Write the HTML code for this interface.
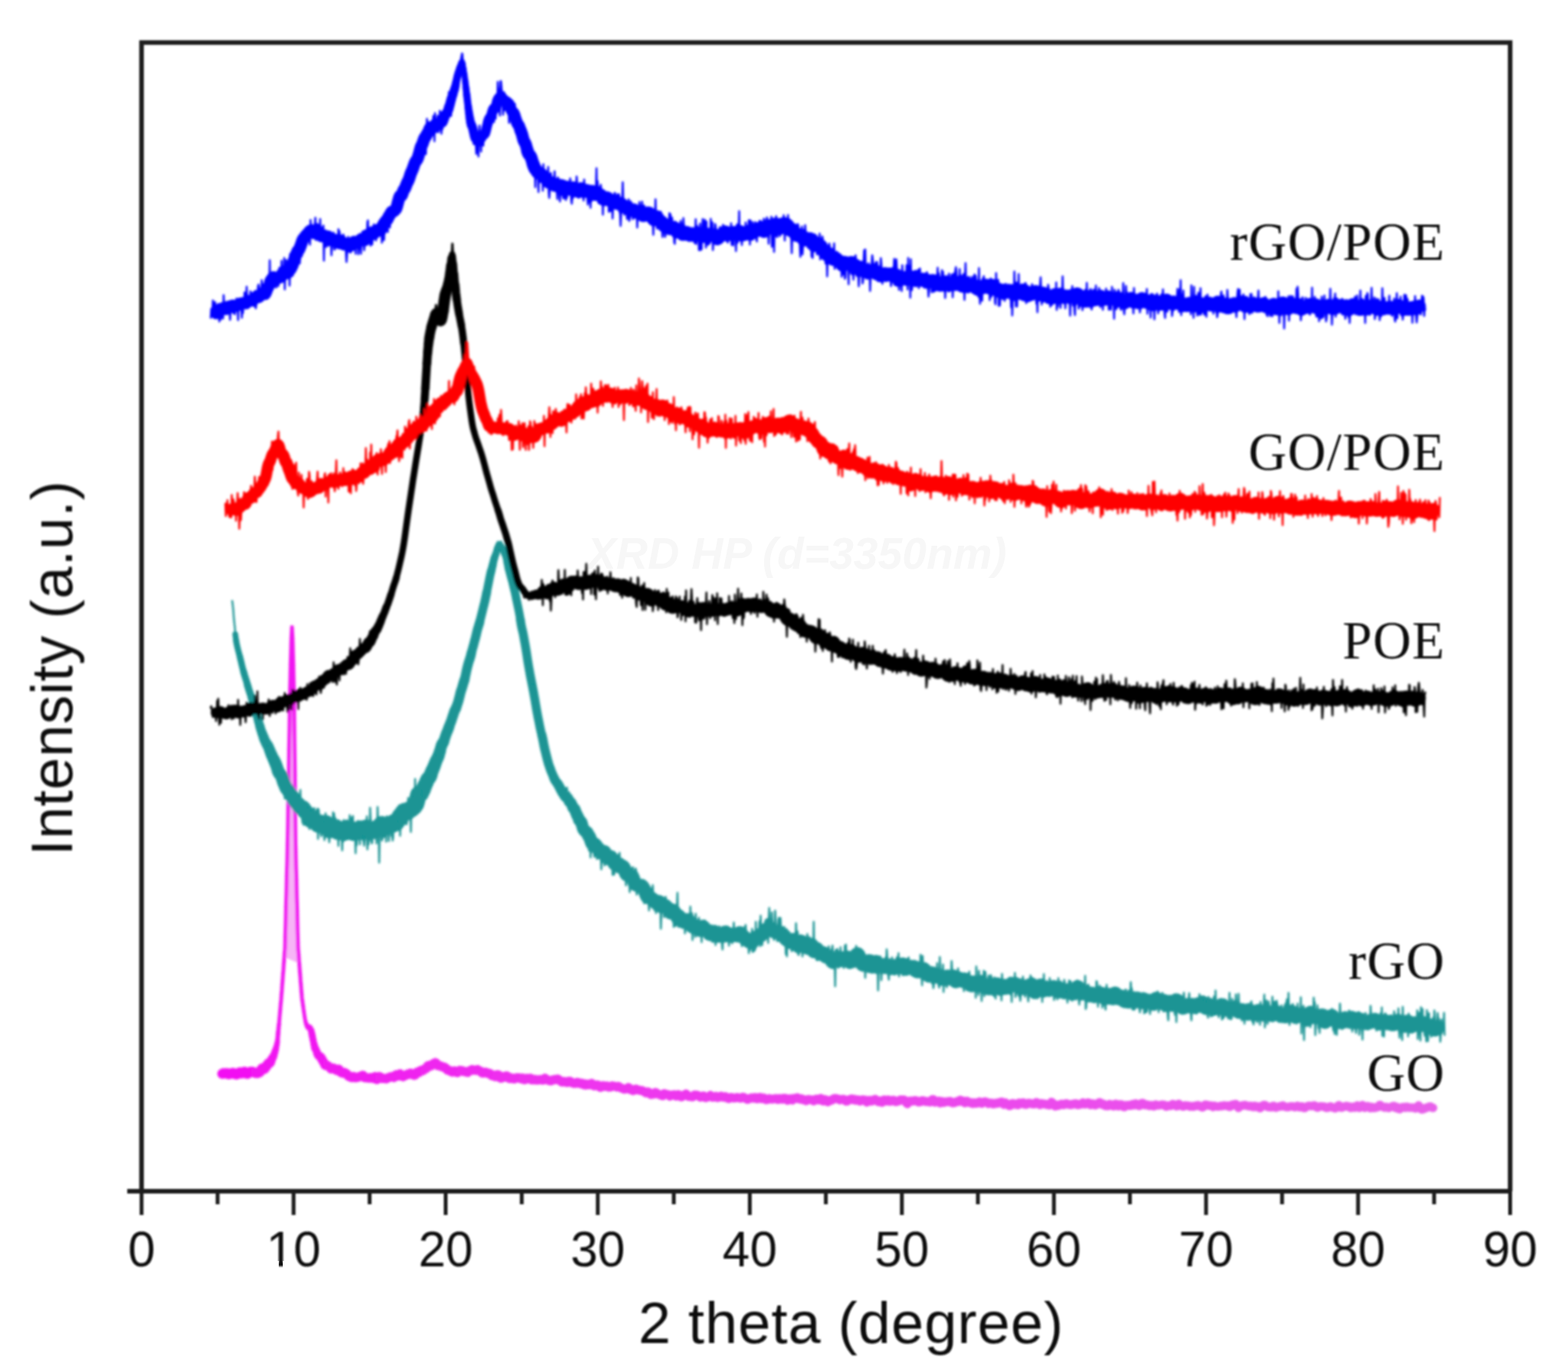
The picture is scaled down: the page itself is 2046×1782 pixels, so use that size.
<!DOCTYPE html>
<html><head><meta charset="utf-8"><title>XRD patterns</title>
<style>html,body{margin:0;padding:0;background:#fff;}body{width:2046px;height:1782px;overflow:hidden;}svg{display:block;}</style>
</head><body>
<svg xmlns="http://www.w3.org/2000/svg" width="2046" height="1782" viewBox="0 0 2046 1782">
<rect width="2046" height="1782" fill="#ffffff"/>
<text x="766" y="742" font-family="Liberation Sans, sans-serif" font-style="italic" font-weight="bold" font-size="57" fill="#f7f7f7">XRD HP (d=3350nm)</text>
<defs><filter id="bl" filterUnits="userSpaceOnUse" x="0" y="0" width="2046" height="1782"><feGaussianBlur stdDeviation="1.7"/></filter><linearGradient id="mg" gradientUnits="userSpaceOnUse" x1="290" y1="0" x2="1870" y2="0"><stop offset="0" stop-color="#f20ef2"/><stop offset="0.25" stop-color="#ee30ee"/><stop offset="1" stop-color="#e860ea"/></linearGradient><filter id="bl2" filterUnits="userSpaceOnUse" x="0" y="0" width="2046" height="1782"><feGaussianBlur stdDeviation="0.9"/></filter></defs>
<g filter="url(#bl)">
<path d="M371.0,1248.4 371.2,1245.0 371.5,1241.7 371.8,1238.3 372.0,1235.0 372.2,1225.1 372.5,1215.1 372.8,1205.2 373.0,1195.3 373.2,1185.4 373.5,1175.4 373.8,1165.5 374.0,1155.6 374.2,1145.7 374.5,1135.7 374.8,1125.8 375.0,1115.9 375.2,1106.0 375.5,1093.7 375.8,1078.1 376.0,1062.5 376.2,1046.9 376.5,1031.2 376.8,1015.6 377.0,1000.0 377.2,983.3 377.5,966.7 377.8,950.0 378.0,933.3 378.2,916.7 378.5,900.0 378.8,890.0 379.0,880.0 379.2,870.0 379.5,860.0 379.8,850.0 380.0,840.0 380.2,834.5 380.5,829.0 380.8,823.5 381.0,818.0 381.2,823.5 381.5,829.0 381.8,834.5 382.0,840.0 382.2,850.0 382.5,860.0 382.8,870.0 383.0,880.0 383.2,890.0 383.5,900.0 383.8,922.7 384.0,945.5 384.2,968.2 384.5,990.9 384.8,1016.7 385.0,1044.4 385.2,1072.2 385.5,1100.0 385.8,1110.2 386.0,1120.5 386.2,1130.7 386.5,1140.9 386.8,1151.1 387.0,1161.4 387.2,1171.6 387.5,1181.8 387.8,1192.0 388.0,1202.3 388.2,1212.5 388.5,1222.7 388.8,1233.0 389.0,1237.6 389.2,1240.8 389.5,1244.0 389.8,1247.2 390.0,1250.5 390.2,1253.7 390.5,1256.9 Z" fill="#f6b4f6" stroke="none"/>
<path d="M290.0 1400.8l1,-0.7 1,-0.2 1,0.3 1,0.4 1,-0.3 1,-0.5 1,0.8 1,0.9 1,-0.1 1,-0.3 1,-0.4 1,-0.7 1,-0.4 1,-0.1 1,0.4 1,0.8 1,0.7 1,0.4 1,-0.1 1,-0.7 1,-0.9 1,-0.8 1,-0.5 1,0.6 1,1 1,-0.1 1,-0.9 1,-0.7 1,-0.6 1,0.3 1,1.4 1,1.1 1,0 1,-0.8 1,-1 1,-0.7 1,-0.3 1,-0.1 1,0 1,0.3 1,0.4 1,0.4 1,0.6 1,0 1,0.3 1,0 1,-0.6 1,-0.2 1,-0.7 1,-1.8 1,-1.7 1,-1.1 1,0.4 1,0.5 1,-0.3 1,-1.4 1,-1.4 1,-1.4 1,-1.3 1,-1.3 1,-0.9" fill="none" stroke="url(#mg)" stroke-width="13.0" stroke-linejoin="round" stroke-linecap="round"/>
<path d="M351.0 1386.8l1,-0.3" fill="none" stroke="url(#mg)" stroke-width="12.5" stroke-linejoin="round" stroke-linecap="round"/>
<path d="M352.0 1386.5l1,-1" fill="none" stroke="url(#mg)" stroke-width="12.0" stroke-linejoin="round" stroke-linecap="round"/>
<path d="M353.0 1385.5l1,-2.5" fill="none" stroke="url(#mg)" stroke-width="11.5" stroke-linejoin="round" stroke-linecap="round"/>
<path d="M354.0 1383.0l1,-2.2" fill="none" stroke="url(#mg)" stroke-width="11.0" stroke-linejoin="round" stroke-linecap="round"/>
<path d="M355.0 1380.8l1,-1.8" fill="none" stroke="url(#mg)" stroke-width="10.5" stroke-linejoin="round" stroke-linecap="round"/>
<path d="M356.0 1379.0l1,-1.4" fill="none" stroke="url(#mg)" stroke-width="10.0" stroke-linejoin="round" stroke-linecap="round"/>
<path d="M357.0 1377.6l1,-3.2" fill="none" stroke="url(#mg)" stroke-width="9.5" stroke-linejoin="round" stroke-linecap="round"/>
<path d="M358.0 1374.4l1,-3.1" fill="none" stroke="url(#mg)" stroke-width="9.0" stroke-linejoin="round" stroke-linecap="round"/>
<path d="M359.0 1371.3l1,-3.2" fill="none" stroke="url(#mg)" stroke-width="8.5" stroke-linejoin="round" stroke-linecap="round"/>
<path d="M360.0 1368.1l1,-4.2" fill="none" stroke="url(#mg)" stroke-width="7.5" stroke-linejoin="round" stroke-linecap="round"/>
<path d="M361.0 1363.9l1,-5.3" fill="none" stroke="url(#mg)" stroke-width="7.0" stroke-linejoin="round" stroke-linecap="round"/>
<path d="M362.0 1358.6l1,-12" fill="none" stroke="url(#mg)" stroke-width="6.0" stroke-linejoin="round" stroke-linecap="round"/>
<path d="M363.0 1346.6l1,-10.4" fill="none" stroke="url(#mg)" stroke-width="5.5" stroke-linejoin="round" stroke-linecap="round"/>
<path d="M364.0 1336.2l1,-11.4 1,-11.4 0.2,-2.8 0.3,-2.9 0.3,-2.9 0.2,-2.8 0.2,-3.4 0.3,-3.3 0.3,-3.3 0.2,-3.4 0.2,-3.4 0.3,-3.3 0.3,-3.3 0.2,-3.4 0.2,-3.4 0.3,-3.3 0.3,-3.3 0.2,-3.4 0.2,-3.4 0.3,-3.3 0.3,-3.3 0.2,-3.4 0.2,-3.4 0.3,-3.3 0.3,-3.3 0.2,-3.4 0.2,-9.9 0.3,-10 0.3,-9.9 0.2,-9.9 0.2,-9.9 0.3,-10 0.3,-9.9 0.2,-9.9 0.2,-9.9 0.3,-10 0.3,-9.9 0.2,-9.9 0.2,-9.9 0.3,-12.3 0.3,-15.6 0.2,-15.6 0.2,-15.6 0.3,-15.7 0.3,-15.6 0.2,-15.6 0.2,-16.7 0.3,-16.6 0.3,-16.7 0.2,-16.7 0.2,-16.6 0.3,-16.7 0.3,-10 0.2,-10 0.2,-10 0.3,-10 0.3,-10 0.2,-10 0.2,-5.5 0.3,-5.5 0.3,-5.5 0.2,-5.5 0.2,5.5 0.3,5.5 0.3,5.5 0.2,5.5 0.2,10 0.3,10 0.3,10 0.2,10 0.2,10 0.3,10 0.3,22.7 0.2,22.8 0.2,22.7 0.3,22.7 0.3,25.8 0.2,27.7 0.2,27.8 0.3,27.8 0.3,10.2 0.2,10.3 0.2,10.2 0.3,10.2 0.3,10.2 0.2,10.3 0.2,10.2 0.3,10.2 0.3,10.2 0.2,10.3 0.2,10.2 0.3,10.2 0.3,10.3 0.2,4.6 0.2,3.2 0.3,3.2 0.3,3.2 0.2,3.3 0.2,3.2 0.3,3.2 0.3,3.2 0.2,3.2 0.2,3.3 0.3,3.2 0.3,3.2 0.2,3.2 0.2,3.3 0.3,3.2 0.3,3.2 0.2,3.2 0.2,3.2 0.3,3.3 0.3,3.2 0.2,3.2 0.2,1.8 0.3,1.7 0.3,1.7 0.2,1.8 0.2,1.8 0.3,1.7 0.3,1.7 0.2,1.8 1,7 1,6.7 1,4.1" fill="none" stroke="url(#mg)" stroke-width="5.0" stroke-linejoin="round" stroke-linecap="round"/>
<path d="M399.0 1333.8l1,3" fill="none" stroke="url(#mg)" stroke-width="5.5" stroke-linejoin="round" stroke-linecap="round"/>
<path d="M400.0 1336.8l1,1.7" fill="none" stroke="url(#mg)" stroke-width="6.0" stroke-linejoin="round" stroke-linecap="round"/>
<path d="M401.0 1338.5l1,1.7" fill="none" stroke="url(#mg)" stroke-width="6.5" stroke-linejoin="round" stroke-linecap="round"/>
<path d="M402.0 1340.2l1,-0.1" fill="none" stroke="url(#mg)" stroke-width="7.0" stroke-linejoin="round" stroke-linecap="round"/>
<path d="M403.0 1340.1l1,0.5" fill="none" stroke="url(#mg)" stroke-width="7.5" stroke-linejoin="round" stroke-linecap="round"/>
<path d="M404.0 1340.6l1,1.9 1,1.7" fill="none" stroke="url(#mg)" stroke-width="8.0" stroke-linejoin="round" stroke-linecap="round"/>
<path d="M406.0 1344.2l1,4.9" fill="none" stroke="url(#mg)" stroke-width="8.5" stroke-linejoin="round" stroke-linecap="round"/>
<path d="M407.0 1349.1l1,5 1,4.9 1,4.3" fill="none" stroke="url(#mg)" stroke-width="9.0" stroke-linejoin="round" stroke-linecap="round"/>
<path d="M410.0 1363.3l1,4.2" fill="none" stroke="url(#mg)" stroke-width="9.5" stroke-linejoin="round" stroke-linecap="round"/>
<path d="M411.0 1367.5l1,1.4 1,2.5 1,2.8" fill="none" stroke="url(#mg)" stroke-width="10.0" stroke-linejoin="round" stroke-linecap="round"/>
<path d="M414.0 1374.2l1,2" fill="none" stroke="url(#mg)" stroke-width="10.5" stroke-linejoin="round" stroke-linecap="round"/>
<path d="M415.0 1376.2l1,1.2 1,0.6 1,0.5" fill="none" stroke="url(#mg)" stroke-width="11.0" stroke-linejoin="round" stroke-linecap="round"/>
<path d="M418.0 1378.5l1,1.4" fill="none" stroke="url(#mg)" stroke-width="11.5" stroke-linejoin="round" stroke-linecap="round"/>
<path d="M419.0 1379.9l1,2 1,1.7 1,1.5 1,1.9 1,2.3 1,0.7 1,0 1,-0.2 1,0.7 1,1 1,0.5 1,1.2 1,1.3 1,-0.1 1,-1 1,-0.1 1,0.4 1,0.7 1,1.2 1,0.8 1,-0.2 1,-1.2 1,-0.3 1,1.5 1,1.9 1,1.1 1,0.3 1,0.5 1,-0.2 1,-0.8 1,0.4 1,0.7 1,0.4 1,1 1,1.7 1,1.1 1,-0.3 1,0.1 1,1.4 1,0.3 1,-1.2 1,-0.4 1,0.5 1,0.9 1,0.3 1,-0.1 1,0 1,-0.4 1,-0.5 1,-0.4 1,-0.5 1,0.5 1,-0.2 1,-1.5 1,0.3 1,1.8 1,1 1,0.1 1,0 1,0.1 1,0.1 1,-0.1 1,0.3 1,-0.4 1,-0.3 1,0.4 1,0.6 1,0.2 1,-1.1 1,-1.4 1,0.1 1,2 1,1.7 1,-0.4 1,-1.9 1,-1.5 1,0.3 1,1.3 1,0.4 1,0.3 1,0.4 1,-0.1 1,-0.2 1,0.4 1,0.2 1,-0.6 1,-0.5 1,-0.6 1,-0.4 1,-0.1 1,-0.4 1,-0.4 1,0.1 1,0.5 1,0.6 1,-0.7 1,-2 1,-0.9 1,0.9 1,0.6 1,-1 1,-1.2 1,-0.4 1,0.7 1,1.3 1,1.4 1,0.3 1,-0.8 1,-0.5 1,-0.3 1,-0.4 1,-0.8 1,-0.7 1,0.5 1,-0.2 1,-1.2 1,-0.2 1,0.9 1,0.7 1,0.6 1,0.4 1,0.1 1,-0.5 1,-1.8 1,-1.6 1,-0.4 1,0.8 1,-0.1 1,-1.4 1,-1.2 1,-0.2 1,0.5 1,-0.3 1,-1 1,-1.1 1,-0.2 1,-0.1 1,-1.5 1,-1.9 1,-0.6 1,0.4 1,0.3 1,-0.1 1,-0.7 1,-1.4 1,-0.9 1,0.1 1,-0.9 1,-0.5 1,0.5 1,1.5 1,1.6 1,0.3 1,0 1,0.3 1,0 1,0.7 1,0.6 1,0.1 1,-0.1 1,0.4 1,0.4 1,1.1 1,1.3 1,0.9 1,0 1,0.1 1,1 1,0.6 1,0.1 1,0.8 1,-0.1 1,-1.1 1,-0.3 1,0.7 1,0.7 1,0.5 1,0.3 1,-1 1,-1.4 1,-0.6 1,0.2 1,0.1 1,0.1 1,0.6 1,0.5 1,0 1,0.3 1,0.3 1,0.2 1,0.4 1,-0.6 1,-1.2 1,-0.2 1,-0.2 1,-1 1,-0.5 1,0.4 1,0.2 1,0 1,0.2 1,0.2 1,-0.6 1,-0.3 1,0.8 1,0.6 1,0.2 1,0.4 1,0.8 1,1.3 1,0.4 1,-0.2 1,-0.3 1,-0.5 1,-0.2 1,0.9 1,0.6 1,-0.2 1,0 1,0.4 1,1 1,1 1,0.8 1,-0.3 1,-0.4 1,0.8 1,1.2 1,-0.2 1,-1.4 1,-0.9 1,0.1 1,0.6 1,1.8 1,1.9 1,0.2 1,-0.8 1,-0.6 1,0.2 1,-0.1 1,-1.1 1,-0.5 1,-0.1 1,0.3 1,1.2 1,1.5 1,0.3 1,-0.8 1,0 1,0.9 1,0.1 1,0.1 1,0.3 1,-0.8 1,-0.5 1,0.3 1,-0.4 1,-0.2 1,0.5 1,-0.1 1,0.2 1,0.9 1,-0.1 1,-0.9 1,0.8 1,1.3 1,0.1 1,-1 1,-0.7 1,-0.1 1,0.2 1,0.5 1,-0.4 1,-0.4 1,1.1 1,0.9 1,-0.4 1,-0.3 1,0.7 1,0.1 1,-0.4 1,0.1 1,0.5 1,0 1,-0.4 1,-0.1 1,0.1 1,-0.1 1,0.1 1,0.5 1,-0.2 1,-1.4 1,-0.9 1,0.7 1,0.9 1,0.3 1,0.5 1,0.5 1,0.2 1,0.2 1,0.1 1,-0.5 1,-0.6 1,-0.3 1,-0.1 1,-0.2 1,-0.1 1,-0.1 1,-0.2 1,-0.2 1,0.9 1,1 1,0.2 1,0.6 1,0.9 1,0.2 1,-0.5 1,-0.1 1,0.2 1,0.3 1,0.5 1,0.2 1,-0.6 1,-0.7 1,-0.4 1,0.3 1,0.9 1,0.7 1,0.2 1,0.5 1,0.3 1,-0.2 1,0.2 1,-0.4 1,-0.9 1,0.1 1,0.7 1,0.5 1,-0.2 1,-0.1 1,1 1,0.3 1,-0.8 1,0.5 1,1.4 1,0.1 1,-0.9 1,-0.3 1,0.4 1,0.4 1,-0.1 1,-0.3 1,-0.8 1,-0.5 1,0.9 1,1.1 1,0.9 1,0.2 1,-0.5 1,-0.6 1,0 1,0.1 1,0.9 1,0.9 1,0.9" fill="none" stroke="url(#mg)" stroke-width="12.0" stroke-linejoin="round" stroke-linecap="round"/>
<path d="M783.0 1418.2l1,0.4 1,-0.8 1,-1.4 1,-0.4 1,0.9 1,0.5 1,-0.3 1,-0.7 1,0.1 1,1.2 1,0.7 1,-0.3 1,0.1 1,-0.1 1,-1 1,-0.8 1,0.4 1,0.2 1,0.1 1,0.2 1,0.7 1,0.3 1,-0.9 1,-0.2 1,0.6 1,0.7 1,0.7 1,0.5 1,0.4 1,0.3 1,0.6 1,0.2 1,-0.6 1,-0.1 1,0.2 1,-0.7 1,-1.2 1,0.6 1,1.5 1,0.9 1,0.1 1,0.1 1,1 1,-0.2 1,-1.2 1,-0.7 1,-0.2 1,0.5 1,0.5 1,0.3 1,0.4 1,0.3 1,0.1 1,-0.2 1,0.2 1,0.5 1,0.9 1,0.4 1,0.6 1,0.6 1,-0.6 1,-0.8 1,0.1 1,0.7 1,1.5 1,1.4 1,0 1,-0.9 1,-0.1 1,0.4 1,-0.8 1,-1.5 1,0.1 1,0.9 1,0.7 1,0.8 1,0.3 1,-0.1 1,0.5 1,0.6 1,0.6 1,0 1,-1.6 1,-1.3 1,0.4 1,0.7 1,0.1 1,-0.1 1,0.3 1,1.1 1,0.9 1,-0.6 1,-0.9 1,0 1,0 1,-0.4 1,0 1,0.8 1,1.2 1,0 1,-1.3 1,-0.9 1,0.4 1,0.6 1,1.2 1,0.9 1,-0.3 1,-1.1 1,-0.7 1,0.1 1,-0.8 1,-1.2 1,0.8 1,1.6 1,0.7 1,0.5 1,0 1,-0.1 1,0.2 1,0.3 1,-0.2 1,-1.1 1,-1.2 1,-0.2 1,0.4 1,-0.2 1,0.3 1,0.7 1,0.5 1,0.7 1,0.8 1,-0.4 1,-1 1,-0.4 1,-0.1 1,0.8 1,1.1 1,0.5 1,-0.3 1,-0.5 1,-0.2 1,-0.4 1,-0.9 1,-0.7 1,0.8 1,1.2 1,0.5 1,-0.3 1,-0.5 1,-0.4 1,-0.2 1,0.7 1,1.1 1,-0.1 1,-0.4 1,-0.3 1,-0.9 1,-0.4 1,0.5 1,0.9 1,0.3 1,-0.5 1,-0.5 1,0.2 1,0.8 1,0.8 1,0.7 1,0.2 1,-0.6 1,-0.8 1,-0.3 1,0.3 1,0.3 1,0.4 1,0.1 1,-0.3 1,-0.1 1,-0.4 1,-0.2 1,0.5 1,0.1 1,0 1,0.6 1,0 1,-0.9 1,-0.6 1,-0.1 1,0.6 1,0.7 1,0.4 1,0.6 1,0.7 1,0 1,-0.5 1,-0.5 1,-0.5 1,-0.6 1,-0.1 1,0.6 1,0.2 1,-0.8 1,-0.4 1,1 1,0.7 1,0.3 1,-0.6 1,-1 1,-0.5 1,-0.1 1,0.7 1,1.3 1,-0.2 1,-0.9 1,-0.1 1,1 1,1.2 1,0.3 1,-0.2 1,-0.1 1,-0.6 1,-0.7 1,0.4 1,0.2 1,0.2 1,0 1,-0.5 1,0 1,0.1 1,-0.5 1,0.2 1,0.9 1,0.4 1,-0.3 1,-1 1,-0.2 1,0.3 1,0.3 1,0.5 1,-0.7 1,-0.8 1,0.1 1,0.1 1,0.9 1,1.3 1,0.5 1,-1 1,-0.9 1,-0.4 1,0.4 1,1 1,0.5 1,-1.1 1,-1.2 1,0.5 1,0 1,-0.8 1,-0.6 1,0.2 1,1.2 1,0.6 1,-0.2 1,-0.5 1,0.2 1,1 1,0.4 1,-0.3 1,0.1 1,0.8 1,0.6 1,-0.7 1,-0.9 1,-0.2 1,0.2 1,0.1 1,0.1 1,0.1 1,0.2 1,1 1,0.3 1,-1 1,-0.9 1,-0.6 1,0 1,0.3 1,1 1,-0.2 1,-1.4 1,-0.6 1,0.9 1,2.1 1,0.6 1,-1.2 1,-1 1,0.3 1,1 1,1.2 1,0.7 1,-0.3 1,-0.9 1,-0.8 1,-0.2 1,0.2 1,-0.5 1,-0.9 1,-0.8 1,-0.2 1,0.1 1,-0.1 1,0.1 1,0.5 1,0.3 1,0.6 1,0.4 1,-0.3 1,-0.3 1,0 1,-0.3 1,0.2 1,0.5 1,0.8 1,1.1 1,-0.1 1,-0.5 1,-0.6 1,-0.8 1,0.1 1,-0.5 1,-0.8 1,0.2 1,1.1 1,0 1,-0.6 1,0.8 1,0.6 1,-0.4 1,-0.4 1,0 1,0.9 1,0.9 1,-0.5 1,-0.6 1,-0.2 1,-0.6 1,0.4 1,0.2 1,-0.1 1,1.3 1,1.5 1,-0.6 1,-1.4 1,-0.5 1,-0.1 1,0.5 1,0.8 1,-0.2 1,-0.7 1,-0.7 1,-0.8 1,-0.1 1,0.8 1,0.8 1,0.8 1,0.7 1,-0.4 1,-0.8 1,0.6 1,1.3 1,0.2 1,-1.4 1,-1.6 1,-0.4 1,0.7 1,0.7 1,0.3 1,-0.7 1,-0.8 1,0.8 1,1.1 1,0 1,-0.7 1,-0.5 1,-0.4 1,0 1,0.9 1,0.9 1,0.2 1,-0.1 1,-0.7 1,-0.2 1,0 1,-0.7 1,-0.7 1,0 1,0.2 1,-0.1 1,-0.1 1,0.3 1,0.8 1,1.5 1,1.7 1,0.7 1,-1.1 1,-1.3 1,-1 1,-0.2 1,0.2 1,0.2 1,0 1,-0.5 1,-0.4 1,-0.1 1,0.2 1,0.2 1,0.4 1,1.1 1,0.2 1,-0.6 1,0.2 1,-0.4 1,-1 1,-0.2 1,0.5 1,0.1 1,0.2 1,0.5 1,0.2 1,-0.2 1,0.1 1,0 1,0.5 1,0.1 1,-1.4 1,-1.4 1,-0.6 1,0.2 1,1.8 1,1.6 1,-0.5 1,-0.3 1,0.3 1,-0.5 1,-0.7 1,1.2 1,1.4 1,-0.5 1,-1.4 1,0.4 1,1 1,-0.2 1,-0.7 1,0 1,0 1,-0.2 1,0 1,-0.1 1,-0.4 1,0 1,0.7 1,1 1,0.3 1,0 1,-0.1 1,-0.3 1,-0.7 1,-0.5 1,-0.2 1,0.3 1,-0.4 1,-1.3 1,-0.4 1,0.9 1,0.9 1,-0.1 1,-0.4 1,0.9 1,1.5 1,-0.8 1,-1.6 1,0.1 1,1.3 1,0.4 1,0 1,0 1,0.2 1,0.9 1,0.4 1,-0.9 1,-0.4 1,0.4 1,0.5 1,0.1 1,-0.5 1,-0.6 1,-0.4 1,-0.5 1,0.6 1,1.1 1,0.4 1,-0.9 1,-0.7 1,-0.4 1,-0.3 1,0.2 1,0.3 1,0.5 1,0.9 1,0.6 1,-0.4 1,-0.2 1,-0.2 1,0 1,0.7 1,0.6 1,-0.2 1,-0.5 1,-0.3 1,-0.1 1,0.3 1,-0.2 1,-0.6 1,-0.3 1,-0.2 1,-0.5 1,-0.1 1,0.8 1,1.7 1,0.7 1,-1.1 1,-0.9 1,0.7 1,1.2 1,0.5 1,0.6 1,0.8 1,-0.2 1,-1.1 1,-1.2 1,-0.6 1,0.2 1,0.8 1,0.3 1,-0.4 1,-0.1 1,0.7 1,0.4 1,-1.1 1,-1.3 1,0.3 1,0.8 1,0 1,-1 1,-0.5 1,0.7 1,1.2 1,0.4 1,0.1 1,-0.4 1,-1.1 1,-0.4 1,0.4 1,-0.2 1,0.3 1,0.6 1,0 1,0.1 1,0.1 1,-0.1 1,-0.8 1,-1.2 1,0.2 1,1 1,0.3 1,0.8 1,0.7 1,-0.7 1,-1 1,0.1 1,0.4 1,0.2 1,0 1,0 1,0.5 1,0.4 1,-0.2 1,0.4 1,0.4 1,-0.8 1,-1.7 1,-1.3 1,0.5 1,1.3 1,0.9 1,1.3 1,1.2 1,-0.8 1,-0.8 1,0.6 1,0.1 1,-0.6 1,-0.5 1,-0.3 1,-0.5 1,0.1 1,0.9 1,0 1,-0.8 1,-0.4 1,-0.4 1,0 1,0.7 1,0.3 1,0 1,0.3 1,0.3 1,-0.3 1,-0.5 1,0.1 1,0 1,-0.6 1,-0.2 1,0 1,0.7 1,0.7 1,0 1,-0.3 1,-0.4 1,-0.1 1,0.1 1,-1 1,-0.8 1,0.5 1,0.7 1,0.5 1,-0.4 1,-0.7 1,-0.5 1,-0.2 1,0.5 1,1.4 1,0.8 1,-0.9 1,-0.6 1,0.2 1,0.5 1,0.7 1,0.5 1,-0.4 1,-0.5 1,-0.6 1,-0.8 1,-0.8 1,-0.3 1,0.7 1,0.9 1,0.8 1,0 1,-0.4 1,1.1 1,1 1,-0.4 1,0.1 1,0.6 1,-0.2 1,-1 1,-0.9 1,0.2 1,1 1,0.6 1,0.1 1,0.4 1,-0.8 1,-1.6 1,-0.3 1,0.8 1,1.3 1,0.5 1,-1.2 1,-0.7 1,0.1 1,-0.1 1,0.5 1,1.4 1,1 1,0.1 1,-0.8 1,-1.1 1,0 1,0.3 1,-0.3 1,-0.2 1,0.1 1,0.4 1,-0.4 1,-1.1 1,-0.2 1,0.6 1,0.4 1,-0.9 1,-0.8 1,0.6 1,0.6 1,0.4 1,1 1,-0.2 1,-1.3 1,-1 1,-0.8 1,0.1 1,0.7 1,1 1,0.6 1,0 1,-0.4 1,0.1 1,0.4 1,0.5 1,0.4 1,-0.3 1,-0.3 1,0.2 1,0.2 1,0.5 1,0 1,-0.9 1,-0.8" fill="none" stroke="url(#mg)" stroke-width="11.5" stroke-linejoin="round" stroke-linecap="round"/>
<path d="M1508.0 1441.2l1,0 1,0.5 1,0.4 1,0 1,-0.2 1,-0.2 1,-0.3 1,-0.3 1,0 1,0.1 1,0.1 1,0.6 1,1.4 1,0.4 1,-0.9 1,-0.6 1,0 1,0.3 1,0.3 1,-0.4 1,-1.1 1,-1 1,0.3 1,0.6 1,0.1 1,0.8 1,1.1 1,-0.1 1,-1.9 1,-1.3 1,1.1 1,0.8 1,0.1 1,0.8 1,0.6 1,0.2 1,-0.5 1,-0.8 1,-0.2 1,0.5 1,0 1,-0.2 1,0.2 1,0.6 1,0.6 1,-0.2 1,-0.5 1,0.2 1,0.6 1,-0.3 1,-0.8 1,-0.4 1,0.4 1,-0.3 1,-0.6 1,0.2 1,0.9 1,0.4 1,0.4 1,0.6 1,0.4 1,-0.5 1,-1.4 1,-1.3 1,-0.5 1,0.7 1,0.3 1,-0.4 1,0.4 1,0.5 1,0.1 1,-0.3 1,-0.1 1,1 1,0.9 1,-0.7 1,-0.8 1,0.3 1,0.4 1,-0.1 1,0.4 1,-0.1 1,-0.1 1,-0.2 1,-0.6 1,0.1 1,0.4 1,-0.6 1,-0.6 1,0.2 1,0.2 1,0.4 1,-0.2 1,-0.2 1,0.8 1,0.8 1,0.1 1,-0.9 1,-1.3 1,-0.7 1,0.3 1,0.1 1,-0.6 1,-0.7 1,0.4 1,1.7 1,1.8 1,1.1 1,-0.6 1,-1.2 1,-0.3 1,-0.7 1,-0.5 1,0.3 1,-0.3 1,-0.4 1,0.2 1,0.6 1,0.2 1,0.2 1,0.4 1,0.1 1,-0.5 1,-0.1 1,0.6 1,0.6 1,0.4 1,-0.6 1,-1 1,0.7 1,0.8 1,-0.2 1,-0.6 1,0.6 1,1.3 1,0.5 1,-0.6 1,-1.3 1,-1.2 1,-0.7 1,-0.5 1,0.1 1,0.3 1,0.6 1,0.7 1,0.8 1,0.4 1,-0.1 1,0 1,0.3 1,0.1 1,-0.9 1,-1 1,-0.1 1,1 1,1.2 1,0.3 1,-0.6 1,-0.4 1,-0.2 1,-0.3 1,-0.4 1,0.3 1,-0.3 1,-0.9 1,-0.2 1,0.5 1,0.7 1,0.6 1,0.2 1,0.2 1,0 1,-0.1 1,-0.3 1,-0.3 1,-0.4 1,0.1 1,-0.1 1,0.1 1,0.5 1,0.5 1,0.1 1,-0.6 1,-0.6 1,-0.7 1,0.4 1,1.3 1,0.3 1,-0.3 1,-0.6 1,-0.3 1,1 1,0.9 1,0.3 1,-0.1 1,-1 1,-0.8 1,-0.5 1,-0.3 1,-0.2 1,0 1,0.3 1,0.2 1,-0.2 1,-0.4 1,-0.3 1,-0.2 1,0.5 1,1 1,1 1,0.6 1,-0.3 1,-0.8 1,-0.6 1,-0.1 1,-0.1 1,0 1,0.5 1,0.1 1,-0.3 1,0.4 1,1.2 1,0.2 1,-0.5 1,0.1 1,-0.3 1,-0.8 1,-0.6 1,0.6 1,0.9 1,0.2 1,0.2 1,0.3 1,0.5 1,-0.2 1,-1.3 1,-1.1 1,-0.9 1,-0.6 1,0.8 1,1.6 1,0.9 1,0 1,-0.6 1,-0.7 1,-0.4 1,0 1,-0.5 1,-0.2 1,0.8 1,-0.1 1,-0.2 1,1 1,1.1 1,0.1 1,-1.1 1,-0.4 1,0.6 1,0.3 1,0.2 1,-0.8 1,-1.5 1,-0.5 1,1.1 1,1.6 1,0.4 1,-0.8 1,-1.1 1,-1.1 1,-0.7 1,1.2 1,1.6 1,0.8 1,-0.5 1,-1 1,-0.5 1,-0.2 1,0.4 1,1.3 1,1 1,-0.9 1,-0.7 1,0.8 1,0.5 1,-0.3 1,0.2 1,-0.2 1,-0.9 1,0.2 1,0.1 1,-1.7 1,-1.3 1,0 1,0.9 1,0.9 1,0.3 1,0.7 1,0.6 1,0 1,-0.5 1,-0.3 1,0.3 1,0.8 1,0.2 1,-0.3 1,-0.7 1,-0.3 1,-0.3 1,-0.6 1,-0.5 1,0 1,1.3 1,1.5 1,-0.6 1,-0.7 1,1 1,1.4 1,0.4 1,-0.5 1,-0.7 1,-0.9 1,-0.7 1,0 1,-0.1 1,0.3 1,0.8 1,-0.5 1,-0.8 1,0.5 1,0.6 1,-0.3 1,0 1,0.4 1,-0.1 1,0.1 1,-0.2 1,0.1 1,0.7 1,0.4 1,-0.3 1,-0.9 1,-1.7 1,-1.1 1,0.9 1,1.8 1,1.7 1,0.9 1,-0.1 1,-0.2 1,-0.5 1,-0.3 1,-0.6 1,-0.8 1,0.1 1,-0.5 1,-0.5 1,-0.4 1,-0.2 1,0.2 1,1 1,0.7 1,-0.1" fill="none" stroke="url(#mg)" stroke-width="11.0" stroke-linejoin="round" stroke-linecap="round"/>
<path d="M307.0 827.4l1,7.8" fill="none" stroke="#1a9494" stroke-width="7.5" stroke-linejoin="round" stroke-linecap="round"/>
<path d="M308.0 835.2l1,5.7 1,4.4 1,3.9 1,3.7 1,3.9" fill="none" stroke="#1a9494" stroke-width="8.0" stroke-linejoin="round" stroke-linecap="round"/>
<path d="M313.0 856.8l1,4 1,4.2 1,4.3 1,3.8 1,3.7" fill="none" stroke="#1a9494" stroke-width="8.5" stroke-linejoin="round" stroke-linecap="round"/>
<path d="M318.0 876.8l1,3.5 1,3.2 1,3.1 1,3.5 1,3.6" fill="none" stroke="#1a9494" stroke-width="9.0" stroke-linejoin="round" stroke-linecap="round"/>
<path d="M323.0 893.7l1,3.5 1,3.3 1,2.9 1,3 1,3.1" fill="none" stroke="#1a9494" stroke-width="9.5" stroke-linejoin="round" stroke-linecap="round"/>
<path d="M328.0 909.5l1,3.3 1,3.5 1,3.4 1,3.4" fill="none" stroke="#1a9494" stroke-width="10.0" stroke-linejoin="round" stroke-linecap="round"/>
<path d="M332.0 923.1l1,3.5 1,3.5" fill="none" stroke="#1a9494" stroke-width="10.5" stroke-linejoin="round" stroke-linecap="round"/>
<path d="M334.0 930.1l1,3.1 1,3.1 1,3.4" fill="none" stroke="#1a9494" stroke-width="11.0" stroke-linejoin="round" stroke-linecap="round"/>
<path d="M337.0 939.7l1,3.8 1,3.7" fill="none" stroke="#1a9494" stroke-width="11.5" stroke-linejoin="round" stroke-linecap="round"/>
<path d="M339.0 947.2l1,3.5 1,3.1 1,2.7" fill="none" stroke="#1a9494" stroke-width="12.0" stroke-linejoin="round" stroke-linecap="round"/>
<path d="M342.0 956.5l1,2.5 1,2.8" fill="none" stroke="#1a9494" stroke-width="12.5" stroke-linejoin="round" stroke-linecap="round"/>
<path d="M344.0 961.8l1,2.8 1,2.3 1,1.8" fill="none" stroke="#1a9494" stroke-width="13.0" stroke-linejoin="round" stroke-linecap="round"/>
<path d="M347.0 968.7l1,1.8 1,1.6" fill="none" stroke="#1a9494" stroke-width="13.5" stroke-linejoin="round" stroke-linecap="round"/>
<path d="M349.0 972.1l1,1.7 1,2.3 1,2.8" fill="none" stroke="#1a9494" stroke-width="14.0" stroke-linejoin="round" stroke-linecap="round"/>
<path d="M352.0 978.9l1,2.7 1,2.4" fill="none" stroke="#1a9494" stroke-width="14.5" stroke-linejoin="round" stroke-linecap="round"/>
<path d="M354.0 984.0l1,2.3 1,2.2 1,1.9" fill="none" stroke="#1a9494" stroke-width="15.0" stroke-linejoin="round" stroke-linecap="round"/>
<path d="M357.0 990.4l1,1.9 1,2.3" fill="none" stroke="#1a9494" stroke-width="15.5" stroke-linejoin="round" stroke-linecap="round"/>
<path d="M359.0 994.6l1,2.4 1,2.7 1,3.2 1,3" fill="none" stroke="#1a9494" stroke-width="16.0" stroke-linejoin="round" stroke-linecap="round"/>
<path d="M363.0 1005.9l1,2.2 1,1.6 1,0.7 1,1.1 1,2.3" fill="none" stroke="#1a9494" stroke-width="16.5" stroke-linejoin="round" stroke-linecap="round"/>
<path d="M368.0 1013.8l1,3.3 1,3.3 1,2.2 1,2 1,2.3" fill="none" stroke="#1a9494" stroke-width="17.0" stroke-linejoin="round" stroke-linecap="round"/>
<path d="M373.0 1026.9l1,2 1,1 1,0.9 1,1.7 1,2" fill="none" stroke="#1a9494" stroke-width="17.5" stroke-linejoin="round" stroke-linecap="round"/>
<path d="M378.0 1034.5l1,1.6 1,1.4 1,1 1,1.2 1,2.1" fill="none" stroke="#1a9494" stroke-width="18.0" stroke-linejoin="round" stroke-linecap="round"/>
<path d="M383.0 1041.8l1,2.1 1,1.3 1,1.2 1,0.9 1,0.8" fill="none" stroke="#1a9494" stroke-width="18.5" stroke-linejoin="round" stroke-linecap="round"/>
<path d="M388.0 1048.1l1,1.3 1,1.8 1,1.6 1,0.9 1,0.2" fill="none" stroke="#1a9494" stroke-width="19.0" stroke-linejoin="round" stroke-linecap="round"/>
<path d="M393.0 1053.9l1,-0.3 1,0 1,0.9 1,1.6 1,1.7" fill="none" stroke="#1a9494" stroke-width="19.5" stroke-linejoin="round" stroke-linecap="round"/>
<path d="M398.0 1057.8l1,1.5 1,1.1 1,0.9 1,2 1,3.1" fill="none" stroke="#1a9494" stroke-width="20.0" stroke-linejoin="round" stroke-linecap="round"/>
<path d="M403.0 1066.4l1,2.1 1,1 1,0.8 1,-0.1 1,-1" fill="none" stroke="#1a9494" stroke-width="20.5" stroke-linejoin="round" stroke-linecap="round"/>
<path d="M408.0 1069.2l1,-0.4 1,0.5 1,1.2 1,1.3 1,1.1" fill="none" stroke="#1a9494" stroke-width="21.0" stroke-linejoin="round" stroke-linecap="round"/>
<path d="M413.0 1072.9l1,1.4 1,1.1 1,0.5 1,-0.3 1,-1.1" fill="none" stroke="#1a9494" stroke-width="21.5" stroke-linejoin="round" stroke-linecap="round"/>
<path d="M418.0 1074.5l1,-0.6 1,0.8 1,0.7 1,0 1,-0.5 1,-0.4 1,-0.1 1,0.3 1,1.1 1,2.3 1,3.2 1,1.4 1,-1.8 1,-2.1 1,-0.4 1,-0.1 1,0.3 1,1.2 1,1.4 1,0.9 1,0.8 1,0.9 1,0.9 1,-0.3 1,-1.4 1,-1.1 1,0.3 1,1.5 1,1.8 1,0.7 1,-0.4 1,-1.3 1,-2.3 1,-1.5 1,0.9 1,2.1 1,1 1,-0.2 1,-0.4 1,-0.7 1,-0.1 1,1.3 1,1.2 1,-0.4 1,-1.7 1,-1 1,0.9 1,1.6 1,0 1,-1.8 1,-1.7 1,-0.3 1,1 1,1.1 1,0.9 1,0.4 1,-1 1,-1.9 1,-1.4 1,-0.4 1,1.4 1,2.3 1,0.4 1,-0.9 1,0.2 1,0.6 1,-0.3 1,-0.2 1,-0.2 1,-0.6 1,-0.7 1,-0.5 1,-0.7 1,-0.5 1,0.3 1,0.2 1,-0.4 1,-0.9 1,-2.1 1,-1.9 1,0.6 1,2.4 1,1 1,-1.1 1,-1 1,0.6 1,0.5 1,-1.1 1,-1.3 1,-0.1 1,0.1 1,-0.2 1,0 1,-0.5 1,-1.3 1,-1.2 1,0.1 1,0.6 1,-0.6 1,-1.8 1,-1.5 1,-0.8 1,-1.3 1,-2.3 1,-1.5 1,0.1 1,-0.8 1,-2.2 1,-1.8 1,-0.9 1,0.1 1,0.7 1,0.3 1,-0.6 1,-1.1 1,-1.1 1,-0.6 1,-0.4 1,-0.6 1,-0.9 1,-0.8 1,-0.7 1,-1.4 1,-1.5" fill="none" stroke="#1a9494" stroke-width="22.0" stroke-linejoin="round" stroke-linecap="round"/>
<path d="M542.0 1049.7l1,-1.3 1,-3.5" fill="none" stroke="#1a9494" stroke-width="21.5" stroke-linejoin="round" stroke-linecap="round"/>
<path d="M544.0 1044.9l1,-5.4 1,-3.6 1,-0.4" fill="none" stroke="#1a9494" stroke-width="21.0" stroke-linejoin="round" stroke-linecap="round"/>
<path d="M547.0 1035.5l1,0.8 1,-0.4" fill="none" stroke="#1a9494" stroke-width="20.5" stroke-linejoin="round" stroke-linecap="round"/>
<path d="M549.0 1035.9l1,-1.7 1,-2 1,-1.8" fill="none" stroke="#1a9494" stroke-width="20.0" stroke-linejoin="round" stroke-linecap="round"/>
<path d="M552.0 1030.4l1,-2.3 1,-2.5" fill="none" stroke="#1a9494" stroke-width="19.5" stroke-linejoin="round" stroke-linecap="round"/>
<path d="M554.0 1025.6l1,-1.9 1,-2 1,-2.9" fill="none" stroke="#1a9494" stroke-width="19.0" stroke-linejoin="round" stroke-linecap="round"/>
<path d="M557.0 1018.8l1,-2.4 1,-1" fill="none" stroke="#1a9494" stroke-width="18.5" stroke-linejoin="round" stroke-linecap="round"/>
<path d="M559.0 1015.4l1,-0.4 1,-1.5 1,-2.8" fill="none" stroke="#1a9494" stroke-width="18.0" stroke-linejoin="round" stroke-linecap="round"/>
<path d="M562.0 1010.7l1,-3.1 1,-2.5" fill="none" stroke="#1a9494" stroke-width="17.5" stroke-linejoin="round" stroke-linecap="round"/>
<path d="M564.0 1005.1l1,-2.1 1,-2.3 1,-2.6" fill="none" stroke="#1a9494" stroke-width="17.0" stroke-linejoin="round" stroke-linecap="round"/>
<path d="M567.0 998.1l1,-2.8 1,-2.6" fill="none" stroke="#1a9494" stroke-width="16.5" stroke-linejoin="round" stroke-linecap="round"/>
<path d="M569.0 992.7l1,-1.9 1,-1.9 1,-2.4" fill="none" stroke="#1a9494" stroke-width="16.0" stroke-linejoin="round" stroke-linecap="round"/>
<path d="M572.0 986.5l1,-2.9 1,-3.3" fill="none" stroke="#1a9494" stroke-width="15.5" stroke-linejoin="round" stroke-linecap="round"/>
<path d="M574.0 980.3l1,-3.9 1,-3.6 1,-2.3" fill="none" stroke="#1a9494" stroke-width="15.0" stroke-linejoin="round" stroke-linecap="round"/>
<path d="M577.0 970.5l1,-1.2 1,-2" fill="none" stroke="#1a9494" stroke-width="14.5" stroke-linejoin="round" stroke-linecap="round"/>
<path d="M579.0 967.3l1,-3.1 1,-3.1 1,-2.9 1,-2.6 1,-2.2 1,-2.5 1,-3" fill="none" stroke="#1a9494" stroke-width="14.0" stroke-linejoin="round" stroke-linecap="round"/>
<path d="M586.0 947.9l1,-2.9 1,-2.5 1,-2.7 1,-3.1 1,-2.9 1,-3.1 1,-3 1,-1.9 1,-2" fill="none" stroke="#1a9494" stroke-width="13.5" stroke-linejoin="round" stroke-linecap="round"/>
<path d="M595.0 923.8l1,-2.8 1,-2.9 1,-3.1 1,-3.7 1,-4.1 1,-4.2 1,-3.1 1,-2.9 1,-3.5 1,-3.4 1,-3" fill="none" stroke="#1a9494" stroke-width="13.0" stroke-linejoin="round" stroke-linecap="round"/>
<path d="M606.0 887.1l1,-3.9 1,-4.7 1,-4.7 1,-4.2 1,-3.8 1,-3.3 1,-2.8 1,-3.4 1,-4.2" fill="none" stroke="#1a9494" stroke-width="12.5" stroke-linejoin="round" stroke-linecap="round"/>
<path d="M615.0 852.1l1,-3.9 1,-3.5 1,-3.6 1,-3.9 1,-3.5 1,-3.9 1,-4.4 1,-4.2 1,-3.2 1,-3.1 1,-3.6" fill="none" stroke="#1a9494" stroke-width="12.0" stroke-linejoin="round" stroke-linecap="round"/>
<path d="M626.0 811.3l1,-4.1 1,-4 1,-4.1 1,-4.1 1,-4 1,-3.9 1,-4.2 1,-4.8 1,-4.9" fill="none" stroke="#1a9494" stroke-width="11.5" stroke-linejoin="round" stroke-linecap="round"/>
<path d="M635.0 773.2l1,-5 1,-5.1 1,-5 1,-5.1 1,-4.7 1,-3.9" fill="none" stroke="#1a9494" stroke-width="11.0" stroke-linejoin="round" stroke-linecap="round"/>
<path d="M641.0 744.4l1,-3.5 1,-4.3" fill="none" stroke="#1a9494" stroke-width="10.5" stroke-linejoin="round" stroke-linecap="round"/>
<path d="M643.0 736.6l1,-4.6 1,-3.8" fill="none" stroke="#1a9494" stroke-width="10.0" stroke-linejoin="round" stroke-linecap="round"/>
<path d="M645.0 728.2l1,-2.7 1,-2.7" fill="none" stroke="#1a9494" stroke-width="9.5" stroke-linejoin="round" stroke-linecap="round"/>
<path d="M647.0 722.8l1,-3.7 1,-3.7" fill="none" stroke="#1a9494" stroke-width="9.0" stroke-linejoin="round" stroke-linecap="round"/>
<path d="M649.0 715.4l1,-3 1,-1.8" fill="none" stroke="#1a9494" stroke-width="8.5" stroke-linejoin="round" stroke-linecap="round"/>
<path d="M651.0 710.6l1,-0.3 1,1.1" fill="none" stroke="#1a9494" stroke-width="8.0" stroke-linejoin="round" stroke-linecap="round"/>
<path d="M653.0 711.4l1,1.7 1,1.5" fill="none" stroke="#1a9494" stroke-width="8.5" stroke-linejoin="round" stroke-linecap="round"/>
<path d="M655.0 714.6l1,1.6 1,2.2" fill="none" stroke="#1a9494" stroke-width="9.0" stroke-linejoin="round" stroke-linecap="round"/>
<path d="M657.0 718.4l1,2.4 1,1.9 1,1.9" fill="none" stroke="#1a9494" stroke-width="9.5" stroke-linejoin="round" stroke-linecap="round"/>
<path d="M660.0 724.6l1,3.2 1,4.8" fill="none" stroke="#1a9494" stroke-width="10.0" stroke-linejoin="round" stroke-linecap="round"/>
<path d="M662.0 732.6l1,4.9 1,4" fill="none" stroke="#1a9494" stroke-width="10.5" stroke-linejoin="round" stroke-linecap="round"/>
<path d="M664.0 741.5l1,3.7 1,4.1 1,3.8 1,3.3 1,3.8 1,4.4 1,4.1 1,4.1 1,4.8 1,5.1 1,4.7 1,4.8 1,4.8 1,5.2 1,6.3" fill="none" stroke="#1a9494" stroke-width="11.0" stroke-linejoin="round" stroke-linecap="round"/>
<path d="M679.0 808.5l1,6.3 1,5 1,3.9 1,4.7 1,5.6 1,5.6 1,5.6 1,6.3 1,6.7 1,6.3 1,5.9 1,5.7 1,5.5 1,5.1 1,5 1,4.9 1,5.2 1,5.6 1,5.7 1,5.9 1,6 1,5.6 1,5.2 1,4.9 1,5.1 1,5 1,4.3 1,3.8" fill="none" stroke="#1a9494" stroke-width="11.5" stroke-linejoin="round" stroke-linecap="round"/>
<path d="M707.0 958.9l1,4.1 1,5.1 1,5.3 1,4.4 1,4.1 1,4.1 1,4 1,3.8 1,3.4 1,2.8 1,3 1,2.8 1,2.3 1,2.2 1,2.6 1,2.3" fill="none" stroke="#1a9494" stroke-width="12.0" stroke-linejoin="round" stroke-linecap="round"/>
<path d="M723.0 1015.2l1,2.2 1,1.6 1,1.2 1,1.2 1,1.6" fill="none" stroke="#1a9494" stroke-width="12.5" stroke-linejoin="round" stroke-linecap="round"/>
<path d="M728.0 1023.0l1,1.7 1,1.8 1,2 1,1.9 1,1.6" fill="none" stroke="#1a9494" stroke-width="13.0" stroke-linejoin="round" stroke-linecap="round"/>
<path d="M733.0 1032.0l1,1.6 1,1.6 1,1.6 1,1.5 1,1.1" fill="none" stroke="#1a9494" stroke-width="13.5" stroke-linejoin="round" stroke-linecap="round"/>
<path d="M738.0 1039.4l1,0.6 1,0.4 1,1.2 1,2.3 1,1.8" fill="none" stroke="#1a9494" stroke-width="14.0" stroke-linejoin="round" stroke-linecap="round"/>
<path d="M743.0 1045.7l1,0.7 1,0.9 1,2.1 1,2.6 1,1.9" fill="none" stroke="#1a9494" stroke-width="14.5" stroke-linejoin="round" stroke-linecap="round"/>
<path d="M748.0 1053.9l1,0.9 1,1.3 1,2.4 1,2.6 1,2.3" fill="none" stroke="#1a9494" stroke-width="15.0" stroke-linejoin="round" stroke-linecap="round"/>
<path d="M753.0 1063.4l1,2 1,2.1 1,2.2 1,1.7 1,0.8" fill="none" stroke="#1a9494" stroke-width="15.5" stroke-linejoin="round" stroke-linecap="round"/>
<path d="M758.0 1072.2l1,2 1,3.8 1,3.3 1,1.4 1,0.9" fill="none" stroke="#1a9494" stroke-width="16.0" stroke-linejoin="round" stroke-linecap="round"/>
<path d="M763.0 1083.6l1,1 1,0.6 1,0.7 1,2 1,2.3" fill="none" stroke="#1a9494" stroke-width="16.5" stroke-linejoin="round" stroke-linecap="round"/>
<path d="M768.0 1090.2l1,1.3 1,2.1 1,3.3 1,2.7 1,1.2" fill="none" stroke="#1a9494" stroke-width="17.0" stroke-linejoin="round" stroke-linecap="round"/>
<path d="M773.0 1100.8l1,-0.1 1,0 1,0.6 1,0.9 1,1.6" fill="none" stroke="#1a9494" stroke-width="17.5" stroke-linejoin="round" stroke-linecap="round"/>
<path d="M778.0 1103.8l1,1.8 1,1.5 1,0.6 1,0.9 1,1.7 1,1.8 1,0.6 1,-0.4 1,-0.8 1,-0.3 1,0.7 1,2 1,2.5 1,2 1,1 1,0.4 1,-0.7 1,-1.3 1,0.2 1,1.5 1,1.3 1,1.6 1,2.3 1,2 1,0.7 1,0 1,0.1 1,0.3 1,-0.3 1,0.2 1,1.8 1,1.3 1,-0.3 1,-0.4 1,0.7 1,1.2 1,2 1,3.2 1,2.6 1,1.1 1,0.3 1,-0.1 1,0.4 1,1.4 1,0.7 1,-0.5 1,0.2 1,2.3 1,3.4 1,2.9 1,1.7 1,0.2 1,0.1 1,0.7 1,0.8 1,0.6 1,0.1 1,-0.3 1,-0.3 1,0.6 1,1.7 1,1.5 1,1.9 1,2.6 1,2.5 1,2.4 1,1.7 1,0.2 1,-0.4 1,0.3 1,1.2 1,0.8 1,0.2 1,0.8 1,0.8 1,0.9 1,1.7 1,1 1,-0.7 1,-0.7 1,0 1,0 1,0.7 1,2.6 1,2.5 1,0.4 1,-1.3 1,-0.8 1,0.6 1,0.6 1,0.8 1,1 1,1 1,1 1,1.2 1,1.8 1,1.8 1,-0.1 1,-1.6 1,-0.7 1,0.6 1,1.2 1,1.9 1,2.1 1,0.7 1,-0.3 1,0.6 1,1.1" fill="none" stroke="#1a9494" stroke-width="18.0" stroke-linejoin="round" stroke-linecap="round"/>
<path d="M886.0 1195.9l1,1.1 1,1.4 1,1.7 1,1.2 1,0.4 1,0 1,0.5 1,0.7 1,0.1 1,-1.2 1,-1.4 1,0 1,1.7 1,2.1 1,1.5 1,1.2 1,1.3 1,0.3 1,0 1,1.2 1,0.6 1,-1.2 1,-0.7 1,0.5 1,0.6 1,0.6 1,1.5 1,1.6 1,-0.5 1,-2.2 1,-1.4 1,0.7 1,1.4 1,0.9 1,0.9 1,1.1 1,0.5 1,0.6 1,1.5 1,1.3 1,0.4 1,0 1,0 1,-0.7 1,-1.6 1,-0.3 1,2.3 1,2.6 1,0 1,-1.7 1,-0.4 1,1 1,0.8 1,-0.2 1,-1.1 1,-0.1 1,1.4 1,0 1,-2.1 1,-1.6 1,-0.1 1,0.8 1,1.1 1,0.9 1,0.7 1,0.5 1,0.2 1,-0.2 1,-0.8 1,-0.6 1,0.1 1,0.3 1,0.2 1,-0.3 1,-0.2 1,0.6 1,0.2 1,-1.1 1,-1.5 1,0 1,1.3 1,1.2 1,1 1,0.9 1,1 1,1.3 1,0.9 1,0.2 1,0.4 1,1.1 1,0.9 1,0.2 1,0.3 1,1.1 1,0.3 1,-1.3 1,-1.7 1,-1.2 1,-1.3 1,-0.9 1,0.2 1,-0.3 1,-1.2 1,-0.5 1,-0.3 1,-0.6 1,-0.7 1,-0.9 1,-1 1,-0.6 1,-0.9 1,-1.8 1,-1.4 1,-0.1 1,-0.3 1,-1.4 1,-0.9 1,0.2 1,0.2 1,0.3 1,1.5 1,1.6 1,0.2 1,-0.3 1,0.7 1,1 1,0.1 1,-0.4 1,0.6 1,0.7 1,-0.2 1,0.7 1,1.6 1,1 1,0.4 1,-0.1 1,0.2 1,1.6 1,2.1 1,0.9 1,0.5 1,0.9 1,0.9 1,0.7 1,0.6 1,-0.1 1,-1.3 1,-1 1,1.3 1,2.4 1,0.4 1,-1.5 1,-0.8 1,2 1,3.1 1,1.1 1,-1.8 1,-2.7 1,-1.3 1,0.4 1,1 1,1.2 1,1.1 1,1 1,0.7 1,0.8 1,1.1 1,0.6 1,-0.2 1,-0.8 1,-1.3 1,-1.4 1,0.3 1,2.5 1,3.3 1,2 1,-0.6 1,-1.6 1,-0.8 1,0.5 1,1.3 1,1.4 1,1.2 1,1.4 1,0.9 1,-0.3 1,-0.6 1,0 1,0.5 1,1.2 1,1.6 1,0.9 1,-0.3 1,-0.5 1,0.6 1,1 1,0.6 1,0.9 1,2.1 1,2.1 1,0.6 1,-1.3 1,-1.9 1,-1.2 1,-0.5 1,0.1 1,0.5 1,-0.3 1,-0.5" fill="none" stroke="#1a9494" stroke-width="18.5" stroke-linejoin="round" stroke-linecap="round"/>
<path d="M1095.0 1249.8l1,0.2 1,1 1,1 1,-0.5 1,-1 1,0 1,0.9 1,0.4 1,-0.3 1,-1.2 1,-0.7 1,1.6 1,2.6 1,0.9 1,-1.1 1,-0.9 1,0.6 1,-0.1 1,-1.7 1,-1.6 1,-0.8 1,-1.4 1,-1.9 1,-0.7 1,1.4 1,2.3 1,1.9 1,1.3 1,2.1 1,2.8 1,1.3 1,-1.5 1,-1.7 1,-0.1 1,0.6 1,0.8 1,0.4 1,-0.9 1,-1.6 1,0.2 1,2.3 1,2.7 1,1.3 1,-1 1,-1.8 1,-1.4 1,-0.8 1,-0.4 1,0.5 1,1.4 1,1.3 1,0.6 1,0.6 1,0.4 1,0.4 1,0.4 1,0.1 1,-1.1 1,-0.7 1,0.9 1,1 1,0.2 1,-0.1 1,-0.1 1,0 1,0.4 1,0.5 1,-0.6 1,-1 1,0.4 1,1.4 1,0.4 1,-1 1,-1.1 1,0.1 1,0.9 1,0.5 1,-0.5 1,-0.8 1,-0.4 1,-0.7 1,-0.7 1,-0.4 1,0.2 1,1.1 1,2.1 1,1.5 1,-0.3 1,-1.3 1,-0.5 1,0.5 1,0.2 1,-0.1 1,-0.2 1,0.3 1,0.4 1,-0.4 1,0.1 1,1.3 1,1.5 1,1.3 1,0.5 1,-0.8 1,-1.4 1,-1.1 1,0.4 1,1.1 1,0.2 1,-0.6 1,-0.1 1,1.1 1,1.9 1,1.7 1,0.9 1,0.7 1,1 1,0.6 1,-0.5 1,-0.8 1,-0.1 1,-0.2 1,-0.3 1,1 1,1.3 1,0.7 1,0.1 1,-0.4 1,-0.7 1,0.1 1,0.7 1,0.2 1,0.3 1,1.5 1,1.2 1,-0.2 1,-0.4 1,0.6 1,0.5 1,-0.3 1,-1.1 1,-1.1 1,-0.2 1,0.8 1,0.7 1,-0.1 1,0.1 1,0.1 1,-0.8 1,-0.7 1,1.1 1,2.4 1,1.9 1,-0.5 1,-1.9 1,-0.8 1,0.6 1,0.8 1,0.3 1,0.1 1,0.2 1,0.7 1,-0.3 1,-0.9 1,0.7 1,1.6 1,0.9 1,0.1 1,0 1,0.3 1,0.6 1,1.2 1,1.3 1,0.2 1,-1.2 1,-1.4 1,-0.2 1,0.4 1,0.1 1,0.3 1,1.2 1,1.5 1,-0.1 1,-2.1 1,-2 1,-0.2 1,2 1,2.2 1,0.9 1,0.6 1,0.8 1,-0.3 1,-0.8 1,0.1 1,1.5 1,0.7 1,-1.6 1,-1.5 1,1.2 1,1.9 1,-0.2 1,-1.7 1,-1.4 1,-0.6 1,0 1,-0.1 1,-0.3 1,0.6 1,1.7 1,2.1 1,0.5 1,-0.8 1,-0.1 1,0 1,-1.1 1,-1 1,0.6 1,1.2 1,0 1,-1 1,-0.8 1,0 1,0.3 1,-0.7 1,-1.3 1,-0.9 1,0.2 1,0.7 1,0.1 1,-0.1 1,0.1 1,-0.1 1,0.1 1,1 1,0.5 1,-0.1 1,0.9 1,1 1,0.5 1,0.1 1,-0.1 1,-0.6 1,-0.9 1,0.1 1,0.8 1,-0.2 1,-0.6 1,-0.2 1,0 1,-0.7 1,-1.2 1,-0.5 1,1.7 1,3.4 1,3.1 1,0.8 1,-0.7 1,-0.5 1,-0.2 1,-0.5 1,-0.8 1,-1.4 1,-2.4 1,-1.1 1,1.8 1,2.9 1,1.2 1,-0.7 1,-0.9 1,-0.3 1,-0.1 1,0.1 1,0.2 1,0.5 1,0.2 1,-0.8 1,-1.1 1,-0.4 1,-0.2 1,-0.3 1,-0.2 1,1 1,1.5 1,0.8 1,0.2 1,-0.5 1,-1.1 1,-0.3 1,0.6 1,0.9 1,1.1 1,0.7 1,-0.2 1,0.4 1,1 1,-0.3 1,-0.8 1,-0.4 1,-0.4 1,-0.1 1,0 1,-0.3 1,0.9 1,2 1,1 1,-0.8 1,-0.8 1,-1 1,-1.4 1,-1.3 1,-1.2 1,-1.2 1,0.5 1,3.1 1,3.2 1,1.1 1,-1.3 1,-1.6 1,0.5 1,1.1 1,-0.6 1,-0.4 1,1.1 1,1.2 1,0.9 1,0.8 1,0.6 1,-0.1 1,-0.8 1,-0.5 1,0 1,0.6 1,1.2 1,0.7 1,-0.9 1,-1.1 1,0.2 1,0.6 1,-0.7 1,-1.2 1,0.1 1,1.6 1,1.2 1,0.3 1,0.6 1,0.9 1,0.1 1,-1.7 1,-1.7 1,0.5 1,1.8 1,1.3 1,-0.6 1,-1.6 1,-0.8 1,0.8 1,1.7 1,1 1,-1.3 1,-2.7 1,-1.3 1,1.2 1,1.3 1,0.7 1,1.1 1,1.2 1,-0.4 1,-1 1,0.3 1,0.8 1,0.8 1,1.3 1,1.6 1,0.4 1,-1.6 1,-1.7 1,0.3 1,2 1,1.5 1,-0.2 1,-1.1 1,-1.1 1,-0.9 1,-0.4 1,0.4 1,1.1 1,0.6 1,-0.7 1,-0.9 1,-0.1 1,0.5 1,0.8 1,0.8 1,1.1 1,0.9 1,-0.6 1,-1.6 1,-0.9 1,0.6 1,1.1 1,0.9 1,0.4 1,0.1 1,-0.3 1,-0.5 1,-0.3 1,0.4 1,0.4 1,0.7 1,1.2 1,0.6 1,-1.1 1,-2.3 1,-1.8 1,-0.6 1,0.6 1,1.8 1,1.2 1,0 1,0.3 1,0.6 1,0 1,-0.9 1,-0.9 1,0.3 1,1 1,1.5 1,1.5 1,0.6 1,-0.4 1,-1.3 1,-1.5 1,-0.5 1,0.8 1,1.6 1,0.8 1,-0.8 1,-1.2 1,-1 1,-1.3 1,-0.9 1,0.4 1,0.7 1,1.1 1,1.2 1,1 1,1.5 1,1.9 1,1 1,-0.2 1,-0.7 1,-0.3 1,-0.1 1,-0.8 1,-0.4 1,0.2 1,0.5 1,0.3 1,-0.1 1,-0.4 1,-0.7 1,-0.2 1,0.7 1,1.2 1,0.3 1,-1 1,-0.7 1,0 1,-0.5 1,-0.8 1,0.4 1,0.9 1,-0.7 1,-1.9 1,-0.9 1,0.5 1,1.3 1,1.9 1,2 1,0.5 1,-0.9 1,-1.1 1,-1 1,-0.2 1,0.9 1,1.6 1,1.4 1,0.1 1,0.1 1,0.3 1,-1 1,-1.1 1,-0.1 1,0.7 1,1.1 1,0 1,-1.4 1,-1 1,-0.6 1,-0.6 1,0.1 1,1 1,1.3 1,1.7 1,1 1,-0.2 1,-0.9 1,-0.9 1,0.3 1,1.2 1,0.8 1,0 1,-0.4 1,-0.9 1,-0.6 1,0.1 1,-0.2 1,0.4 1,1.5 1,1.3 1,0.4 1,0.3 1,0.7 1,0.2 1,-0.8 1,-0.9 1,0.1 1,0.9 1,0.3 1,0.7 1,1.1 1,0.4 1,-0.4 1,-1.1 1,-1.7 1,-0.4 1,1.5 1,1.8 1,0.4 1,-1 1,-0.2 1,0.6 1,0.4 1,0.5 1,0.9 1,-0.1 1,-1.8 1,-1.7 1,-0.2 1,0.6 1,0.9 1,1.2 1,1 1,0.1 1,-0.7 1,-1.3 1,-1.3 1,-0.3 1,0.5 1,0.9 1,0.6 1,0.5 1,0.5 1,0.6 1,0.7 1,-0.1 1,-0.5 1,-0.3 1,-0.8 1,-1 1,-0.4 1,0.6 1,1.3 1,0.5 1,-0.3 1,0.6 1,1.2 1,0.7 1,-0.1 1,-0.5 1,-0.1 1,0.5 1,0.5 1,0 1,-0.6 1,-0.4 1,0.2 1,0.4 1,-1.1 1,-2.3 1,-1.4 1,0.3 1,1.2 1,1.5 1,1.2 1,1.1 1,0.2 1,-1 1,-1.1 1,-0.1 1,0.7 1,0.3 1,-0.5 1,-0.7 1,0.1 1,0.7 1,0.2 1,0.3 1,1.4 1,2.4 1,1.7 1,-0.8 1,-2.7 1,-2.7 1,-1.9 1,-0.4 1,1.7 1,2.1 1,0.3 1,-0.9 1,0 1,0.8 1,1 1,0.2 1,-0.8 1,0.1 1,0.8 1,-0.4 1,-1 1,-0.3 1,-0.1 1,0.2 1,1.7 1,3.4 1,2.3 1,-1.2 1,-2.9 1,-1 1,1.1 1,0.7 1,-0.7 1,-1.3 1,-1.3 1,-0.3 1,0.9 1,1.3 1,2 1,1.3 1,0.2 1,0.4 1,0.7 1,0.3 1,0 1,-0.5 1,-0.3 1,0.8 1,0.2 1,-0.7 1,-0.7 1,-0.7 1,-1.1 1,-1 1,0.2 1,1.2 1,1.4 1,0.4 1,-0.3 1,-0.6 1,-1.3 1,-1.5 1,0.3 1,1.8 1,1.3 1,1.3 1,0.5 1,-1.4 1,-2.1 1,-0.8 1,0.8 1,1.5 1,1 1,0 1,0.1 1,0.7 1,0.7 1,-0.2 1,-0.3 1,0.4 1,0.3 1,-0.4 1,-0.7 1,-0.1 1,0.2 1,-0.3 1,-0.9 1,-0.5 1,0.3 1,0.2 1,-0.7 1,-0.6 1,0.4 1,0.8 1,0.6 1,0.4 1,0.9 1,1.1 1,-0.3 1,-0.8 1,-0.2 1,-0.5 1,-0.6 1,-0.2 1,0 1,0.8 1,1.2 1,0.1 1,-0.8 1,-0.3 1,0.5 1,0.1 1,-0.1 1,0.8 1,1.1 1,0 1,-0.6 1,-0.4 1,-0.4 1,-0.8 1,-1.2 1,-0.5 1,1.5 1,1.8 1,0.3 1,-0.9 1,-0.3 1,0.9 1,1.4 1,1.2 1,0.1 1,-1.4 1,-1.7 1,-1.5 1,0 1,1.8 1,2.3 1,1.1 1,0.3 1,-0.3 1,-1.2 1,-1.2 1,-0.6 1,-0.2 1,0.1 1,0.1 1,0.6 1,0.6 1,0 1,-0.3 1,0.2 1,0.3 1,0 1,-0.9 1,-1 1,0.6 1,1.2 1,0.1 1,-0.2 1,0.5 1,1 1,0.9 1,0.6 1,0.1 1,-1 1,-0.7 1,0.6 1,1.9 1,1.9 1,0.2 1,-1.6 1,-1.1 1,-0.1 1,0.2" fill="none" stroke="#1a9494" stroke-width="19.0" stroke-linejoin="round" stroke-linecap="round"/>
<path d="M303.0 783.9l0.7,5.3 0.7,6.6 0.7,10.2 0.7,6.9 0.7,5.9 0.7,10.5 0.7,2 0.7,8.4 0.7,2.8 0.7,1.2 0.7,1.6 0.7,4.1 0.7,2 0.7,4.7 0.7,2.8 0.7,8.4 0.7,-6.1 0.7,5.8 0.7,5 0.7,3.6 0.7,3.2 0.7,-2.5 0.7,6.2 0.7,-5.7 0.7,8 0.7,8.3 0.7,-1.7 0.7,-2.5 0.7,3.6 0.7,-0.9 0.7,5.5 0.7,0.8 0.7,6.2 0.7,-0.3 0.7,5.6 0.7,0.5 0.7,1.7 0.7,7.6 0.7,0.9 0.7,-4.1 0.7,9.4 0.7,0.8 0.7,3.9 0.7,0.1 0.7,-3.7 0.7,6.2 0.7,-3.3 0.7,5.2 0.7,4.4 0.7,7.9 0.7,-1.1 0.7,2.9 0.7,3.9 0.7,-2.7 0.7,8.4 0.7,-0.8 0.7,-1.9 0.7,2.9 0.7,2.7 0.7,4.6 0.7,4.6 0.7,-4.7 0.7,1.8 0.7,9.4 0.7,7.3 0.7,-3.8 0.7,-5 0.7,-0.7 0.7,6 0.7,0 0.7,-3.4 0.7,11.4 0.7,7.1 0.7,-14.2 0.7,1.7 0.7,2.9 0.7,-2.2 0.7,12 0.7,-10 0.7,12.5 0.7,0.1 0.7,3.5 0.7,-10.7 0.7,10.6 0.7,2.3 0.7,5.1 0.7,-1.4 0.7,-4.1 0.7,11.9 0.7,3.1 0.7,1.5 0.7,-11.5 0.7,9.6 0.7,-7.7 0.7,6.3 0.7,15.6 0.7,-21.1 0.7,30.1 0.7,-9.1 0.7,-12.5 0.7,2.6 0.7,4.6 0.7,0.5 0.7,-6.9 0.7,8.9 0.7,-9.7 0.7,7.9 0.7,19.5 0.7,-13.3 0.7,-1.6 0.7,16.5 0.7,-9 0.7,3.5 0.7,-8.8 0.7,14.8 0.7,-10.9 0.7,11.1 0.7,-0.9 0.7,10.4 0.7,-5.3 0.7,-7.9 0.7,-8.3 0.7,7.7 0.7,-2.6 0.7,21.3 0.7,-17.2 0.7,-16.4 0.7,26 0.7,5 0.7,-15.7 0.7,27.3 0.7,-29.9 0.7,32.6 0.7,-19.8 0.7,5.5 0.7,1.8 0.7,-10.4 0.7,15.9 0.7,-12.9 0.7,7.2 0.7,14.2 0.7,-23.6 0.7,11 0.7,16.6 0.7,-2.9 0.7,-19.4 0.7,1.3 0.7,12.9 0.7,-11.9 0.7,8.3 0.7,-14.3 0.7,21.6 0.7,-22.7 0.7,18.8 0.7,6.6 0.7,-13.5 0.7,-8.8 0.7,3.8 0.7,-6.2 0.7,39.2 0.7,-38.4 0.7,7 0.7,17.1 0.7,-2.7 0.7,10.4 0.7,3.2 0.7,-8.9 0.7,-5.2 0.7,-5 0.7,4.1 0.7,12 0.7,8.1 0.7,-11.1 0.7,-23.9 0.7,9.7 0.7,1 0.7,1.7 0.7,-5.2 0.7,18.4 0.7,4.1 0.7,8.2 0.7,-24.4 0.7,4.6 0.7,2.3 0.7,-0.9 0.7,-8.5 0.7,17.3 0.7,-29.4 0.7,16.3 0.7,-14.7 0.7,26.7 0.7,-21 0.7,2.7 0.7,12.1 0.7,-10.6 0.7,13.8 0.7,-6.5 0.7,24.8 0.7,-33.2 0.7,4.4 0.7,14.7 0.7,-4.5 0.7,3.5 0.7,-7.6 0.7,28.5 0.7,-21.6 0.7,10.2 0.7,-28.1 0.7,16.9 0.7,-5 0.7,6.6 0.7,-14.1 0.7,18.4 0.7,-22.5 0.7,23.3 0.7,-3.6 0.7,-12.3 0.7,10.8 0.7,-24.6 0.7,26.3 0.7,-22.8 0.7,16.1 0.7,-2.1 0.7,-14.2 0.7,-2.4 0.7,24.7 0.7,-10.3 0.7,16.5 0.7,-11.9 0.7,29.5 0.7,-27.2 0.7,16.8 0.7,-14.9 0.7,-16.6 0.7,18.6 0.7,-13.6 0.7,1.2 0.7,24.2 0.7,-19.4 0.7,-10.1 0.7,3.6 0.7,-0.3 0.7,9.6 0.7,11.2 0.7,1.7 0.7,5.5 0.7,-6.8 0.7,-5.4 0.7,-1.2 0.7,-2.7 0.7,-22.3 0.7,43.1 0.7,-24.8 0.7,18.4 0.7,-19 0.7,14 0.7,-42.8 0.7,14.9 0.7,8.4 0.7,23.1 0.7,-0.8 0.7,-22.5 0.7,5.8 0.7,10.5 0.7,-6.6 0.7,-2.2 0.7,9.2 0.7,-24.1 0.7,30.7 0.7,-12.2 0.7,-35.2 0.7,20.7 0.7,8.7 0.7,43 0.7,-42.3 0.7,-15.8 0.7,15.3 0.7,4.5 0.7,9.5 0.7,-3 0.7,-15.4 0.7,2.6 0.7,11.5 0.7,-6.2 0.7,5.2 0.7,-14.4 0.7,21.3 0.7,-33 0.7,0.2 0.7,19.4 0.7,-8.8 0.7,21.3 0.7,-18.3 0.7,-2.4 0.7,-9.8 0.7,14 0.7,10.3 0.7,-23 0.7,28.5 0.7,-3.8 0.7,-25.7 0.7,3.1 0.7,-6.4 0.7,9.9 0.7,-10.5 0.7,5.5 0.7,-14.3 0.7,17.4 0.7,-9.8 0.7,1 0.7,-12 0.7,20.5 0.7,18.9 0.7,-24.5 0.7,1.5 0.7,-11.1 0.7,6.4 0.7,-4.8 0.7,-8.1 0.7,6.3 0.7,3.3 0.7,7.9 0.7,-7.5 0.7,5.8 0.7,9.9 0.7,-4.6 0.7,-14.8 0.7,-14.9 0.7,15.9 0.7,2.1 0.7,8.9 0.7,-9.7 0.7,27.1 0.7,-33.4 0.7,9.6 0.7,-17.3 0.7,-1.7 0.7,6.5 0.7,4.2 0.7,4 0.7,-40.9 0.7,42.7 0.7,2.4 0.7,-2.8 0.7,-6.5 0.7,-11 0.7,5.4 0.7,5.8 0.7,-23.4 0.7,14.6 0.7,-3 0.7,2.3 0.7,7.1 0.7,-24.6 0.7,-3.9 0.7,7.3 0.7,-6.6 0.7,16.4 0.7,-28.1 0.7,1.9 0.7,27.9 0.7,-12.5 0.7,-17.9 0.7,19.9 0.7,-28.6 0.7,23.4 0.7,-17.3 0.7,2 0.7,16.9 0.7,-16.7 0.7,-6.3 0.7,5.3 0.7,11.1 0.7,-23.8 0.7,-0.3 0.7,5.7 0.7,-12.6 0.7,2.4 0.7,-0.8 0.7,7 0.7,-9.9 0.7,5.1 0.7,2.9 0.7,1.1 0.7,-24.2 0.7,9.4 0.7,-9.1 0.7,10.2 0.7,-4.4 0.7,-3.4 0.7,-5.1 0.7,-4.4 0.7,-6.2 0.7,14.7 0.7,-15.2 0.7,5.9 0.7,0 0.7,1 0.7,4.7 0.7,-14.1 0.7,3.1 0.7,-15.6 0.7,5.5 0.7,-3.8 0.7,-1.5 0.7,8.6 0.7,-8.2 0.7,-2.2 0.7,8.7 0.7,-14.3 0.7,-1.9 0.7,-4.5 0.7,-1.3 0.7,-1.3 0.7,-0.6 0.7,-11.8 0.7,9.4 0.7,-2.6 0.7,0.6 0.7,-10.9 0.7,-1.1 0.7,7.7 0.7,-11.1 0.7,4.5 0.7,-9.1 0.7,-5.5 0.7,-3.9 0.7,2.3 0.7,-1.7 0.7,-6.8 0.7,12.5 0.7,-10.4 0.7,-7.7 0.7,11 0.7,-6.3 0.7,-11.5 0.7,-4 0.7,2.1 0.7,2.5 0.7,-8 0.7,5.1 0.7,-11.4 0.7,4.1 0.7,1.4 0.7,-8.8 0.7,-1.9 0.7,10.3 0.7,-23.3 0.7,11.8 0.7,-20.3 0.7,6 0.7,-0.7 0.7,-6.3 0.7,2 0.7,-16.4 0.7,5.9 0.7,3 0.7,-8 0.7,-18.3 0.7,13.7 0.7,-2.5 0.7,-9.1 0.7,9.9 0.7,-12.7 0.7,-5.4 0.7,3.5 0.7,-6.8 0.7,-0.3 0.7,-0.5 0.7,-6.4 0.7,2.4 0.7,1.5 0.7,-4.6 0.7,-15.1 0.7,2.4 0.7,-2.2 0.7,-3.2 0.7,-15.9 0.7,2.2 0.7,4.1 0.7,-2 0.7,-6 0.7,-2.4 0.7,2.5 0.7,-11.1 0.7,-4.9 0.7,9.2 0.7,-7.1 0.7,-6.6 0.7,-5.4 0.7,9.6 0.7,-12.3 0.7,-5.2 0.7,8.5 0.7,-16.3 0.7,5.1 0.7,2.9 0.7,-5.2 0.7,-1 0.7,5.4 0.7,-7.6 0.7,6.1 0.7,5.8 0.7,-8.2 0.7,13.8 0.7,-7 0.7,2 0.7,-0.4 0.7,7.2 0.7,-3.2 0.7,6 0.7,7.7 0.7,2.7 0.7,-11.3 0.7,17.1 0.7,-6.5 0.7,6.7 0.7,1.8 0.7,3.6 0.7,-1.6 0.7,8.9 0.7,5.1 0.7,-13.1 0.7,21.8 0.7,-0.2 0.7,4.5 0.7,-0.4 0.7,2.9 0.7,4.4 0.7,-7.4 0.7,13.2 0.7,0.3 0.7,3 0.7,-6.3 0.7,11.3 0.7,9.1 0.7,5.5 0.7,2.3 0.7,2.1 0.7,-6.2 0.7,15.9 0.7,-0.9 0.7,5.7 0.7,11 0.7,-10 0.7,7.8 0.7,12.4 0.7,-10.7 0.7,7.6 0.7,14.8 0.7,1.5 0.7,1 0.7,11 0.7,-6.8 0.7,17.9 0.7,-5.3 0.7,1.5 0.7,12 0.7,7 0.7,-3.4 0.7,2.4 0.7,-9.7 0.7,8.1 0.7,13.4 0.7,8.3 0.7,-4.4 0.7,7.8 0.7,-3.9 0.7,3.9 0.7,10.3 0.7,7 0.7,3.6 0.7,5.5 0.7,-5.8 0.7,11.2 0.7,2.7 0.7,-4.9 0.7,6.6 0.7,4.7 0.7,3.3 0.7,7.3 0.7,1.1 0.7,-0.9 0.7,-5.7 0.7,16.9 0.7,3.6 0.7,0.4 0.7,1.9 0.7,3 0.7,5.9 0.7,-5.2 0.7,4.3 0.7,-2 0.7,5.4 0.7,-1 0.7,1.7 0.7,-3.7 0.7,10 0.7,6.5 0.7,-17 0.7,21 0.7,-4.8 0.7,-1.8 0.7,5.8 0.7,-1.6 0.7,1.8 0.7,8.4 0.7,-5.1 0.7,2 0.7,-2.1 0.7,1.5 0.7,2.8 0.7,-0.5 0.7,-2.3 0.7,10.9 0.7,-6 0.7,6.1 0.7,4 0.7,-0.4 0.7,-8.1 0.7,13.8 0.7,-18.4 0.7,19.2 0.7,-20.7 0.7,9.9 0.7,5.7 0.7,-2.6 0.7,-6.9 0.7,4.4 0.7,11.1 0.7,-10.4 0.7,23.3 0.7,-4.5 0.7,2.3 0.7,-5.4 0.7,-10.8 0.7,9.1 0.7,20.3 0.7,-8.1 0.7,-2.1 0.7,-0.5 0.7,6 0.7,-17.4 0.7,18.7 0.7,-7.7 0.7,-9.8 0.7,23.2 0.7,-10.6 0.7,9.1 0.7,-6.4 0.7,3.6 0.7,14.6 0.7,-7.1 0.7,1.8 0.7,-11.9 0.7,18 0.7,-9.1 0.7,8.9 0.7,-8.9 0.7,10.9 0.7,2.7 0.7,-12.8 0.7,13.9 0.7,-7.2 0.7,24.6 0.7,-3.3 0.7,-10.6 0.7,22.9 0.7,-14.6 0.7,-7.7 0.7,10.3 0.7,-3.4 0.7,8.8 0.7,-16.9 0.7,22.9 0.7,-18 0.7,1.5 0.7,-2.1 0.7,3.8 0.7,17.6 0.7,-12.7 0.7,-9.2 0.7,7.7 0.7,3.7 0.7,6.2 0.7,-9.6 0.7,4.7 0.7,22.6 0.7,-24.1 0.7,2.5 0.7,-10.1 0.7,18.1 0.7,-11 0.7,19.6 0.7,-4.6 0.7,-2.8 0.7,-10.4 0.7,1.9 0.7,0.2 0.7,4.6 0.7,-3.2 0.7,-1.1 0.7,6.1 0.7,-0.5 0.7,-2.5 0.7,11.8 0.7,1.8 0.7,-13.5 0.7,24.5 0.7,-14.9 0.7,8.1 0.7,6.5 0.7,-28.7 0.7,17.7 0.7,4.3 0.7,3.2 0.7,-3 0.7,2.6 0.7,-21.7 0.7,5.5 0.7,14.3 0.7,-22.6 0.7,13.8 0.7,3.9 0.7,5.6 0.7,5.4 0.7,-5.3 0.7,-8.9 0.7,-0.5 0.7,12.9 0.7,2.2 0.7,-1.2 0.7,-1.5 0.7,16 0.7,-28.4 0.7,12.8 0.7,7.7 0.7,-16.2 0.7,14.5 0.7,3.1 0.7,15.3 0.7,-20.7 0.7,-0.9 0.7,-7.8 0.7,1.7 0.7,-3.9 0.7,-0.8 0.7,23 0.7,-5.6 0.7,3.6 0.7,-16.2 0.7,-3.1 0.7,3 0.7,31 0.7,-3.6 0.7,-21.3 0.7,13.6 0.7,1.4 0.7,-9.5 0.7,3.8 0.7,15 0.7,-1.4 0.7,2.4 0.7,-4.3 0.7,-1.1 0.7,4.2 0.7,-5.1 0.7,17.2 0.7,-12.3 0.7,3.6 0.7,-4.8 0.7,-4.5 0.7,6.3 0.7,-1.7 0.7,-3.5 0.7,15 0.7,11.2 0.7,-14.6 0.7,-3 0.7,-4.9 0.7,-6.3 0.7,19 0.7,0.1 0.7,-23.3 0.7,19.8 0.7,-7.9 0.7,20.7 0.7,-11.2 0.7,3.4 0.7,11.7 0.7,-18.5 0.7,7.8 0.7,-0.8 0.7,-4.5 0.7,3.2 0.7,11.4 0.7,-16.5 0.7,0.5 0.7,37.6 0.7,-21.8 0.7,-4.3 0.7,3.3 0.7,-6 0.7,-2.9 0.7,16.7 0.7,-10.4 0.7,-6.5 0.7,-9.6 0.7,13.2 0.7,4.4 0.7,-3.3 0.7,7.7 0.7,-2.9 0.7,6.4 0.7,-7 0.7,-2.1 0.7,7.1 0.7,3.2 0.7,-11.3 0.7,-3.2 0.7,19.9 0.7,-16 0.7,23.2 0.7,-21.7 0.7,6.6 0.7,10.8 0.7,3.1 0.7,-26 0.7,-0.8 0.7,-16.4 0.7,35.4 0.7,9 0.7,-11 0.7,-4.4 0.7,10.4 0.7,-15.2 0.7,14.6 0.7,6.6 0.7,-0.5 0.7,-4.2 0.7,-10.3 0.7,2.1 0.7,-4.7 0.7,25 0.7,-5 0.7,-11.1 0.7,0.3 0.7,3.1 0.7,-7.5 0.7,10.8 0.7,0.1 0.7,-0.2 0.7,-3 0.7,-22.3 0.7,20.8 0.7,-10.4 0.7,-2 0.7,35 0.7,-23.9 0.7,3 0.7,-0.6 0.7,-4.5 0.7,22.1 0.7,-30.2 0.7,20.9 0.7,-9.1 0.7,16.7 0.7,-3.4 0.7,-6.4 0.7,-13.6 0.7,20.5 0.7,2.1 0.7,-2.5 0.7,-8.1 0.7,19.7 0.7,-23.2 0.7,9.3 0.7,1.5 0.7,-5 0.7,-6.4 0.7,-4.4 0.7,5.9 0.7,-2.5 0.7,20.1 0.7,-10.5 0.7,-3 0.7,0.2 0.7,8.6 0.7,-6.5 0.7,-3.2 0.7,8.9 0.7,-1 0.7,-9 0.7,-1.3 0.7,21.2 0.7,-13.8 0.7,13.4 0.7,-5.2 0.7,-5.7 0.7,-1.3 0.7,16.7 0.7,-19.9 0.7,2.5 0.7,-3.7 0.7,6.1 0.7,-6.7 0.7,9.6 0.7,-12 0.7,15.9 0.7,-1.4 0.7,-0.9 0.7,-7 0.7,16.9 0.7,6.6 0.7,-18.9 0.7,-5.6 0.7,12.6 0.7,-7.6 0.7,-6.8 0.7,14.4 0.7,-17.9 0.7,18.4 0.7,-15.7 0.7,-1.9 0.7,7.6 0.7,16.3 0.7,-18.6 0.7,9.7 0.7,-12.5 0.7,13.8 0.7,-2.8 0.7,7.4 0.7,-8.7 0.7,-1.6 0.7,-16.7 0.7,19.3 0.7,4.2 0.7,-5.3 0.7,-0.3 0.7,3.4 0.7,2.6 0.7,-15.7 0.7,7.3 0.7,4.4 0.7,-1.7 0.7,-10.8 0.7,5.6 0.7,5.7 0.7,3.5 0.7,8.6 0.7,-11 0.7,-11.1 0.7,12.1 0.7,-4.5 0.7,-4.4 0.7,-6.1 0.7,-2.8 0.7,10.6 0.7,3.1 0.7,4.9 0.7,0.2 0.7,2.5 0.7,15.6 0.7,-17 0.7,13.3 0.7,-18.8 0.7,0.7 0.7,1.6 0.7,-11.5 0.7,30.1 0.7,-13 0.7,3.6 0.7,8.3 0.7,-12 0.7,9.8 0.7,-36.1 0.7,31.7 0.7,-9.3 0.7,-8.2 0.7,13.9 0.7,-10 0.7,-7.2 0.7,-11.7 0.7,32.5 0.7,-39.7 0.7,23.2 0.7,13 0.7,2.2 0.7,-23.3 0.7,2.6 0.7,-3.8 0.7,7.1 0.7,-3.6 0.7,-11.4 0.7,10.5 0.7,9.9 0.7,-22.2 0.7,0.8 0.7,30.5 0.7,-28.4 0.7,-17.1 0.7,16.1 0.7,15.9 0.7,-13.1 0.7,5.9 0.7,-19 0.7,15.6 0.7,6.4 0.7,0.6 0.7,13.2 0.7,-8.2 0.7,-29.9 0.7,11.8 0.7,22.9 0.7,-10 0.7,15.1 0.7,-5.9 0.7,-20.2 0.7,-4.4 0.7,27.6 0.7,-15.6 0.7,-11.7 0.7,13 0.7,19.3 0.7,-20.6 0.7,0.8 0.7,20.1 0.7,-18.5 0.7,-2.4 0.7,15.2 0.7,-4.6 0.7,24.9 0.7,-32.9 0.7,35.7 0.7,-31.4 0.7,6.5 0.7,5.5 0.7,7.5 0.7,-3.4 0.7,-9.1 0.7,0.2 0.7,14 0.7,3.5 0.7,-18.3 0.7,16.1 0.7,-5.6 0.7,-2.6 0.7,-11.9 0.7,-1.1 0.7,15.5 0.7,-28.6 0.7,20.8 0.7,8.5 0.7,-18.5 0.7,29.9 0.7,0.6 0.7,-24.2 0.7,8.8 0.7,0.1 0.7,-3.5 0.7,0.8 0.7,9 0.7,11 0.7,-14 0.7,0.5 0.7,0.5 0.7,-7.1 0.7,12.1 0.7,-9.8 0.7,-4.2 0.7,15 0.7,-22.3 0.7,12.5 0.7,1.3 0.7,2.6 0.7,-12.4 0.7,5.6 0.7,7.5 0.7,7 0.7,-6.1 0.7,-0.6 0.7,-5.3 0.7,8 0.7,-36 0.7,42.2 0.7,3.2 0.7,-8.5 0.7,-8.3 0.7,21 0.7,-17.7 0.7,18.4 0.7,-14.2 0.7,-4 0.7,5.2 0.7,-3.9 0.7,4.9 0.7,6.3 0.7,-6.5 0.7,-1.5 0.7,4.3 0.7,3.9 0.7,-3.1 0.7,5.1 0.7,0.7 0.7,-2.3 0.7,4.1 0.7,-6 0.7,10.4 0.7,-6.3 0.7,4.2 0.7,-8.9 0.7,-10.6 0.7,9 0.7,4.6 0.7,3.2 0.7,-3.2 0.7,13.7 0.7,-24.4 0.7,-3.9 0.7,14.5 0.7,-4.2 0.7,6.6 0.7,5.9 0.7,30.2 0.7,-47.4 0.7,2.2 0.7,9.1 0.7,-12.6 0.7,6.4 0.7,18.1 0.7,-11.9 0.7,0.3 0.7,10 0.7,-25 0.7,16.3 0.7,-1.5 0.7,2.8 0.7,-11.2 0.7,5 0.7,15.6 0.7,-5.3 0.7,-23.8 0.7,22.7 0.7,-24.2 0.7,22.6 0.7,3.1 0.7,-14.9 0.7,5.4 0.7,2.6 0.7,2.6 0.7,8 0.7,-8.9 0.7,-3.7 0.7,0.3 0.7,4.1 0.7,4.5 0.7,-15.3 0.7,3.6 0.7,1.8 0.7,-3.9 0.7,-0.7 0.7,3.3 0.7,-12.7 0.7,23.7 0.7,-17.1 0.7,11.1 0.7,-10.9 0.7,17.3 0.7,-4.2 0.7,8.6 0.7,-6.1 0.7,-13.5 0.7,9.5 0.7,-5.5 0.7,1.1 0.7,-4.1 0.7,6.5 0.7,3.8 0.7,1.3 0.7,20 0.7,-22.8 0.7,2.4 0.7,11.9 0.7,-14.4 0.7,15.6 0.7,-12.4 0.7,-1.9 0.7,8.3 0.7,-2.4 0.7,-11.1 0.7,7.9 0.7,2.9 0.7,-4.8 0.7,0.6 0.7,1.5 0.7,6.3 0.7,-3.5 0.7,-6 0.7,4.6 0.7,11.3 0.7,-18.7 0.7,14.2 0.7,-7.6 0.7,34.6 0.7,-26.5 0.7,-4.7 0.7,-1.2 0.7,-11.9 0.7,8.9 0.7,22.1 0.7,-14.1 0.7,-5.4 0.7,2.6 0.7,0.5 0.7,-8.5 0.7,9.1 0.7,3.5 0.7,-17.1 0.7,10.7 0.7,-21.5 0.7,9 0.7,21.7 0.7,3.4 0.7,5.5 0.7,-27.2 0.7,10.4 0.7,-2.1 0.7,12 0.7,-6.4 0.7,-15.9 0.7,18.3 0.7,-9.1 0.7,12.3 0.7,-11.3 0.7,12.4 0.7,-7.9 0.7,0.4 0.7,-11.7 0.7,-3.5 0.7,-0.2 0.7,17.7 0.7,-22.7 0.7,30.2 0.7,-14.5 0.7,-8.8 0.7,14.5 0.7,-13.6 0.7,11 0.7,-2.6 0.7,12.5 0.7,-2.5 0.7,0.3 0.7,-12 0.7,4.3 0.7,-0.9 0.7,1.6 0.7,2.9 0.7,-1.4 0.7,-13.6 0.7,17.1 0.7,-19 0.7,17.8 0.7,-4.4 0.7,1.4 0.7,-9.8 0.7,18 0.7,-9.6 0.7,8.7 0.7,-13.3 0.7,0.3 0.7,6.8 0.7,8.4 0.7,-19.9 0.7,6.5 0.7,0.9 0.7,2.1 0.7,-1.4 0.7,13.3 0.7,-3 0.7,-5.7 0.7,7.2 0.7,1.8 0.7,-29.7 0.7,15 0.7,12.3 0.7,12.5 0.7,-38.3 0.7,15.1 0.7,12.2 0.7,-13.4 0.7,14.5 0.7,-5.3 0.7,-12.5 0.7,6.9 0.7,7.4 0.7,-10.7 0.7,2.7 0.7,8 0.7,-5.1 0.7,6.1 0.7,-6.3 0.7,5.2 0.7,-10.3 0.7,20.9 0.7,-14.2 0.7,12.4 0.7,8.5 0.7,-4.6 0.7,-13.5 0.7,1.7 0.7,-1.6 0.7,3.3 0.7,1.4 0.7,-19.3 0.7,18.5 0.7,-2.2 0.7,13 0.7,2.5 0.7,-39.8 0.7,16.7 0.7,14.8 0.7,3.6 0.7,-8.8 0.7,-0.4 0.7,-16.2 0.7,35.7 0.7,-25.5 0.7,11 0.7,-1.7 0.7,-10.4 0.7,15.2 0.7,5.4 0.7,-12.8 0.7,1.8 0.7,4.6 0.7,3 0.7,-0.8 0.7,-14.9 0.7,-0.2 0.7,3.4 0.7,-18.2 0.7,12 0.7,9.8 0.7,-3.9 0.7,-1.3 0.7,15 0.7,-4.5 0.7,4.3 0.7,-8.4 0.7,-2 0.7,-3.7 0.7,9.6 0.7,-17.5 0.7,8.2 0.7,12.6 0.7,2.4 0.7,-7.7 0.7,-9.3 0.7,15 0.7,-11.2 0.7,5.4 0.7,-7.1 0.7,13.3 0.7,8.1 0.7,-20 0.7,-2.6 0.7,9.6 0.7,6 0.7,5.5 0.7,-11.1 0.7,-10.1 0.7,13.3 0.7,-0.1 0.7,-15.8 0.7,11.5 0.7,-0.2 0.7,-5.7 0.7,10.4 0.7,7.3 0.7,-0.3 0.7,-16.2 0.7,2.7 0.7,11.1 0.7,-8.6 0.7,-0.1 0.7,22.1 0.7,-40.9 0.7,16.6 0.7,-1.5 0.7,6.9 0.7,15.2 0.7,-31.4 0.7,14.5 0.7,4 0.7,-3.9 0.7,6 0.7,18.7 0.7,-27.6 0.7,4.2 0.7,1.3 0.7,-17.3 0.7,33.1 0.7,-15.4 0.7,-16.2 0.7,14.7 0.7,3.8 0.7,-8.9 0.7,17.1 0.7,-14.3 0.7,-7.6 0.7,19.8 0.7,-8 0.7,2.5 0.7,-14.9 0.7,2 0.7,3.3 0.7,7.4 0.7,0.2 0.7,13.1 0.7,1.4 0.7,-24.4 0.7,10.4 0.7,17.2 0.7,-15.8 0.7,8.2 0.7,-12.8 0.7,3.4 0.7,-1.5 0.7,-3.5 0.7,9.2 0.7,-10.3 0.7,6.2 0.7,4.5 0.7,14.7 0.7,-34.5 0.7,17.1 0.7,5 0.7,-8.6 0.7,10.5 0.7,-2.8 0.7,-0.4 0.7,-7.7 0.7,1.8 0.7,-0.1 0.7,6.7 0.7,-3.1 0.7,-10.6 0.7,1.1 0.7,-3.8 0.7,21.4 0.7,-14.3 0.7,-2.7 0.7,27 0.7,-22.9 0.7,6.5 0.7,-4.4 0.7,4.7 0.7,-1.4 0.7,-20.2 0.7,31.3 0.7,-4 0.7,-21.1 0.7,20.2 0.7,-9.5 0.7,3 0.7,10 0.7,-2.4 0.7,-0.1 0.7,8.9 0.7,-7.9 0.7,-14.4 0.7,-5.8 0.7,18.2 0.7,-21.8 0.7,11.7 0.7,0 0.7,-3 0.7,17.7 0.7,-8.8 0.7,-4.6 0.7,9.6 0.7,-11.1 0.7,13.8 0.7,7.3 0.7,-18.6 0.7,-0.2 0.7,11.3 0.7,-26.6 0.7,6 0.7,2 0.7,-5 0.7,13.9 0.7,2.6 0.7,-2.7 0.7,0 0.7,8.1 0.7,1.4 0.7,1.5 0.7,-11.8 0.7,1.4 0.7,12.5 0.7,-9 0.7,7.8 0.7,-15.3 0.7,3.7 0.7,-5.1 0.7,5.4 0.7,3.8 0.7,-7.4 0.7,20.7 0.7,-29.5 0.7,20.2 0.7,-26.9 0.7,22.1 0.7,-9.1 0.7,7.3 0.7,0 0.7,6.8 0.7,-17.8 0.7,4.4 0.7,6.3 0.7,6.8 0.7,-8.9 0.7,-12.7 0.7,18.7 0.7,-7.9 0.7,4.2 0.7,2.7 0.7,4.1 0.7,-3.3 0.7,-3.6 0.7,13.6 0.7,-11 0.7,-2.4 0.7,9.9 0.7,-19.5 0.7,1.8 0.7,20.5 0.7,-14.1 0.7,-13.5 0.7,22.1 0.7,3.5 0.7,-16.9 0.7,-4.5 0.7,10.8 0.7,3.5 0.7,-8.1 0.7,-2.7 0.7,12.4 0.7,0.1 0.7,-18.1 0.7,4.1 0.7,6.8 0.7,-2.6 0.7,7.3 0.7,2.6 0.7,11.6 0.7,-12.7 0.7,4.9 0.7,-21.1 0.7,7.5 0.7,15 0.7,-21.3 0.7,23.9 0.7,-6.7 0.7,7.9 0.7,-13.4 0.7,-8.8 0.7,0.8 0.7,4.8 0.7,0.9 0.7,14.3 0.7,-19.1 0.7,3.4 0.7,-9.4 0.7,16.3 0.7,-1.3 0.7,9.4 0.7,7.1 0.7,-11.6 0.7,-11.8 0.7,9.3 0.7,0.6 0.7,-2.8 0.7,-8.7 0.7,12.3 0.7,-13.2 0.7,9.7 0.7,-1.8 0.7,-19.3 0.7,43.2 0.7,-2.9 0.7,-21.1 0.7,-2.1 0.7,13.3 0.7,-19 0.7,21.1 0.7,-7.7 0.7,-6.7 0.7,4.2 0.7,-6.5 0.7,2.4 0.7,10.7 0.7,-13 0.7,2.6 0.7,-1 0.7,10.4 0.7,-7.4 0.7,-4 0.7,10.2 0.7,-19.9 0.7,1.1 0.7,18.7 0.7,13.5 0.7,-20 0.7,7.2 0.7,-14.6 0.7,12.9 0.7,0.8 0.7,3.3 0.7,-11.2 0.7,22.9 0.7,-24.5 0.7,21.2 0.7,-22 0.7,16 0.7,4.8 0.7,7.1 0.7,-19.4 0.7,-12.9 0.7,21.3 0.7,-13.1 0.7,-3 0.7,15 0.7,-13.4 0.7,14.3 0.7,-4.8 0.7,-8.3 0.7,14.2 0.7,-10.5 0.7,9.4 0.7,4.4 0.7,-6.7 0.7,-2 0.7,-3.6 0.7,-5.6 0.7,4.7 0.7,3.5 0.7,2.2 0.7,-13.5 0.7,8.1 0.7,1.8 0.7,-3.2 0.7,-0.1 0.7,8.3 0.7,-11.2 0.7,12.4 0.7,-13.1 0.7,11.1 0.7,-11.2 0.7,19.6 0.7,-3.6 0.7,5.2 0.7,-18.5 0.7,-4 0.7,0.1 0.7,9.4 0.7,11.1 0.7,-2.9 0.7,-0.2 0.7,-16.2 0.7,19.8 0.7,-2.9 0.7,-10.8 0.7,-17 0.7,15.1 0.7,-6.9 0.7,27.3 0.7,-11.5 0.7,-2.3 0.7,14.2 0.7,-0.2 0.7,-10 0.7,2.2 0.7,5.5 0.7,-16.8 0.7,9.8 0.7,-7 0.7,-4.6 0.7,12.6 0.7,5.3 0.7,6.7 0.7,-9.3 0.7,3.2 0.7,-11.2 0.7,2.8 0.7,-6.5 0.7,9 0.7,-8.4 0.7,21.6 0.7,-5.9 0.7,-12.1 0.7,16.7 0.7,-9.2 0.7,8.6 0.7,-15.5 0.7,8.3 0.7,-8.6 0.7,2.1 0.7,9.9 0.7,6.6 0.7,-15.3 0.7,1.6 0.7,-10.1 0.7,5.8 0.7,6.2 0.7,-15 0.7,7.1 0.7,-5.8 0.7,11.4 0.7,6 0.7,-4.7 0.7,-5.2 0.7,-6.2 0.7,-5.1 0.7,14.1 0.7,12.9 0.7,-15.3 0.7,1.8 0.7,-3.1 0.7,-5.8 0.7,18.9 0.7,-3 0.7,-18.7 0.7,2 0.7,22.3 0.7,-3.7 0.7,-8.1 0.7,-8.4 0.7,11.7 0.7,-9.4 0.7,1.6 0.7,-4.3 0.7,25.9 0.7,6.1 0.7,-20.3 0.7,3.9 0.7,-0.8 0.7,-4.8 0.7,-0.7 0.7,-2.3 0.7,9.9 0.7,-17.2 0.7,3.4 0.7,13.3 0.7,-18.1 0.7,26.1 0.7,-16.2 0.7,4 0.7,22 0.7,-23.8 0.7,1.6 0.7,-6.2 0.7,-5.3 0.7,16.5 0.7,-13.5 0.7,13.3 0.7,2.8 0.7,-4.2 0.7,-10.5 0.7,14.6 0.7,3.8 0.7,-15.9 0.7,-11.5 0.7,9.7 0.7,6.3 0.7,11.2 0.7,-0.9 0.7,-4.3 0.7,-11.4 0.7,12.2 0.7,-6.6 0.7,-8.7 0.7,-6.6 0.7,24.2 0.7,-9.5 0.7,11.8 0.7,8.8 0.7,-19.2 0.7,-7.5 0.7,1.9 0.7,-0.3 0.7,9.2 0.7,5.4 0.7,-15.1 0.7,3.7 0.7,-2.6 0.7,15.6 0.7,-1.4 0.7,-15.8 0.7,4.8 0.7,4.1 0.7,-16.8 0.7,10.9 0.7,5.9 0.7,-13.2 0.7,14 0.7,-1.4 0.7,-5.1 0.7,13.8 0.7,-17 0.7,11.8 0.7,-5.8 0.7,11.8 0.7,-16.2 0.7,12 0.7,0.2 0.7,4.6 0.7,4.2 0.7,-27 0.7,12.5 0.7,-8.6 0.7,17.8 0.7,3.5 0.7,-14.4 0.7,4.8 0.7,9.3 0.7,-9.5 0.7,-2.8 0.7,-13.1 0.7,8.2 0.7,14.8 0.7,-30.8 0.7,24.8 0.7,-0.5 0.7,-2 0.7,7.1 0.7,-13.3 0.7,18.6 0.7,-15.8 0.7,12.7 0.7,-13.8 0.7,7.4 0.7,-5.1 0.7,17.5 0.7,-23.5 0.7,3.6 0.7,18.2 0.7,-5.6 0.7,-7.2 0.7,-1.9 0.7,-8.8 0.7,8.8 0.7,5.5 0.7,7.5 0.7,-2.3 0.7,4.6 0.7,-9.2 0.7,-24.3 0.7,18.1 0.7,16.4 0.7,-1.8 0.7,0.9 0.7,-26 0.7,9.6 0.7,-2.6 0.7,9.3 0.7,-9.1 0.7,-4.6 0.7,10.9 0.7,-19.1 0.7,14.8 0.7,8.9 0.7,-13.6 0.7,9.6 0.7,-20.5 0.7,18.1 0.7,5.2 0.7,2 0.7,-0.2 0.7,-10.3 0.7,20 0.7,-10.4 0.7,-8.4 0.7,17.4 0.7,-15.1 0.7,20.7 0.7,-9.7 0.7,-8.2 0.7,-3.2 0.7,-3 0.7,0.5 0.7,4.5 0.7,14.3 0.7,-10.1 0.7,-2.2 0.7,4.5 0.7,-6.4 0.7,-8.2 0.7,-1.9 0.7,25.6 0.7,-14.9 0.7,16.6 0.7,2.7 0.7,-14.1 0.7,4.3 0.7,-9.8 0.7,2.1 0.7,1.9 0.7,-0.7 0.7,13.4 0.7,-14 0.7,8.8 0.7,-6.7 0.7,4.5 0.7,10.7 0.7,-29.8 0.7,24.1 0.7,-15.7 0.7,7.3 0.7,8.9 0.7,-14.7 0.7,-7.7 0.7,-11.6 0.7,42.6 0.7,-11.1 0.7,-9.8 0.7,-14.3 0.7,22.6 0.7,8.1 0.7,-10.1 0.7,-19 0.7,10.7 0.7,7 0.7,-2.9 0.7,10.6 0.7,-18.4 0.7,2.9 0.7,-16.3 0.7,32.3 0.7,-4.4 0.7,-9.5 0.7,-12.1 0.7,23.9 0.7,-20.3 0.7,1.3 0.7,-5.8 0.7,4.5 0.7,4.4 0.7,-1.3 0.7,19.7 0.7,-3.4 0.7,-5.6 0.7,-5.8 0.7,4.8 0.7,-11.4 0.7,15.5 0.7,-11.9 0.7,3.9 0.7,7.7 0.7,-10.9 0.7,-4.5 0.7,21.7 0.7,-24.6 0.7,4 0.7,-8.7 0.7,13.9 0.7,5.3 0.7,-27.7 0.7,24.6 0.7,17.3 0.7,-14.5 0.7,9.9 0.7,-8.7 0.7,2.8 0.7,-6.9 0.7,-10 0.7,18.4 0.7,6.6 0.7,-7 0.7,-2.9 0.7,8.2 0.7,-4.9 0.7,7.4 0.7,-13.9 0.7,-12.4 0.7,20.8 0.7,3.7 0.7,-15.1 0.7,9.3 0.7,4.5 0.7,-31.3 0.7,47.1 0.7,-15.1 0.7,-8.8 0.7,-8.6 0.7,-3.8 0.7,44.8 0.7,-33.3 0.7,9.4 0.7,-12.3 0.7,3.2 0.7,9 0.7,-14.5 0.7,7.9 0.7,-1.1 0.7,6.3 0.7,3.5 0.7,-9.4 0.7,14.5 0.7,-17.1 0.7,0.9 0.7,4.3 0.7,-3 0.7,9.5 0.7,-33.1 0.7,9.9 0.7,-3.7 0.7,42.6 0.7,-15.1 0.7,-13.8 0.7,9.9 0.7,-19.6 0.7,13.4 0.7,16.4 0.7,-7.6 0.7,13.7 0.7,-24 0.7,15.1 0.7,-9.5 0.7,2 0.7,-0.6 0.7,4.8 0.7,5.1 0.7,-11.5 0.7,3 0.7,8.9 0.7,-18.7 0.7,-0.9 0.7,16.6 0.7,-2.7 0.7,-3.4 0.7,-3 0.7,-6 0.7,-2.5 0.7,-1.5 0.7,3 0.7,15.7 0.7,-4.4 0.7,-16.9 0.7,4.2 0.7,21.2 0.7,3.1 0.7,-18.2 0.7,22.4 0.7,-25.6 0.7,10.4 0.7,-9.8 0.7,26.2 0.7,-16.3 0.7,0 0.7,-0.4 0.7,-9.6 0.7,5.8 0.7,-20.3 0.7,16.9 0.7,-5.1 0.7,16.5 0.7,5.1 0.7,-9.7 0.7,-11.8 0.7,-0.6 0.7,16.9 0.7,-9.2 0.7,0.1 0.7,-7.4 0.7,12.2 0.7,-0.3 0.7,5.5 0.7,-15.9 0.7,8.4 0.7,-12.6 0.7,15 0.7,8.2 0.7,-13.5 0.7,11.7 0.7,-19.9 0.7,26 0.7,-10.5 0.7,1.6 0.7,-2.6 0.7,-9 0.7,1.4 0.7,13.9 0.7,7.1 0.7,-12.8 0.7,3.9 0.7,1 0.7,-1.7 0.7,-17.8 0.7,29.8 0.7,-8.3 0.7,-1.9 0.7,-4.5 0.7,-3.5 0.7,8.4 0.7,15.9 0.7,-24.4 0.7,-9.2 0.7,9.8 0.7,1 0.7,8.1 0.7,-19.9 0.7,7.2 0.7,1.2 0.7,11.8 0.7,1.3 0.7,-8.3 0.7,8 0.7,-8.7 0.7,0 0.7,-21.8 0.7,12.7 0.7,-2 0.7,14.4 0.7,-3.4 0.7,-10.6 0.7,10.3 0.7,-1.5 0.7,4.7 0.7,-8.6 0.7,-1.4 0.7,17.7 0.7,-13.5 0.7,11.7 0.7,-17.3 0.7,6 0.7,-0.8 0.7,-5.9 0.7,15.4 0.7,-18.7 0.7,14.4 0.7,-21.5 0.7,37 0.7,-17.1 0.7,9.9 0.7,8.1 0.7,-24.5 0.7,-5.5 0.7,0.1 0.7,7.6 0.7,4.7 0.7,-0.2 0.7,6.9 0.7,-16.1 0.7,17.9 0.7,-15 0.7,7.6 0.7,-10.7 0.7,7.9 0.7,-8.3 0.7,9 0.7,1.4 0.7,-4.6 0.7,0.6 0.7,-11.7 0.7,9.6 0.7,0.5 0.7,7.5 0.7,2.2 0.7,-8.1 0.7,2.8 0.7,4.5 0.7,-22.7 0.7,28.8 0.7,9.3 0.7,-14.9 0.7,-7.8 0.7,6.4 0.7,8.6 0.7,10.7 0.7,-43.1 0.7,25 0.7,-9.4 0.7,2.6 0.7,6.5 0.7,2.4 0.7,-7.3 0.7,-5 0.7,5.9 0.7,-7.5 0.7,25.1 0.7,-29.7 0.7,5.1 0.7,10 0.7,-0.8 0.7,-9.4 0.7,5 0.7,1.4 0.7,-1.7 0.7,2.7 0.7,3.2 0.7,-4.9 0.7,8 0.7,-7.9 0.7,-0.8 0.7,11.5 0.7,-6.1 0.7,-19.5 0.7,37.4 0.7,-8.2 0.7,-12.8 0.7,-13.5 0.7,23.4 0.7,13.1 0.7,-43.4 0.7,22.3 0.7,5.4 0.7,-25.3 0.7,28.3 0.7,-0.5 0.7,0.8 0.7,6.2 0.7,-22.8 0.7,18 0.7,12 0.7,-40.6 0.7,16.9 0.7,23.4 0.7,-26.4 0.7,-9.9 0.7,19.3 0.7,-1.3 0.7,-8 0.7,20.7 0.7,-5.8 0.7,0.8 0.7,-5.2 0.7,-14.8 0.7,8.4 0.7,-17.7 0.7,11 0.7,11.1 0.7,3.5 0.7,-5.1 0.7,0.1 0.7,-17.4 0.7,6.1 0.7,1.2 0.7,5.1 0.7,0 0.7,25.1 0.7,-10.6 0.7,-18.2 0.7,17.9 0.7,-13.5 0.7,-0.3 0.7,0.6 0.7,-13.6 0.7,28.9" fill="none" stroke="#1a9494" stroke-width="2.5" stroke-linejoin="round" stroke-linecap="round"/>
<path d="M282.0 929.8l1,0.1 1,-0.5 1,-0.5 1,-0.4 1,-0.3 1,0.1 1,0.7 1,1 1,0.5 1,-0.1 1,0 1,0.6 1,0.5 1,-0.3 1,-1 1,-1.1 1,-1 1,-0.3 1,0.3 1,0.3 1,-0.4 1,-0.6 1,-0.7 1,-0.5 1,0 1,0.9 1,1.3 1,1.1 1,0.8 1,0 1,-1.3 1,-1.5 1,0.2 1,1 1,0.1 1,-0.6 1,-0.9 1,-0.6 1,-0.1 1,0 1,0.1 1,0.8 1,0.3 1,-1.1 1,-1.3 1,-0.8 1,-0.9 1,-0.4 1,0.7 1,0.8 1,0.1 1,-0.1 1,-0.1 1,-0.2 1,-0.2 1,-0.1 1,0.1 1,0.1 1,-0.2 1,-0.5 1,-0.3 1,0.3 1,0.7 1,0.6 1,0.2 1,-0.2 1,-0.5 1,-0.6 1,-0.4 1,-0.6 1,-1.1 1,-1 1,-0.7 1,-0.1 1,0 1,0.3 1,1 1,0.6 1,0.2 1,0.4 1,-0.5 1,-2.4 1,-2.9 1,-1.1 1,0.4 1,0.3 1,0 1,-0.2 1,-0.4 1,-0.8 1,-1.1 1,-0.9 1,-0.2 1,0.2 1,0.1 1,-0.2 1,-0.2 1,-0.6 1,-1 1,-0.8 1,-0.3 1,-0.1 1,-0.7 1,-1.1 1,-0.4 1,0.5 1,0.5 1,0 1,-1.3 1,-1.6 1,-0.6 1,0.2 1,0.3 1,0.4 1,-0.4 1,-1.3 1,-0.9 1,-0.3 1,-0.3 1,-0.4 1,-0.2 1,-0.5 1,-0.8 1,-0.8 1,-0.8 1,-0.9 1,-1.6 1,-1.6 1,-0.7 1,-0.1 1,-0.1 1,-0.6 1,-0.8 1,-0.9 1,-0.7 1,-0.6 1,-0.6 1,-0.8 1,-1.1 1,-1.2 1,-0.6 1,-0.1 1,-0.6 1,-1.2 1,-1.6 1,-1.3 1,-0.5 1,0.5 1,0.4 1,-0.6 1,-0.9 1,-1 1,-0.9 1,-0.5 1,-0.1 1,-0.6 1,-1.1 1,-1.3 1,-1.4 1,-0.4 1,0.6 1,0.2 1,-0.4 1,-0.5 1,-1.2 1,-1.5 1,-0.8 1,-0.7 1,-1 1,-0.9 1,-0.5 1,0.2 1,0.3 1,-0.7 1,-1.7 1,-2.1 1,-1.2 1,-0.1 1,-0.5 1,-1.8 1,-2.5 1,-1.8 1,-0.5 1,-0.4 1,-0.4 1,-0.9 1,-1.2 1,-1 1,-1 1,-0.8 1,-1 1,-1.4 1,-0.8 1,0 1,-0.1 1,-1 1,-1.9 1,-2.3 1,-1.6 1,-0.4" fill="none" stroke="#000000" stroke-width="14.0" stroke-linejoin="round" stroke-linecap="round"/>
<path d="M482.0 837.9l1,-0.6 1,-2" fill="none" stroke="#000000" stroke-width="13.5" stroke-linejoin="round" stroke-linecap="round"/>
<path d="M484.0 835.3l1,-2.4 1,-1.8 1,-1.5" fill="none" stroke="#000000" stroke-width="13.0" stroke-linejoin="round" stroke-linecap="round"/>
<path d="M487.0 829.6l1,-2.3 1,-2.7" fill="none" stroke="#000000" stroke-width="12.5" stroke-linejoin="round" stroke-linecap="round"/>
<path d="M489.0 824.6l1,-1.6 1,-0.9 1,-1.5" fill="none" stroke="#000000" stroke-width="12.0" stroke-linejoin="round" stroke-linecap="round"/>
<path d="M492.0 820.6l1,-2 1,-2" fill="none" stroke="#000000" stroke-width="11.5" stroke-linejoin="round" stroke-linecap="round"/>
<path d="M494.0 816.6l1,-2.1 1,-2.3 1,-2.6" fill="none" stroke="#000000" stroke-width="11.0" stroke-linejoin="round" stroke-linecap="round"/>
<path d="M497.0 809.6l1,-2.7 1,-2.3" fill="none" stroke="#000000" stroke-width="10.5" stroke-linejoin="round" stroke-linecap="round"/>
<path d="M499.0 804.6l1,-2.1 1,-2.2 1,-2.5 1,-2.8 1,-2.6" fill="none" stroke="#000000" stroke-width="10.0" stroke-linejoin="round" stroke-linecap="round"/>
<path d="M504.0 792.4l1,-2.3 1,-2.3 1,-2.8 1,-3 1,-3 1,-3.1" fill="none" stroke="#000000" stroke-width="9.5" stroke-linejoin="round" stroke-linecap="round"/>
<path d="M510.0 775.9l1,-3.1 1,-3.3 1,-3.4 1,-3.1 1,-2.7 1,-2.9 1,-3.5" fill="none" stroke="#000000" stroke-width="9.0" stroke-linejoin="round" stroke-linecap="round"/>
<path d="M517.0 753.9l1,-3.9 1,-3.9 1,-3.9 1,-4.2 1,-4.4 1,-4.4 1,-4.4 1,-4.8 1,-5.5 1,-6 1,-6.6 1,-7.2 1,-7.5 1,-7.2 1,-7.1 1,-7 1,-6.8 1,-6.6 1,-6.6 1,-6.8 1,-6.8 1,-6.6 1,-6.3 1,-6.3 1,-6.5 1,-6.3 1,-6 1,-6 1,-6.1 1,-6.3 1,-6.4 1,-6.6 1,-6.8 1,-6.9" fill="none" stroke="#000000" stroke-width="8.5" stroke-linejoin="round" stroke-linecap="round"/>
<path d="M551.0 549.2l1,-7.4" fill="none" stroke="#000000" stroke-width="9.0" stroke-linejoin="round" stroke-linecap="round"/>
<path d="M552.0 541.8l1,-8.7" fill="none" stroke="#000000" stroke-width="9.5" stroke-linejoin="round" stroke-linecap="round"/>
<path d="M553.0 533.1l1,-11.6" fill="none" stroke="#000000" stroke-width="10.0" stroke-linejoin="round" stroke-linecap="round"/>
<path d="M554.0 521.5l1,-14.7" fill="none" stroke="#000000" stroke-width="10.5" stroke-linejoin="round" stroke-linecap="round"/>
<path d="M555.0 506.8l1,-16.6 1,-16.2" fill="none" stroke="#000000" stroke-width="11.0" stroke-linejoin="round" stroke-linecap="round"/>
<path d="M557.0 474.0l1,-13.8" fill="none" stroke="#000000" stroke-width="11.5" stroke-linejoin="round" stroke-linecap="round"/>
<path d="M558.0 460.2l1,-10.8" fill="none" stroke="#000000" stroke-width="12.0" stroke-linejoin="round" stroke-linecap="round"/>
<path d="M559.0 449.4l1,-8" fill="none" stroke="#000000" stroke-width="12.5" stroke-linejoin="round" stroke-linecap="round"/>
<path d="M560.0 441.4l1,-5.9 1,-4.8 1,-4" fill="none" stroke="#000000" stroke-width="13.0" stroke-linejoin="round" stroke-linecap="round"/>
<path d="M563.0 426.7l1,-3.5 1,-3.2 1,-3.2 1,-3.3 1,-2.9" fill="none" stroke="#000000" stroke-width="13.5" stroke-linejoin="round" stroke-linecap="round"/>
<path d="M568.0 410.6l1,-1.5 1,0 1,1.4 1,2.1 1,2.5" fill="none" stroke="#000000" stroke-width="14.0" stroke-linejoin="round" stroke-linecap="round"/>
<path d="M573.0 415.1l1,2.2 1,1.2 1,-1.3 1,-4.4 1,-6.6" fill="none" stroke="#000000" stroke-width="14.5" stroke-linejoin="round" stroke-linecap="round"/>
<path d="M578.0 406.2l1,-7.8 1,-7.7 1,-6" fill="none" stroke="#000000" stroke-width="15.0" stroke-linejoin="round" stroke-linecap="round"/>
<path d="M581.0 384.7l1,-4.1" fill="none" stroke="#000000" stroke-width="14.5" stroke-linejoin="round" stroke-linecap="round"/>
<path d="M582.0 380.6l1,-3.1" fill="none" stroke="#000000" stroke-width="14.0" stroke-linejoin="round" stroke-linecap="round"/>
<path d="M583.0 377.5l1,-3.2 1,-4.1" fill="none" stroke="#000000" stroke-width="13.5" stroke-linejoin="round" stroke-linecap="round"/>
<path d="M585.0 370.2l1,-5.8" fill="none" stroke="#000000" stroke-width="13.0" stroke-linejoin="round" stroke-linecap="round"/>
<path d="M586.0 364.4l1,-8.2" fill="none" stroke="#000000" stroke-width="12.5" stroke-linejoin="round" stroke-linecap="round"/>
<path d="M587.0 356.2l1,-9.9" fill="none" stroke="#000000" stroke-width="12.0" stroke-linejoin="round" stroke-linecap="round"/>
<path d="M588.0 346.3l1,-9.4" fill="none" stroke="#000000" stroke-width="10.5" stroke-linejoin="round" stroke-linecap="round"/>
<path d="M589.0 336.9l1,-5" fill="none" stroke="#000000" stroke-width="8.5" stroke-linejoin="round" stroke-linecap="round"/>
<path d="M590.0 331.9l1,2.5" fill="none" stroke="#000000" stroke-width="7.0" stroke-linejoin="round" stroke-linecap="round"/>
<path d="M591.0 334.4l1,9.6" fill="none" stroke="#000000" stroke-width="8.0" stroke-linejoin="round" stroke-linecap="round"/>
<path d="M592.0 344.0l1,13.6" fill="none" stroke="#000000" stroke-width="9.0" stroke-linejoin="round" stroke-linecap="round"/>
<path d="M593.0 357.6l1,13.5" fill="none" stroke="#000000" stroke-width="10.0" stroke-linejoin="round" stroke-linecap="round"/>
<path d="M594.0 371.1l1,11 1,8.5" fill="none" stroke="#000000" stroke-width="11.0" stroke-linejoin="round" stroke-linecap="round"/>
<path d="M596.0 390.6l1,7 1,6.1 1,5.7" fill="none" stroke="#000000" stroke-width="10.5" stroke-linejoin="round" stroke-linecap="round"/>
<path d="M599.0 409.4l1,5.2 1,4.8 1,5.3" fill="none" stroke="#000000" stroke-width="10.0" stroke-linejoin="round" stroke-linecap="round"/>
<path d="M602.0 424.7l1,6.2 1,7.4 1,8.7" fill="none" stroke="#000000" stroke-width="9.5" stroke-linejoin="round" stroke-linecap="round"/>
<path d="M605.0 447.0l1,9.6 1,10.5 1,11.1 1,11.4" fill="none" stroke="#000000" stroke-width="9.0" stroke-linejoin="round" stroke-linecap="round"/>
<path d="M609.0 489.6l1,11.6 1,11.1 1,9.6 1,8.1 1,7.3 1,7.4 1,6.9 1,5.4 1,4.1 1,3.5 1,3.5 1,3.3 1,2.8 1,2.7 1,2.8 1,3.1 1,2.9 1,2.8 1,2.9 1,3.3 1,3.5 1,3.6 1,3.7 1,3.9 1,4 1,3.8 1,3.5 1,3.5 1,3.5 1,3.5 1,3.6 1,3.4 1,3.2 1,2.9 1,3.2 1,3.4 1,3.3 1,3 1,2.9 1,3 1,3" fill="none" stroke="#000000" stroke-width="8.5" stroke-linejoin="round" stroke-linecap="round"/>
<path d="M650.0 666.1l1,3 1,3.5 1,3.5 1,3 1,2.8 1,2.9 1,3 1,3 1,3 1,3.1 1,3.6 1,3.4 1,3.3 1,4 1,4.7 1,4.6 1,4.4 1,4.5 1,4.4 1,4 1,3.6 1,3.6 1,4 1,4.1 1,3.6 1,2.9 1,2.4 1,1.9 1,1.4 1,1.1 1,0.9 1,1.2 1,1.5 1,1.6 1,1.4 1,1.2 1,1.1 1,0.8 1,0.6 1,0.3 1,0.2 1,0.3" fill="none" stroke="#000000" stroke-width="9.0" stroke-linejoin="round" stroke-linecap="round"/>
<path d="M692.0 777.5l1,0.3 1,-0.2" fill="none" stroke="#000000" stroke-width="9.5" stroke-linejoin="round" stroke-linecap="round"/>
<path d="M694.0 777.6l1,-0.4 1,-0.4" fill="none" stroke="#000000" stroke-width="10.0" stroke-linejoin="round" stroke-linecap="round"/>
<path d="M696.0 776.8l1,-0.6 1,-0.9" fill="none" stroke="#000000" stroke-width="10.5" stroke-linejoin="round" stroke-linecap="round"/>
<path d="M698.0 775.3l1,-0.5 1,0.4" fill="none" stroke="#000000" stroke-width="11.0" stroke-linejoin="round" stroke-linecap="round"/>
<path d="M700.0 775.2l1,0.8 1,0.3" fill="none" stroke="#000000" stroke-width="11.5" stroke-linejoin="round" stroke-linecap="round"/>
<path d="M702.0 776.3l1,-0.1 1,-0.4" fill="none" stroke="#000000" stroke-width="12.0" stroke-linejoin="round" stroke-linecap="round"/>
<path d="M704.0 775.8l1,-0.9 1,-1.6 1,-1.7" fill="none" stroke="#000000" stroke-width="12.5" stroke-linejoin="round" stroke-linecap="round"/>
<path d="M707.0 771.6l1,-1.1 1,0.2" fill="none" stroke="#000000" stroke-width="13.0" stroke-linejoin="round" stroke-linecap="round"/>
<path d="M709.0 770.7l1,0.9 1,0.5" fill="none" stroke="#000000" stroke-width="13.5" stroke-linejoin="round" stroke-linecap="round"/>
<path d="M711.0 772.1l1,0.2 1,1" fill="none" stroke="#000000" stroke-width="14.0" stroke-linejoin="round" stroke-linecap="round"/>
<path d="M713.0 773.3l1,1.2 1,-0.6" fill="none" stroke="#000000" stroke-width="14.5" stroke-linejoin="round" stroke-linecap="round"/>
<path d="M715.0 773.9l1,-2 1,-1.8" fill="none" stroke="#000000" stroke-width="15.0" stroke-linejoin="round" stroke-linecap="round"/>
<path d="M717.0 770.1l1,-0.8 1,0" fill="none" stroke="#000000" stroke-width="15.5" stroke-linejoin="round" stroke-linecap="round"/>
<path d="M719.0 769.3l1,-0.3 1,-0.7 1,-1 1,-0.5 1,0.7 1,0.9 1,0.6 1,0.3 1,-0.4 1,-1.2 1,-0.6 1,-0.2 1,-0.6 1,-1 1,-1.4 1,-1.3 1,-0.1 1,1.7 1,2 1,0.3 1,-1.1 1,-1 1,-1.1 1,-1.4 1,-1.2 1,-0.9 1,-0.8 1,0.1 1,0.5 1,0.2 1,-0.6 1,-0.3 1,0.7 1,1.1 1,0.7 1,0.3 1,0 1,-0.7 1,-1.2 1,-0.1 1,1 1,0.7 1,-0.2 1,0 1,0.4 1,-0.1 1,-1.5 1,-1.3 1,0.2 1,0.8 1,-0.7 1,-1.5 1,0.1 1,1.2 1,-0.1 1,-0.9 1,-0.6 1,-0.3 1,0.2 1,0.8 1,0.7 1,-0.2 1,-0.7 1,0.2 1,1.1 1,0.7 1,0.2 1,0.9 1,0.8 1,-0.5 1,-0.9 1,0.2 1,1.2 1,1 1,-0.1 1,-0.8 1,-0.4 1,0.7 1,0.8 1,-0.3 1,-0.3 1,0.8 1,1.3 1,0.3 1,-0.9 1,-1.2 1,0 1,1.4 1,1.2 1,0.7 1,-0.2 1,-0.8 1,-0.4 1,-0.3 1,-0.8 1,0.7 1,2" fill="none" stroke="#000000" stroke-width="16.0" stroke-linejoin="round" stroke-linecap="round"/>
<path d="M816.0 766.0l1,1.5 1,1.4 1,1.5 1,0.2 1,-1 1,-0.2 1,0.5 1,0 1,-0.1 1,0.1 1,0.3 1,0.8 1,0.5 1,-0.1 1,0.1 1,1 1,1.5 1,0.9 1,0.4 1,-0.4 1,-0.7 1,-0.2 1,0.5 1,0.8 1,0.8 1,0.4 1,0.1 1,-0.6 1,-0.6 1,0.5 1,1.6 1,2.6 1,2.1 1,0.7 1,-0.4 1,-1.6 1,-1.6 1,-0.1 1,0.7 1,0.6 1,-0.1 1,-0.2 1,0.7 1,1.4 1,0.6 1,0 1,0.4 1,0.7 1,0.4 1,1 1,1.6 1,1 1,0.2 1,-0.2 1,-0.6 1,-0.6 1,-0.1 1,0.3 1,1.1 1,2.3 1,2 1,0 1,-1.6 1,-1.3 1,0.2 1,1.1 1,0.9 1,0 1,-0.5 1,-0.2 1,0.3 1,0.2 1,-0.3 1,0.2 1,1.1 1,1 1,0 1,-0.3 1,0.1 1,1.3 1,1.7 1,0.8 1,-0.6 1,-0.4 1,0.1 1,-0.1 1,-0.1 1,0.2 1,0 1,-0.4 1,0.2 1,0.5 1,0.4 1,0 1,-0.8 1,-0.1 1,0.8 1,0.4 1,-0.7 1,-1.7 1,-1 1,-0.3 1,0.1 1,1 1,1.3 1,1 1,0 1,-0.8 1,-0.1 1,0.4 1,0.3 1,-0.1 1,-0.2 1,-0.5 1,-0.7 1,-0.9 1,-0.3 1,0.5 1,0.7 1,0.2 1,0.1 1,-0.1 1,0 1,-0.3 1,-0.7 1,0.2 1,0.9 1,0.4 1,0.1 1,-0.4 1,-0.6 1,-0.1 1,-0.2 1,-0.6 1,0 1,0.2 1,-0.2 1,-0.8 1,-0.8 1,-0.1 1,0.3 1,0.6 1,1 1,1.1 1,0.7 1,-0.2 1,-0.9 1,-1 1,-0.7 1,-1.2 1,-2.2 1,-1.7 1,0.2 1,1.1 1,0.4 1,0.1 1,0.2 1,-0.1 1,-1 1,-0.7 1,0.3 1,0.9 1,0.6 1,0.5 1,-0.1 1,-1.1 1,-1.3 1,-0.5 1,0.3 1,0.6 1,0.5 1,0.4 1,0.6 1,0.8 1,0.2 1,0 1,0.3 1,0 1,-0.4 1,0 1,-0.3 1,-0.5 1,0.2 1,0.9 1,0.8 1,0.5 1,-0.1 1,0.4 1,2.3" fill="none" stroke="#000000" stroke-width="16.5" stroke-linejoin="round" stroke-linecap="round"/>
<path d="M1005.0 795.2l1,1.8 1,-0.3 1,-0.6 1,0.9 1,1.5 1,0 1,-2.4 1,-1.5 1,1.1 1,1.5 1,0.3 1,-0.5 1,-0.1 1,1 1,1.2 1,0.8 1,0.1 1,0.1 1,1.3 1,2.4 1,1.9 1,1.5 1,1.1 1,0 1,-0.8 1,0.1 1,1.6 1,0.9 1,-0.5 1,0.3 1,1.8 1,1.9 1,0.9 1,0 1,0.8 1,1 1,-0.1 1,-0.8 1,0.4 1,2.2 1,1.8 1,0.3 1,0.4 1,1.4 1,1.2 1,0.2 1,-0.5 1,0.2 1,0.9 1,0.4 1,-0.2 1,-0.3 1,0.1 1,0.6 1,0.7 1,0.8 1,1.1 1,1.7 1,2 1,1 1,0.1 1,-0.3 1,-1.2 1,-1.3 1,0.2 1,1.2 1,1.6 1,1.6 1,1.3 1,0.1 1,-1.1 1,-0.4 1,0.6 1,0.7 1,1 1,1.4 1,1.3 1,1.5 1,1.2 1,-0.1 1,-1 1,-1.5 1,-0.3 1,1.7 1,2.2 1,1.2 1,0.2 1,-0.1 1,0.4 1,0.4 1,0.2 1,0.7 1,1.5 1,1.3 1,0.4 1,-0.3 1,-0.4 1,0.2 1,1.3 1,1.9 1,0.8 1,-0.6 1,-1.1 1,-1.2 1,-0.5 1,0.6 1,0.8 1,0.6 1,0.7 1,1.2 1,0.8 1,0.2 1,0.5 1,1 1,0.7 1,0.3 1,-0.5 1,-1.4 1,-1.4 1,-0.4 1,0.4 1,0.5 1,0.6 1,1 1,0.8 1,0.9 1,1.3 1,0.3 1,-1.1 1,-0.8 1,0.7 1,1.4 1,0.3 1,-0.7 1,-0.4 1,0.2 1,0.7 1,0.3 1,-0.4 1,-0.2 1,1.1 1,1.6 1,0.9 1,-0.4 1,-0.6 1,0.1 1,1.1 1,1.1 1,0.4 1,-0.5 1,-1.2 1,-0.4 1,1.4 1,1.8 1,0.5 1,0.3 1,0.9 1,0.2 1,-1 1,-0.8 1,0.8 1,1.4 1,0.3 1,-1 1,-0.1 1,1 1,0.6 1,-0.7 1,-1.2 1,-0.2 1,0.8 1,0.8 1,-0.2 1,-1 1,-0.1 1,1 1,0.8 1,0.1 1,-0.2 1,-0.6 1,0.2 1,0.8 1,0.7 1,0.3 1,-0.4 1,-0.8 1,0 1,1.3 1,1.8 1,1 1,-0.2 1,-0.6 1,-0.4 1,0.4 1,1 1,1.2 1,1 1,-0.1 1,-1.3 1,-0.9 1,-0.3 1,-0.7 1,-0.4 1,0.6 1,1 1,1.1 1,1 1,0.4 1,-0.3 1,-0.7 1,-1 1,-0.8 1,0.2 1,0.8 1,1 1,1.1 1,1.3 1,1.1 1,-0.1 1,-1.1 1,-0.5 1,0.2 1,-0.1 1,-0.7 1,-0.5 1,0.3 1,-0.1 1,0.1 1,1.6 1,2.2 1,1.4 1,1.1 1,0 1,-1.3 1,-0.8 1,0.8 1,1.3 1,0 1,-1.2 1,-1.1 1,-0.6 1,-0.6 1,0.2 1,0.9 1,0.5 1,0.1 1,0.6 1,0.4 1,-0.3 1,-0.1 1,0.3 1,-0.2 1,-0.3 1,0.9 1,1.4 1,0.2 1,-0.5 1,-0.5 1,-0.1 1,0.3 1,0.9 1,1.2 1,0.8 1,-0.5 1,-1.4 1,-1.3 1,0.2 1,1 1,0.1 1,-0.6 1,0.6 1,1.4 1,1.1 1,0.7 1,0.4 1,-0.3 1,-1.4 1,-0.8 1,0.9 1,1.3 1,0.9 1,-0.3 1,-1 1,-0.3 1,0.6 1,0.8 1,-0.2 1,-1 1,0.4 1,1.4 1,0.6 1,0.2 1,1.1 1,1 1,-0.4 1,-1.4 1,-1.9 1,-0.8 1,1.4 1,1.9 1,1.1 1,-0.2 1,-1.1 1,-1.1 1,-0.2 1,1.5 1,1.4 1,-0.6 1,-0.6 1,0.9 1,0.6 1,-0.5 1,-0.5 1,-0.3 1,-0.3 1,-0.2 1,0.3 1,1.1 1,0.8 1,0.2 1,0.6 1,0.9 1,0.5 1,-0.2 1,-1 1,-0.5 1,0 1,-0.7 1,-1.1 1,0 1,0.6 1,1 1,1.5 1,0.8 1,-0.5 1,-1.2 1,-0.1 1,1.2 1,1.6 1,0.4 1,-1.3 1,-0.8 1,0.2 1,-0.3 1,-1.1 1,-1.1 1,0.2 1,1.2 1,1 1,0.6 1,0.5 1,0.5 1,0 1,-0.7 1,0 1,0.8 1,0.3 1,0 1,-0.4 1,-0.7 1,-0.9 1,-0.4 1,0.8 1,1.9 1,0.9 1,-0.8 1,-1.1 1,0.4 1,1 1,0.7 1,0.1 1,-0.5 1,-0.3 1,-0.1 1,0.1 1,0.1 1,-0.2 1,-0.2 1,0.6 1,1.4 1,1.2 1,0.6 1,0.1 1,0.4 1,0.2 1,0.3 1,0.6 1,-0.4 1,-1.5 1,-1.1 1,-0.2 1,0.5 1,0.7 1,0.2 1,0.4 1,1 1,1.1 1,0.1 1,-0.6 1,-0.7 1,0.4 1,0.7 1,-0.2 1,-0.1 1,0.8 1,0.3 1,-0.4 1,-0.1 1,0 1,0 1,-0.5 1,-1.1 1,-1 1,-0.3 1,0.5 1,1.6 1,1.6 1,0.9 1,0.1 1,-0.9 1,-0.6 1,0.6 1,0.5 1,-0.3 1,-0.1 1,0.3 1,-0.2 1,-0.2 1,-0.2 1,-0.2 1,0 1,0.1 1,-0.5 1,-1.3 1,-0.7 1,-0.1 1,-0.1 1,0.1 1,0.5 1,0.2 1,0.2 1,0.7 1,0.9 1,-0.1 1,-1.5 1,-1.3 1,0 1,0.9 1,1.3 1,1 1,0.3 1,0.1 1,0.3 1,-0.3 1,-0.7 1,0.2 1,1.3 1,0.7 1,-0.5 1,-0.2 1,0.7 1,0.6 1,0.6 1,0.4 1,-0.1 1,0.6 1,0.7 1,0.3 1,0.3 1,-0.1 1,-0.5 1,-0.8 1,-1.8 1,-1.5 1,0.1 1,0.5 1,0.2 1,0.5 1,0.5 1,1.3 1,2.1 1,1.2 1,0 1,-1 1,-1.3 1,-0.9 1,-1.1 1,-0.4 1,0.8 1,1.2 1,0.8 1,-0.2 1,-0.6 1,-0.8 1,-0.7 1,-0.1 1,0.4 1,0.5 1,0.6 1,0.3 1,0.2 1,0.8 1,1.2 1,0.9 1,0.1 1,-1.1 1,-0.8 1,0.2 1,0.2 1,-0.5 1,-1.1 1,-0.9 1,-0.7 1,-0.8 1,-0.9 1,-0.1 1,1.5 1,2 1,1 1,-0.2 1,-0.8 1,-1.3 1,-1.4 1,-0.7 1,0.4 1,0.4 1,0.1 1,0.6 1,1.5 1,1.3 1,0.4 1,-0.6 1,-0.7 1,-0.4 1,-0.3 1,-0.4 1,-0.4 1,-0.3 1,-0.1 1,0.1 1,0.8 1,1.8 1,1.5 1,0.5 1,0.2 1,-0.4 1,-0.4 1,-0.8 1,-1.6 1,-0.7 1,0.7 1,0.9 1,0.4 1,-0.5 1,-1.1 1,-0.9 1,-0.1 1,0.7 1,1.3 1,1.4 1,0.5 1,-0.9 1,-1.2 1,-0.5 1,-0.3 1,-0.2 1,-0.5 1,-0.4 1,0.4 1,1.3 1,1.1 1,0.1 1,0 1,0.5 1,0.7 1,0.1 1,-0.9 1,-1.3 1,-0.1 1,1.3 1,1 1,-0.7 1,-1.4 1,-0.5 1,0.2 1,-0.9 1,-1 1,0.5 1,1.3 1,1.1 1,-0.3 1,-1.1 1,0 1,0.5 1,-0.4 1,-1 1,-0.4 1,0.3 1,0.1 1,0.9 1,1.5 1,1.2 1,1.1 1,0.7 1,-0.8 1,-1.7 1,-1.3 1,0.2 1,1.4 1,1.3 1,-0.8 1,-2.2 1,-2.3 1,-0.8 1,1 1,1.2 1,0.6 1,0.3 1,0.4 1,-0.1 1,-0.2 1,0.1 1,-0.1 1,-0.2 1,-0.1 1,-0.3 1,-0.1 1,0.9 1,1.5 1,1 1,0.6 1,0.3 1,0.3 1,-0.8 1,-2.8 1,-3.2 1,-1.3 1,0.7 1,0.9 1,0.3 1,0.6 1,0.7 1,0.6 1,1.3 1,1.6 1,0.2 1,-1.4 1,-1.3 1,0.7 1,2 1,0.8 1,-0.4 1,-0.2 1,-0.2 1,-0.4 1,-0.3 1,-0.2 1,0.2 1,0.1 1,-0.3 1,0.1 1,-0.1 1,-1.1 1,-1.4 1,-0.2 1,0.7 1,0.7 1,0.9 1,0.9 1,0.1 1,-0.9 1,-0.6 1,1 1,1.7 1,0.8 1,0 1,-0.2 1,-0.3 1,-0.6 1,-0.3 1,0 1,0.8 1,1.5 1,0.5 1,-0.9 1,-0.3 1,0.4 1,-0.3 1,-0.8 1,-0.7 1,-0.6 1,-0.4 1,-0.2 1,0.3 1,1.1 1,0.6 1,-0.5 1,-0.1 1,0.3 1,-0.5 1,-0.9 1,-0.8 1,-1.4 1,-0.7 1,0.5 1,0.5 1,-0.1 1,-0.1 1,0 1,-0.3 1,0.2 1,1 1,0.6 1,0.1 1,0.7 1,1.1 1,0.7 1,-0.5 1,-1.2 1,-0.3 1,-0.7 1,-0.9 1,0.4 1,0.9 1,0.3 1,0.2 1,-0.1 1,-0.3 1,0.2 1,0.9 1,1 1,1 1,-0.5 1,-2.2 1,-1.6 1,0.4 1,1.7 1,1.7 1,0.7 1,-0.1 1,-1.3 1,-2.2 1,-0.9 1,0.5 1,0.7 1,0.6 1,0.4 1,-0.9 1,-1.4 1,-0.8 1,0.2 1,0.9 1,0.8 1,0.5 1,0.4 1,0.7 1,0.7 1,0.5 1,-0.3 1,-0.5 1,-0.5 1,-0.8 1,-0.4 1,-0.2 1,-0.9 1,-1 1,-0.5 1,0.6 1,1.4 1,1.8 1,1.8 1,0.4 1,-1.2 1,-1.3 1,-0.3 1,0.2 1,-0.4 1,-0.7 1,0.2 1,1.1 1,0.8 1,0.1 1,-0.5 1,-0.4 1,0.1 1,0.7 1,0.4 1,-0.2 1,-0.6 1,-1.3 1,-0.5 1,0.7 1,0.5 1,-0.2 1,0.2 1,0.7 1,-0.2 1,-1.1 1,-0.5 1,0.7 1,1.2 1,1.4 1,0.7 1,0 1,-0.1 1,-0.9 1,-0.9 1,0.1 1,0.6 1,0.2 1,-0.8 1,-1.3 1,-1.1 1,-0.6 1,0.5 1,1.1 1,0.5 1,0 1,-0.1 1,0.1 1,0.5 1,1 1,0.7 1,-0.6 1,-1.5 1,-1 1,0.3 1,0.4 1,-0.6 1,-0.7 1,0.4 1,1.1 1,1.1 1,0.2 1,-0.2 1,-0.5 1,-0.9 1,-0.8 1,0.3 1,1.6 1,1.8 1,0.3 1,-1.6 1,-1.5 1,0 1,0.3 1,0" fill="none" stroke="#000000" stroke-width="17.0" stroke-linejoin="round" stroke-linecap="round"/>
<path d="M275.0 923.3l0.7,-1.9 0.7,3.9 0.7,6.7 0.7,3.4 0.7,-9.3 0.7,-1.6 0.7,4.6 0.7,0.8 0.7,3 0.7,7.8 0.7,-13 0.7,-13.5 0.7,12.4 0.7,-15.2 0.7,16.9 0.7,17.2 0.7,-8.7 0.7,-5.1 0.7,11.3 0.7,-19.6 0.7,8.8 0.7,0.8 0.7,-7.3 0.7,0.7 0.7,7.6 0.7,-2.7 0.7,-5 0.7,2.6 0.7,4.7 0.7,-5.2 0.7,-3.3 0.7,6.7 0.7,-11.9 0.7,10.2 0.7,-7.8 0.7,6.6 0.7,-1.9 0.7,-6.6 0.7,17.9 0.7,-8.4 0.7,0.5 0.7,-5.5 0.7,12.3 0.7,-2.3 0.7,-10.2 0.7,5.3 0.7,-4.9 0.7,2.1 0.7,3.6 0.7,4.8 0.7,-22.5 0.7,19.9 0.7,-2.4 0.7,-8.5 0.7,23.5 0.7,-18.1 0.7,7.8 0.7,-7.6 0.7,2.4 0.7,3.1 0.7,-5.1 0.7,-0.4 0.7,7.4 0.7,-1 0.7,8.1 0.7,-13.1 0.7,-12.5 0.7,1.9 0.7,11.7 0.7,-9.3 0.7,-2.7 0.7,15.5 0.7,-16.8 0.7,-0.1 0.7,10.7 0.7,6.1 0.7,-2.4 0.7,-11.9 0.7,11.4 0.7,-10.8 0.7,7.9 0.7,-20.4 0.7,10.7 0.7,9.7 0.7,-12.5 0.7,12.5 0.7,-25.9 0.7,31.7 0.7,-3.2 0.7,7.2 0.7,-16 0.7,8.8 0.7,-2.1 0.7,-5 0.7,4.2 0.7,-2.7 0.7,13.4 0.7,-15.3 0.7,1.4 0.7,-5.2 0.7,1.9 0.7,3.7 0.7,0.4 0.7,0.3 0.7,3 0.7,-10.1 0.7,-0.3 0.7,-5.6 0.7,17.8 0.7,3.7 0.7,-9.5 0.7,1.4 0.7,-8.6 0.7,5.3 0.7,7.6 0.7,-6.8 0.7,-1.5 0.7,1.1 0.7,-1.9 0.7,5.1 0.7,4.6 0.7,-9.9 0.7,2.6 0.7,2.7 0.7,-11.4 0.7,3.6 0.7,-9 0.7,11.3 0.7,2.5 0.7,-2.5 0.7,0.3 0.7,-7.7 0.7,-0.7 0.7,12.5 0.7,1.9 0.7,-12.5 0.7,5.5 0.7,-15.8 0.7,5.5 0.7,7.8 0.7,-3 0.7,2 0.7,12.2 0.7,-12.1 0.7,-1.8 0.7,11.1 0.7,-17.5 0.7,3.5 0.7,-2.3 0.7,2.1 0.7,14 0.7,-25.9 0.7,19.1 0.7,-16 0.7,-2 0.7,8.4 0.7,0 0.7,-1.6 0.7,-5.2 0.7,10.5 0.7,-12.2 0.7,11.3 0.7,13 0.7,-25.4 0.7,9.2 0.7,-1.2 0.7,-10.4 0.7,9.1 0.7,5.5 0.7,-0.5 0.7,-1.9 0.7,-8 0.7,2.5 0.7,-5 0.7,12.1 0.7,-11.9 0.7,-2.4 0.7,2.7 0.7,13.5 0.7,-20.4 0.7,14.8 0.7,-10.6 0.7,9.9 0.7,-4.4 0.7,-10.7 0.7,11.1 0.7,0.2 0.7,-7.8 0.7,5.4 0.7,-1.3 0.7,9.1 0.7,-5.8 0.7,1.8 0.7,-7.6 0.7,3.7 0.7,1.4 0.7,4.2 0.7,-10 0.7,-4 0.7,-1.6 0.7,2.9 0.7,-10.4 0.7,3.5 0.7,10.1 0.7,7.7 0.7,-4.4 0.7,-12.6 0.7,10.7 0.7,-5.8 0.7,-5.8 0.7,10.8 0.7,-3 0.7,-0.6 0.7,-2.4 0.7,1.9 0.7,-8.2 0.7,-9.3 0.7,6.5 0.7,8.6 0.7,-3.1 0.7,2.6 0.7,-8.5 0.7,-0.2 0.7,1.1 0.7,-0.3 0.7,-2 0.7,9.6 0.7,-8 0.7,-17.6 0.7,11.7 0.7,13.8 0.7,-10.2 0.7,-1.1 0.7,8.4 0.7,6.4 0.7,-21.6 0.7,9 0.7,0.6 0.7,-0.3 0.7,6.9 0.7,-19.2 0.7,1 0.7,5.7 0.7,0.4 0.7,-0.3 0.7,-8 0.7,1.2 0.7,11.3 0.7,-5.9 0.7,-0.5 0.7,0.5 0.7,5.3 0.7,-12.3 0.7,2.3 0.7,-12.1 0.7,7 0.7,3.5 0.7,1.4 0.7,-8.9 0.7,-14.3 0.7,12.4 0.7,-8.3 0.7,5.6 0.7,5 0.7,3 0.7,-2.4 0.7,-7.2 0.7,0.2 0.7,5.2 0.7,-4.1 0.7,7.9 0.7,-0.5 0.7,-17.2 0.7,7.8 0.7,13.5 0.7,-5.8 0.7,-9.3 0.7,-18 0.7,22.2 0.7,-2.5 0.7,-3.9 0.7,5.1 0.7,-3.8 0.7,1.1 0.7,-5.6 0.7,-0.2 0.7,2.7 0.7,-5 0.7,-5.9 0.7,-1 0.7,8.5 0.7,-7.6 0.7,-1.2 0.7,0.2 0.7,6.9 0.7,-17.3 0.7,-3.1 0.7,13.7 0.7,-3.5 0.7,7.7 0.7,-10.7 0.7,-7.2 0.7,7.5 0.7,-1.1 0.7,-1.2 0.7,-1.2 0.7,6.9 0.7,-12.7 0.7,2 0.7,-3.2 0.7,-8.2 0.7,1 0.7,-0.1 0.7,1 0.7,-11.2 0.7,14.5 0.7,-7 0.7,-4.7 0.7,-0.8 0.7,0.7 0.7,-3.9 0.7,-3.1 0.7,-2.3 0.7,1.8 0.7,3.5 0.7,-15.4 0.7,5.4 0.7,-0.6 0.7,-4.4 0.7,7.4 0.7,-3.8 0.7,-11.8 0.7,3.9 0.7,-6.4 0.7,3.9 0.7,-4.5 0.7,1.4 0.7,-8.6 0.7,1.8 0.7,1.6 0.7,-7.8 0.7,0.4 0.7,-5.1 0.7,-0.5 0.7,-4 0.7,0.1 0.7,-0.5 0.7,-8.7 0.7,-5 0.7,-1 0.7,-5.2 0.7,-0.6 0.7,-1.6 0.7,-7.4 0.7,2.1 0.7,-3.5 0.7,-7.9 0.7,0.1 0.7,-7.3 0.7,2.6 0.7,-7.1 0.7,-2.6 0.7,-2.4 0.7,-7.4 0.7,-7.2 0.7,-4.2 0.7,-7.3 0.7,-3.6 0.7,0.5 0.7,-11.7 0.7,-3.4 0.7,-3.7 0.7,-4.4 0.7,-3.6 0.7,-10.4 0.7,-2.7 0.7,-3.5 0.7,-3.5 0.7,-3.5 0.7,-5.1 0.7,-5.3 0.7,-7.3 0.7,-5 0.7,-4.4 0.7,-3.1 0.7,2.7 0.7,-11.5 0.7,-6 0.7,-1.3 0.7,-2.8 0.7,-6.9 0.7,-3.7 0.7,-2.1 0.7,-5.7 0.7,-7.5 0.7,-8 0.7,-2.9 0.7,-3.9 0.7,-17.3 0.7,-0.9 0.7,-15.3 0.7,-7.6 0.7,-17.3 0.7,-10.2 0.7,-9.9 0.7,-2.2 0.7,-1 0.7,-10.4 0.7,-2.9 0.7,-2.2 0.7,-6.5 0.7,2.2 0.7,-9.5 0.7,0.6 0.7,-0.1 0.7,-4 0.7,-1.1 0.7,-6.4 0.7,1.9 0.7,-0.1 0.7,-3.3 0.7,5.6 0.7,-3.2 0.7,2.5 0.7,0.6 0.7,5 0.7,-0.9 0.7,3.9 0.7,0.5 0.7,-3.9 0.7,-4.6 0.7,2.4 0.7,-11.9 0.7,-5.3 0.7,1.9 0.7,-7.6 0.7,0.9 0.7,-7.2 0.7,-8.5 0.7,3.8 0.7,-3.8 0.7,-1.9 0.7,-1.7 0.7,-6.7 0.7,-5.2 0.7,-6.1 0.7,-10.5 0.7,-4.9 0.7,-6.4 0.7,-3.5 0.7,3.1 0.7,4.7 0.7,4.4 0.7,11.6 0.7,7.7 0.7,13.7 0.7,9.3 0.7,4.8 0.7,0.2 0.7,8.6 0.7,7.2 0.7,2.9 0.7,4.3 0.7,3.6 0.7,-2.2 0.7,7.7 0.7,4.2 0.7,-0.1 0.7,6.2 0.7,6.8 0.7,13.2 0.7,3 0.7,2.7 0.7,7.4 0.7,-6.1 0.7,21.8 0.7,12.5 0.7,2.2 0.7,19.6 0.7,3.7 0.7,-0.7 0.7,0.7 0.7,12 0.7,5.2 0.7,17.7 0.7,-12.1 0.7,9.5 0.7,9.1 0.7,-3.9 0.7,4.8 0.7,3.4 0.7,2.1 0.7,4.5 0.7,1 0.7,-8.6 0.7,16.6 0.7,-4.7 0.7,6.8 0.7,-0.6 0.7,4.2 0.7,5 0.7,-10.6 0.7,7.6 0.7,5.7 0.7,0.4 0.7,10.1 0.7,-5.7 0.7,1 0.7,13 0.7,-8.4 0.7,8.5 0.7,-3.1 0.7,7.5 0.7,6.2 0.7,1.7 0.7,-4.6 0.7,0.4 0.7,10.8 0.7,-1.7 0.7,9.2 0.7,1.3 0.7,3.1 0.7,-4.1 0.7,9.6 0.7,-9.5 0.7,3.7 0.7,8.1 0.7,2.2 0.7,0.5 0.7,-2 0.7,3.6 0.7,0.2 0.7,7.8 0.7,-1.8 0.7,9.2 0.7,-0.2 0.7,-5.8 0.7,7.7 0.7,10.4 0.7,-4.4 0.7,5.9 0.7,1.7 0.7,-0.2 0.7,0.9 0.7,-5.6 0.7,9.7 0.7,-3.1 0.7,1 0.7,6.7 0.7,6.5 0.7,0.3 0.7,2.8 0.7,2.6 0.7,2.6 0.7,-3.6 0.7,2.9 0.7,7.3 0.7,6.6 0.7,-0.4 0.7,0.9 0.7,4 0.7,3.4 0.7,2.4 0.7,1.4 0.7,11.7 0.7,-2.2 0.7,-3.5 0.7,8.6 0.7,3.6 0.7,3.4 0.7,-3.8 0.7,-0.6 0.7,15.4 0.7,-10.1 0.7,1 0.7,6.4 0.7,4.1 0.7,0.7 0.7,-4.8 0.7,3.8 0.7,-1.4 0.7,3.4 0.7,-1.1 0.7,11 0.7,-3.1 0.7,-3.2 0.7,1.1 0.7,5.6 0.7,-5.6 0.7,1.9 0.7,-0.3 0.7,1.7 0.7,5 0.7,-7.2 0.7,-2.2 0.7,0.1 0.7,1.5 0.7,-3 0.7,0.2 0.7,1.2 0.7,5.1 0.7,-1.1 0.7,-2.7 0.7,3 0.7,-1.6 0.7,-0.8 0.7,-3.9 0.7,8 0.7,-4.2 0.7,-1.1 0.7,-1 0.7,2.6 0.7,-1.5 0.7,-6.5 0.7,3.3 0.7,-3.7 0.7,-10.6 0.7,9.3 0.7,23.7 0.7,-27.3 0.7,10.4 0.7,5.5 0.7,-6.3 0.7,0.2 0.7,-6.6 0.7,1.7 0.7,-0.3 0.7,-3.7 0.7,7.2 0.7,5.6 0.7,2 0.7,6.1 0.7,-8.9 0.7,21.4 0.7,-15.8 0.7,-20.2 0.7,-3.1 0.7,13.9 0.7,4.6 0.7,0.5 0.7,-7.7 0.7,10.5 0.7,-10.8 0.7,-4 0.7,1.6 0.7,1.8 0.7,4.1 0.7,-28 0.7,13.6 0.7,18.2 0.7,-13 0.7,12.5 0.7,-4.6 0.7,-3.1 0.7,7.2 0.7,-11.6 0.7,6.5 0.7,1.1 0.7,1.8 0.7,-29 0.7,32.2 0.7,0.3 0.7,-6.7 0.7,5.3 0.7,1.4 0.7,-17.8 0.7,4.6 0.7,12.1 0.7,-7.6 0.7,-11.9 0.7,11 0.7,10.3 0.7,-18.7 0.7,1.1 0.7,10.7 0.7,-1.8 0.7,-15.1 0.7,1.4 0.7,4.9 0.7,2.6 0.7,-0.9 0.7,-6.4 0.7,9.5 0.7,-19.6 0.7,9.7 0.7,7.1 0.7,-0.4 0.7,-1 0.7,3.8 0.7,-1.6 0.7,-4.2 0.7,15.8 0.7,-14.1 0.7,22.5 0.7,-35.7 0.7,21.2 0.7,-17.9 0.7,-3.7 0.7,5.9 0.7,-16.1 0.7,19.9 0.7,3.5 0.7,-7.7 0.7,4.5 0.7,7.6 0.7,-9.1 0.7,13.1 0.7,-14 0.7,21.6 0.7,-15.7 0.7,-11 0.7,17.1 0.7,-4 0.7,-14.5 0.7,28.7 0.7,-31.4 0.7,19.9 0.7,17.7 0.7,-28.2 0.7,10.3 0.7,-0.8 0.7,-23.8 0.7,29 0.7,-16.4 0.7,19.2 0.7,-1.7 0.7,-19.6 0.7,-1.6 0.7,21.6 0.7,-20.7 0.7,10.7 0.7,3.8 0.7,3.6 0.7,-6.7 0.7,-7 0.7,13.9 0.7,-2.9 0.7,5.5 0.7,-17.7 0.7,21.9 0.7,-8.5 0.7,-6.9 0.7,8 0.7,-5.7 0.7,-14.6 0.7,10.2 0.7,8.5 0.7,-0.3 0.7,-0.3 0.7,-8.2 0.7,-2.1 0.7,5.2 0.7,5.4 0.7,-2.3 0.7,3.9 0.7,-8.4 0.7,1 0.7,-0.1 0.7,2.9 0.7,-2.5 0.7,4.7 0.7,-3.1 0.7,15.2 0.7,-16.9 0.7,-1.7 0.7,11.6 0.7,10.6 0.7,-15 0.7,-8.5 0.7,16.7 0.7,-14.9 0.7,8.5 0.7,-1.6 0.7,-7.4 0.7,17 0.7,-3.8 0.7,-3.9 0.7,3.9 0.7,-12 0.7,7.6 0.7,5.4 0.7,3.4 0.7,-21.1 0.7,19.6 0.7,-12.5 0.7,0.3 0.7,15.8 0.7,2.6 0.7,-17.6 0.7,15.7 0.7,-6 0.7,6.3 0.7,9.4 0.7,4 0.7,-17.9 0.7,-20.6 0.7,1.3 0.7,15.9 0.7,-2.2 0.7,8.4 0.7,2.3 0.7,10.7 0.7,-5.6 0.7,-20.2 0.7,31.9 0.7,-20.7 0.7,-3.2 0.7,-11.2 0.7,16.3 0.7,18.5 0.7,-9.9 0.7,-4.3 0.7,-0.8 0.7,5.4 0.7,-14.7 0.7,-0.4 0.7,12.5 0.7,2.9 0.7,-13.5 0.7,9.3 0.7,5.3 0.7,-5.1 0.7,-6.5 0.7,21.7 0.7,-5.2 0.7,-6.7 0.7,-6.5 0.7,-9.2 0.7,7.2 0.7,4.3 0.7,-8.2 0.7,17.1 0.7,-19 0.7,24.7 0.7,-25.4 0.7,5.4 0.7,4.5 0.7,7 0.7,4.8 0.7,-17.8 0.7,15 0.7,-9 0.7,-7.3 0.7,1.9 0.7,20.2 0.7,-21.5 0.7,6.5 0.7,5.9 0.7,12.7 0.7,-30.5 0.7,19.5 0.7,0.4 0.7,-15.2 0.7,10.6 0.7,11.4 0.7,-2.4 0.7,-7.1 0.7,-1.6 0.7,-4 0.7,18.3 0.7,-20.1 0.7,11.9 0.7,-2.1 0.7,1.7 0.7,8.6 0.7,-12.7 0.7,-7.3 0.7,11 0.7,-8.9 0.7,25 0.7,-1.9 0.7,-20.7 0.7,9.2 0.7,-13.6 0.7,12.5 0.7,-2.4 0.7,20.4 0.7,-11.8 0.7,-2 0.7,7.7 0.7,-12.7 0.7,9.4 0.7,-11.5 0.7,-9.5 0.7,32.2 0.7,-40.3 0.7,29.3 0.7,-11.4 0.7,14.6 0.7,-14.3 0.7,8.1 0.7,-12.8 0.7,21 0.7,-15.4 0.7,-5.9 0.7,-15 0.7,12 0.7,21.9 0.7,-2.9 0.7,-14.3 0.7,11.6 0.7,-1.5 0.7,16.7 0.7,-17.8 0.7,18.2 0.7,-25.6 0.7,-6.5 0.7,14.1 0.7,6.9 0.7,8 0.7,-22.8 0.7,16.9 0.7,-3.4 0.7,22 0.7,-31.1 0.7,17.5 0.7,-12.2 0.7,2.4 0.7,3.7 0.7,4.8 0.7,-16.5 0.7,4.6 0.7,-7 0.7,-15.1 0.7,41.3 0.7,-16.9 0.7,-1.8 0.7,-6.6 0.7,-5.1 0.7,4.3 0.7,18.2 0.7,-8 0.7,-1.3 0.7,-10.5 0.7,-10.3 0.7,19.5 0.7,-16.2 0.7,11.6 0.7,4.6 0.7,13.3 0.7,-28.6 0.7,3.1 0.7,18.3 0.7,-27.8 0.7,40 0.7,-17.4 0.7,5.8 0.7,-2.7 0.7,-19.6 0.7,19.4 0.7,-13.4 0.7,-5.4 0.7,13.5 0.7,1.7 0.7,4.8 0.7,-6.5 0.7,9.3 0.7,-7.1 0.7,-7.5 0.7,8.5 0.7,-7.6 0.7,10.5 0.7,1.5 0.7,-11.5 0.7,11.2 0.7,-24 0.7,19.4 0.7,-8.3 0.7,10.1 0.7,-0.7 0.7,-13.5 0.7,11.9 0.7,9.7 0.7,-17.2 0.7,9.7 0.7,14 0.7,-37 0.7,14.3 0.7,17.6 0.7,-17.3 0.7,0 0.7,-7.8 0.7,-14.6 0.7,29.7 0.7,-1.1 0.7,5.4 0.7,-6.2 0.7,-13.7 0.7,-7.8 0.7,18.4 0.7,22.8 0.7,-21.7 0.7,13.1 0.7,-1.9 0.7,-19.4 0.7,2.7 0.7,9.5 0.7,-11.8 0.7,-2.9 0.7,2.6 0.7,9.2 0.7,-12.3 0.7,3.5 0.7,5.5 0.7,-10 0.7,2.8 0.7,16.7 0.7,-9.7 0.7,-8.6 0.7,2 0.7,12.6 0.7,-11.6 0.7,3.9 0.7,10.1 0.7,-15.3 0.7,11.8 0.7,-8.3 0.7,-12.3 0.7,28.8 0.7,-15.9 0.7,3.5 0.7,1.5 0.7,-6.2 0.7,-5.5 0.7,1.5 0.7,3 0.7,10.9 0.7,-8.4 0.7,6.9 0.7,-23.7 0.7,11.5 0.7,9.5 0.7,-10.3 0.7,15.8 0.7,-7.8 0.7,-14.9 0.7,8.5 0.7,7.2 0.7,-10.8 0.7,20.6 0.7,-4.9 0.7,-5 0.7,-6.4 0.7,13.1 0.7,-10.6 0.7,16.1 0.7,-2.7 0.7,-11.5 0.7,4.5 0.7,17 0.7,-9.4 0.7,3.2 0.7,-12.5 0.7,11.2 0.7,-17.2 0.7,16.7 0.7,2.8 0.7,-9.7 0.7,5.9 0.7,-6.6 0.7,1 0.7,4.7 0.7,-6.6 0.7,6.5 0.7,3.1 0.7,-12 0.7,-3.3 0.7,16.6 0.7,-23.4 0.7,6.8 0.7,3.1 0.7,18.2 0.7,-0.2 0.7,20.8 0.7,-27.8 0.7,0.3 0.7,2.3 0.7,-10 0.7,20.6 0.7,-15.5 0.7,1.5 0.7,8.8 0.7,-5.3 0.7,9 0.7,2.6 0.7,0.9 0.7,-6.2 0.7,-6.5 0.7,7.6 0.7,-8.6 0.7,-3 0.7,0 0.7,22.1 0.7,-19.7 0.7,21.8 0.7,-9.8 0.7,-1.9 0.7,3.8 0.7,13.4 0.7,-25 0.7,16.2 0.7,-7.4 0.7,-4.4 0.7,-8.3 0.7,9.8 0.7,0.4 0.7,8.8 0.7,7.5 0.7,-3.4 0.7,-5.2 0.7,17 0.7,-19.1 0.7,6 0.7,-2.8 0.7,8.9 0.7,-1.2 0.7,-3.7 0.7,5.7 0.7,-2.4 0.7,-7.5 0.7,13.8 0.7,-11.8 0.7,-0.8 0.7,11.7 0.7,-9.9 0.7,4.7 0.7,21.5 0.7,-13.9 0.7,-11.4 0.7,0.2 0.7,13 0.7,-5 0.7,-25.2 0.7,28.3 0.7,-27.5 0.7,33.4 0.7,0.1 0.7,3.4 0.7,-24.3 0.7,16.3 0.7,11.7 0.7,-12.6 0.7,-4.8 0.7,12.8 0.7,-22.7 0.7,11.5 0.7,4.8 0.7,-7.1 0.7,4.7 0.7,7.7 0.7,-0.4 0.7,-6.9 0.7,-9 0.7,-2.3 0.7,5.6 0.7,3.7 0.7,-1.5 0.7,30.3 0.7,-24.7 0.7,1 0.7,6.9 0.7,-15.7 0.7,6.5 0.7,10.3 0.7,-10.4 0.7,14.8 0.7,-13.3 0.7,7.7 0.7,10.7 0.7,-2.5 0.7,2.8 0.7,-9.8 0.7,5.4 0.7,-9.1 0.7,-5.2 0.7,17.6 0.7,1.5 0.7,-6.9 0.7,-4 0.7,-7.3 0.7,4.4 0.7,2.5 0.7,5.3 0.7,4.9 0.7,-6.3 0.7,3 0.7,-13.8 0.7,-0.7 0.7,21.4 0.7,-27.1 0.7,2.1 0.7,21.5 0.7,6.9 0.7,-6.1 0.7,-9.9 0.7,9.1 0.7,-22 0.7,18 0.7,-6.6 0.7,15.7 0.7,-17.3 0.7,25.3 0.7,3.2 0.7,-3.7 0.7,-7.7 0.7,-14.1 0.7,-8.7 0.7,23.2 0.7,-4.7 0.7,-8.2 0.7,3.5 0.7,-4.7 0.7,10.2 0.7,-3.7 0.7,11.4 0.7,-4.5 0.7,-8.7 0.7,14.6 0.7,-30.3 0.7,7.3 0.7,7.1 0.7,9.6 0.7,11.4 0.7,-8.9 0.7,-4 0.7,-2.3 0.7,-14.4 0.7,9.9 0.7,14 0.7,-6 0.7,-7.4 0.7,4.7 0.7,-5 0.7,-10.3 0.7,14.2 0.7,-3.3 0.7,-4.9 0.7,8.8 0.7,-0.9 0.7,4.1 0.7,-1 0.7,1.4 0.7,-3.2 0.7,-4.1 0.7,5.4 0.7,0.9 0.7,8.2 0.7,-7.4 0.7,-6 0.7,12.6 0.7,-6.9 0.7,7.2 0.7,11.2 0.7,-11 0.7,-17 0.7,15.1 0.7,-0.1 0.7,-17.8 0.7,9.9 0.7,5.8 0.7,-5.7 0.7,-2.9 0.7,6.8 0.7,-2.6 0.7,-1 0.7,8.7 0.7,-9.5 0.7,3.6 0.7,12.4 0.7,-3 0.7,6 0.7,-14.5 0.7,4 0.7,-0.2 0.7,-12.3 0.7,4.4 0.7,15.6 0.7,-4.1 0.7,8.9 0.7,-7.7 0.7,-5.8 0.7,-3.5 0.7,5 0.7,5.8 0.7,-2.6 0.7,7.3 0.7,-6.9 0.7,-9.1 0.7,10.1 0.7,1.8 0.7,-6.9 0.7,-6.5 0.7,-11.6 0.7,24 0.7,-11.8 0.7,12.7 0.7,1.1 0.7,-21 0.7,6.1 0.7,21.8 0.7,-23 0.7,9.3 0.7,8.7 0.7,-2 0.7,-14.1 0.7,15.4 0.7,2.1 0.7,-14 0.7,11.3 0.7,-10.2 0.7,-5.7 0.7,20.9 0.7,-0.3 0.7,-17 0.7,-13.9 0.7,30.3 0.7,-13.3 0.7,8.2 0.7,-13.8 0.7,15.1 0.7,5 0.7,-7.7 0.7,5.6 0.7,-3.9 0.7,5.6 0.7,-12.4 0.7,-0.1 0.7,-11.3 0.7,12.6 0.7,1.3 0.7,-6.8 0.7,18 0.7,-10.5 0.7,27 0.7,-6.7 0.7,-24.4 0.7,6.8 0.7,6.3 0.7,2.9 0.7,3.7 0.7,-16 0.7,12.1 0.7,-8.5 0.7,8.3 0.7,-8.7 0.7,0.8 0.7,3.2 0.7,-8 0.7,5.5 0.7,3.3 0.7,-18.2 0.7,10.9 0.7,0.5 0.7,12.3 0.7,-7 0.7,-1.2 0.7,-5.9 0.7,9.8 0.7,-6 0.7,10.7 0.7,-10.2 0.7,2 0.7,5.4 0.7,-1 0.7,-16.6 0.7,14.6 0.7,-2 0.7,-14.7 0.7,5.3 0.7,18 0.7,-4.9 0.7,-6.6 0.7,11.7 0.7,-21.9 0.7,25.8 0.7,-16 0.7,17.2 0.7,-29.3 0.7,12.9 0.7,6.8 0.7,-4.5 0.7,10.7 0.7,-1.7 0.7,-9.3 0.7,1.4 0.7,1.6 0.7,14.4 0.7,-14.4 0.7,8.9 0.7,-8.7 0.7,-6.5 0.7,-6.6 0.7,15.6 0.7,2.2 0.7,-1.9 0.7,8.7 0.7,-4.5 0.7,9.3 0.7,-9.9 0.7,-12.5 0.7,16.9 0.7,-17.9 0.7,7.7 0.7,-9.4 0.7,18.4 0.7,4.3 0.7,-22.9 0.7,4 0.7,1.6 0.7,-9.7 0.7,14.7 0.7,-1.1 0.7,-9.2 0.7,-7.3 0.7,6.6 0.7,14.5 0.7,0.1 0.7,-2 0.7,2 0.7,4 0.7,-6.3 0.7,2.6 0.7,10.5 0.7,-16.9 0.7,5.2 0.7,10.5 0.7,-20.1 0.7,15.1 0.7,-26.7 0.7,8.4 0.7,0.2 0.7,11.7 0.7,1.7 0.7,-18.9 0.7,34.6 0.7,2.3 0.7,-6.8 0.7,-11.9 0.7,5.8 0.7,-9.6 0.7,1.3 0.7,-1.6 0.7,9 0.7,-6.7 0.7,0.7 0.7,18.7 0.7,-17.4 0.7,8 0.7,-1.6 0.7,-6.9 0.7,0.4 0.7,13.1 0.7,-13.7 0.7,-0.6 0.7,1.7 0.7,0.5 0.7,15.5 0.7,-26.6 0.7,8.6 0.7,0.9 0.7,8.5 0.7,0.9 0.7,-3.3 0.7,4.7 0.7,10.7 0.7,-8.1 0.7,-19.5 0.7,25.9 0.7,-14.2 0.7,-8 0.7,10 0.7,-10 0.7,5 0.7,-4.2 0.7,3.5 0.7,-16.5 0.7,31.2 0.7,-10 0.7,6.5 0.7,-3.6 0.7,-4 0.7,12 0.7,-0.2 0.7,-13.8 0.7,9.8 0.7,-9.6 0.7,-1 0.7,16.3 0.7,-11.5 0.7,-1.6 0.7,-15.7 0.7,9.8 0.7,7.9 0.7,5 0.7,-0.2 0.7,-10 0.7,8.6 0.7,-14.2 0.7,14.1 0.7,11.8 0.7,-17.2 0.7,-6.5 0.7,17.2 0.7,0.1 0.7,-8.6 0.7,4.5 0.7,-7.1 0.7,8.7 0.7,-11.7 0.7,-0.4 0.7,-1.2 0.7,11.3 0.7,-1.7 0.7,3.7 0.7,-5.9 0.7,-4.8 0.7,9.3 0.7,-16.8 0.7,-1.5 0.7,22.6 0.7,-3.3 0.7,4.9 0.7,-11.3 0.7,0.1 0.7,-1.9 0.7,-0.1 0.7,5.9 0.7,6.5 0.7,-21.5 0.7,26.5 0.7,-9 0.7,-20.6 0.7,22.3 0.7,-9.2 0.7,4.7 0.7,-6.7 0.7,1.7 0.7,21.5 0.7,-8.3 0.7,-11.4 0.7,-3.2 0.7,3.1 0.7,-1.9 0.7,10.3 0.7,4.4 0.7,-22.1 0.7,16.6 0.7,-4.2 0.7,-1.6 0.7,-2.1 0.7,-1.7 0.7,-0.7 0.7,6.3 0.7,-13.4 0.7,10 0.7,11.1 0.7,-17.3 0.7,21.1 0.7,1 0.7,-13.8 0.7,8.2 0.7,-14.1 0.7,6.6 0.7,-1.3 0.7,-3.1 0.7,14.9 0.7,-4.8 0.7,5 0.7,-20.6 0.7,11.9 0.7,-2.5 0.7,-9 0.7,21.6 0.7,-8.1 0.7,2.5 0.7,9.5 0.7,-16.8 0.7,17.6 0.7,-28.1 0.7,26.7 0.7,-4.8 0.7,-16.2 0.7,-0.8 0.7,31.8 0.7,-26 0.7,14.9 0.7,-6.5 0.7,-2.2 0.7,-2.2 0.7,-9 0.7,0.8 0.7,2.9 0.7,14.5 0.7,-23.5 0.7,7.1 0.7,12.4 0.7,-4.3 0.7,-3 0.7,-4.1 0.7,-6.2 0.7,8.2 0.7,-3.2 0.7,5.5 0.7,-3.6 0.7,-4.7 0.7,23.9 0.7,-28.3 0.7,23.9 0.7,-10 0.7,-1.2 0.7,-5.3 0.7,2.4 0.7,4.3 0.7,-13.5 0.7,25.8 0.7,-7.1 0.7,13.3 0.7,-14.8 0.7,9.7 0.7,-9.2 0.7,6.6 0.7,-11.6 0.7,19.9 0.7,-32 0.7,9.1 0.7,3.3 0.7,3.6 0.7,15.2 0.7,-10 0.7,14.7 0.7,-26.1 0.7,2.4 0.7,2.2 0.7,14.9 0.7,-18.6 0.7,7.7 0.7,-9.7 0.7,11.4 0.7,-8.6 0.7,32.1 0.7,-18.4 0.7,-10.8 0.7,11.3 0.7,6 0.7,-18.1 0.7,9.5 0.7,-16.5 0.7,12.4 0.7,10.4 0.7,-28.1 0.7,16.6 0.7,-14.6 0.7,20.5 0.7,-2 0.7,-0.6 0.7,-6.4 0.7,4 0.7,-5.1 0.7,3.8 0.7,-3.7 0.7,10.9 0.7,-10.9 0.7,-15.6 0.7,14.7 0.7,14 0.7,4.8 0.7,-16.8 0.7,5.3 0.7,10.3 0.7,-24.1 0.7,16.7 0.7,-17.4 0.7,17.5 0.7,-5.1 0.7,0.9 0.7,-1 0.7,18.2 0.7,-38.3 0.7,10.3 0.7,13.9 0.7,0.2 0.7,-8.2 0.7,9.1 0.7,-16 0.7,14.1 0.7,8.8 0.7,-16.9 0.7,9.1 0.7,6 0.7,-12.3 0.7,15.1 0.7,-17.6 0.7,-6.7 0.7,4.8 0.7,9.9 0.7,7.9 0.7,-11.7 0.7,2.7 0.7,0.3 0.7,5.5 0.7,-13.5 0.7,7.3 0.7,-6.7 0.7,11.7 0.7,3.2 0.7,-26.1 0.7,20.9 0.7,-3.4 0.7,7.8 0.7,-12.2 0.7,6.4 0.7,-10.4 0.7,16.9 0.7,12.7 0.7,-17.1 0.7,10.9 0.7,0.1 0.7,-15.1 0.7,3 0.7,0.6 0.7,7.5 0.7,-14.4 0.7,11.9 0.7,-13.3 0.7,26.9 0.7,-19.9 0.7,-14.1 0.7,11.1 0.7,7.4 0.7,8.3 0.7,-10.2 0.7,16.9 0.7,-29.7 0.7,4.8 0.7,-0.3 0.7,6.5 0.7,-4 0.7,2.2 0.7,-5.1 0.7,0.7 0.7,22.4 0.7,5.2 0.7,-22.5 0.7,2.2 0.7,-14.8 0.7,10.7 0.7,9.7 0.7,-2.8 0.7,-5.2 0.7,17.1 0.7,9.6 0.7,-26.5 0.7,-7.1 0.7,13.9 0.7,2.2 0.7,-14.6 0.7,6.8 0.7,9.7 0.7,-5.9 0.7,-10.5 0.7,14.7 0.7,-14.4 0.7,19.9 0.7,-13 0.7,-15.8 0.7,8.6 0.7,14 0.7,8.6 0.7,-12.2 0.7,-5.5 0.7,21.8 0.7,-30.5 0.7,19.9 0.7,-21.7 0.7,-1.8 0.7,-4 0.7,25.7 0.7,-4.8 0.7,-3.8 0.7,5.3 0.7,-9.6 0.7,18.8 0.7,-22.3 0.7,14.1 0.7,-15.6 0.7,10.4 0.7,-9.6 0.7,16 0.7,-19.5 0.7,20 0.7,2.6 0.7,-4 0.7,5.9 0.7,2.3 0.7,-28.4 0.7,11.4 0.7,0.1 0.7,3.9 0.7,-1.7 0.7,-0.2 0.7,16.5 0.7,-13.9 0.7,-4.3 0.7,16.2 0.7,-22 0.7,8.9 0.7,5.2 0.7,0.9 0.7,-16.1 0.7,-0.9 0.7,1.3 0.7,3.2 0.7,16.9 0.7,-10.7 0.7,3.7 0.7,-10 0.7,2.6 0.7,9.9 0.7,-2.5 0.7,-5.3 0.7,10.6 0.7,-13.1 0.7,0.3 0.7,1 0.7,-1.4 0.7,11.8 0.7,-19.1 0.7,15.9 0.7,-19.1 0.7,1 0.7,14.5 0.7,2.5 0.7,-3.7 0.7,-15.8 0.7,36.7 0.7,-10.5 0.7,-16.2 0.7,18.1 0.7,-16 0.7,5.4 0.7,-6.9 0.7,-2 0.7,-4.2 0.7,10.3 0.7,8 0.7,-8.6 0.7,8.2 0.7,2 0.7,5.5 0.7,-4 0.7,-8.2 0.7,1.9 0.7,-3.3 0.7,-5.9 0.7,-3 0.7,24.3 0.7,-21.6 0.7,12.1 0.7,7.6 0.7,-10.5 0.7,-6.4 0.7,7.9 0.7,9.7 0.7,-20.8 0.7,0.5 0.7,3.2 0.7,10.7 0.7,0.3 0.7,-11.4 0.7,5.4 0.7,6.8 0.7,-17.3 0.7,8.8 0.7,4.6 0.7,2.2 0.7,0 0.7,-17.4 0.7,11.2 0.7,-4.2 0.7,6.7 0.7,1.7 0.7,-4.4 0.7,2.8 0.7,16.2 0.7,-2.8 0.7,-7.4 0.7,-7.4 0.7,16.5 0.7,-22.2 0.7,-9.4 0.7,13.1 0.7,-6.2 0.7,-11.5 0.7,10.3 0.7,5.6 0.7,-0.4 0.7,6.9 0.7,2 0.7,0 0.7,-14.6 0.7,15.6 0.7,7.3 0.7,-15.3 0.7,0.1 0.7,5.8 0.7,-11.9 0.7,8.3 0.7,3.2 0.7,-24.7 0.7,6.5 0.7,9.8 0.7,1.6 0.7,2.7 0.7,-3.8 0.7,-3.3 0.7,9.5 0.7,2.4 0.7,-6.3 0.7,-1 0.7,3.8 0.7,-5.1 0.7,8.6 0.7,-8.5 0.7,-11.6 0.7,31.2 0.7,-11.8 0.7,4.2 0.7,-8.9 0.7,0.3 0.7,1.9 0.7,0.5 0.7,-2.2 0.7,-5.9 0.7,12.1 0.7,-4.5 0.7,15.7 0.7,-22.7 0.7,3.5 0.7,2.7 0.7,-15.5 0.7,8.8 0.7,-9.2 0.7,11 0.7,6.6 0.7,-0.1 0.7,7.6 0.7,-6.8 0.7,6.5 0.7,-3.9 0.7,-22.7 0.7,19.6 0.7,-13.9 0.7,18.1 0.7,5.2 0.7,0.7 0.7,-8.4 0.7,-2.6 0.7,-11.5 0.7,17.5 0.7,-4.3 0.7,-4.1 0.7,-8.6 0.7,-0.4 0.7,7.3 0.7,10.8 0.7,-7 0.7,-7 0.7,13.8 0.7,2.4 0.7,-6.9 0.7,-4 0.7,4.3 0.7,-3.4 0.7,5.8 0.7,-13.7 0.7,19.3 0.7,-9.8 0.7,18.8 0.7,-36.5 0.7,10.2 0.7,-16.3 0.7,23.8 0.7,3 0.7,-8.2 0.7,6.4 0.7,0.2 0.7,-8.2 0.7,6.2 0.7,-9.3 0.7,5.9 0.7,-1.1 0.7,-1 0.7,-3.1 0.7,11.7 0.7,-3.1 0.7,15.1 0.7,-22.8 0.7,7.1 0.7,1.6 0.7,3.8 0.7,-2.4 0.7,17.2 0.7,-34.8 0.7,2 0.7,18.2 0.7,-11.6 0.7,8.2 0.7,-3.7 0.7,19.6 0.7,-25.3 0.7,21.5 0.7,-9.6 0.7,-2.1 0.7,-0.6 0.7,-9.4 0.7,8.8 0.7,0.8 0.7,-4 0.7,-7.4 0.7,5.9 0.7,2.5 0.7,0.5 0.7,-10.3 0.7,13 0.7,8.2 0.7,-10.7 0.7,13.2 0.7,-9.6 0.7,-6 0.7,-4.6 0.7,-16.4 0.7,18.8 0.7,4.4 0.7,-7.3 0.7,6.6 0.7,16.7 0.7,-30.5 0.7,18.3 0.7,-1 0.7,1.9 0.7,-0.4 0.7,-2.8 0.7,-2.7 0.7,1 0.7,-5.6 0.7,1.7 0.7,6.5 0.7,-0.1 0.7,0.8 0.7,-7.3 0.7,-4 0.7,27.4 0.7,-13.3 0.7,11.5 0.7,-13.6 0.7,4.2 0.7,2.2 0.7,3.1 0.7,-11.8 0.7,4.9 0.7,2.6 0.7,-19.8 0.7,12.9 0.7,3 0.7,-10.5 0.7,2.5 0.7,14.3 0.7,-5.7 0.7,-4.1 0.7,-3.9 0.7,5.9 0.7,26.2 0.7,-12 0.7,-23.8 0.7,-5.4 0.7,22.4 0.7,-4.6 0.7,-11.9 0.7,19.2 0.7,-0.9 0.7,-16.8 0.7,0.3 0.7,9.4 0.7,-3.6 0.7,4.3 0.7,4.9 0.7,-13.9 0.7,7.3 0.7,-13.1 0.7,16 0.7,18.1 0.7,-46.2 0.7,12.9 0.7,12.7 0.7,-16.1 0.7,13.6 0.7,4.5 0.7,-3.8 0.7,4.8 0.7,-6.5 0.7,9.7 0.7,-11.4 0.7,-1.5 0.7,-3.7 0.7,-7 0.7,13.6 0.7,1.3 0.7,-1.9 0.7,-21.2 0.7,19.4 0.7,11.5 0.7,-6.4 0.7,8.4 0.7,-6.4 0.7,-7.1 0.7,21.9 0.7,-25.9 0.7,-6.1 0.7,8.5 0.7,7.2 0.7,4.5 0.7,4.5 0.7,-15.5 0.7,16.3 0.7,-8.6 0.7,-1.4 0.7,-5.5 0.7,18.1 0.7,-3.6 0.7,-17.5 0.7,17.1 0.7,-7.8 0.7,-4.3 0.7,11.8 0.7,-14.8 0.7,6.1 0.7,9.5 0.7,-8.7 0.7,-12.9 0.7,5.9 0.7,7.4 0.7,-7.8 0.7,6 0.7,5.6 0.7,-10.4 0.7,-5.6 0.7,13.1 0.7,11 0.7,-14.8 0.7,4.7 0.7,1 0.7,-1.7 0.7,-13 0.7,14.1 0.7,0.8 0.7,-11.1 0.7,10 0.7,-10.1 0.7,-2.3 0.7,1.8 0.7,16.2 0.7,-1.6 0.7,-6.1 0.7,12.3 0.7,-19.8 0.7,13.6 0.7,-11.1 0.7,-13.5 0.7,24 0.7,-4.4 0.7,-14.2 0.7,8.6 0.7,7.2 0.7,-7 0.7,9.4 0.7,-19.1 0.7,30.7 0.7,-19.1 0.7,-5 0.7,1.7 0.7,-1.1 0.7,-7.8 0.7,3.9 0.7,10.9 0.7,5.1 0.7,-16.5 0.7,13.1 0.7,-18.8 0.7,34 0.7,-13.2 0.7,1.2 0.7,-3.4 0.7,1.1 0.7,-5.8 0.7,-4.6 0.7,20.1 0.7,-1.9 0.7,-2.7 0.7,-17.6 0.7,8.6 0.7,5.8 0.7,-4.9 0.7,-15.4 0.7,14.3 0.7,-10.8 0.7,1.8 0.7,13.8 0.7,-21.9 0.7,26.8 0.7,-18.1 0.7,4.6 0.7,2.6 0.7,-1.9 0.7,1.2 0.7,-4.2 0.7,7.5 0.7,-10.1 0.7,8.2 0.7,0.8 0.7,-2.1 0.7,12.1 0.7,-11.4 0.7,-3.1 0.7,22.4 0.7,-5.8 0.7,-7.1 0.7,-7.1 0.7,23.7 0.7,-18.6 0.7,-3.9 0.7,0 0.7,8.9 0.7,-5.2 0.7,-20.9 0.7,0.7 0.7,24 0.7,-5.7 0.7,6.4 0.7,-5 0.7,6.2 0.7,-3.8 0.7,-4.5 0.7,-1.2 0.7,-14.2 0.7,2.9 0.7,29.8 0.7,-24.3 0.7,1.6 0.7,22.6 0.7,-14.7 0.7,-18.7 0.7,-4.7 0.7,6.9 0.7,10.7 0.7,10.4 0.7,-3.3 0.7,-8 0.7,11.3 0.7,-18.6 0.7,8.7 0.7,12.3 0.7,13.6 0.7,-28.5 0.7,-3" fill="none" stroke="#000000" stroke-width="2.5" stroke-linejoin="round" stroke-linecap="round"/>
<path d="M588.8,345.0 L590.3,318.0 L591.8,345.0" fill="none" stroke="#000000" stroke-width="3.0" stroke-linejoin="round" stroke-linecap="round"/>
<path d="M567.5,412.0 L569.0,398.0 L570.5,412.0" fill="none" stroke="#000000" stroke-width="3.0" stroke-linejoin="round" stroke-linecap="round"/>
<path d="M301.0 664.7l1,0.4 1,0 1,-0.4 1,-0.3 1,0 1,0.4 1,0.5 1,0.3 1,-0.6 1,-1.3 1,-1.3 1,-0.8 1,-0.5 1,-1.2 1,-1.5 1,-1 1,0 1,0.3 1,-0.1 1,-1.2 1,-2.7 1,-2.6 1,-1.5 1,-0.8 1,0.3 1,0.8 1,-0.6 1,-2 1,-1.9 1,-1.6 1,-1 1,0 1,0.1 1,-0.6 1,-1.5 1,-1.4 1,-1.2 1,-1.3 1,-1.4 1,-1.5 1,-1.9 1,-2.1 1,-1.7 1,-1.6 1,-2.1 1,-3.1 1,-5 1,-5.6 1,-4.1 1,-2.6 1,-1.8 1,-2.3 1,-3.4 1,-2.8 1,-1.8 1,-1.3 1,-1.6 1,-2.2 1,-2.2 1,-2.2 1,-1.9 1,-0.5 1,1.6 1,3.4 1,3.7 1,2.4 1,1" fill="none" stroke="#ff0000" stroke-width="15.0" stroke-linejoin="round" stroke-linecap="round"/>
<path d="M368.0 592.3l1,0.7 1,1.6 1,2.7 1,3.5 1,2.2 1,0.8 1,2.2 1,3.6 1,2.9 1,2.5 1,2.8 1,3.1 1,2.5 1,1.4 1,1.1 1,1.2 1,1.9 1,1.6 1,0 1,-0.8 1,-0.1 1,1.1 1,1.5 1,1.2 1,1.2 1,1.1 1,0.9 1,0.4 1,0.3 1,0.2 1,0.6 1,1.2 1,0.9 1,0.5 1,0.6 1,0.5 1,-0.5 1,-1.4 1,-1.9 1,-1.2 1,-0.1 1,0.3 1,0.5 1,-0.4 1,-1.3 1,-0.2 1,0.8 1,-0.1 1,-1.8 1,-2.3 1,-1 1,0.5 1,0.8 1,0.4 1,-0.5 1,-0.8 1,-0.7 1,-0.7 1,-0.7 1,-0.5 1,-0.3 1,-0.3 1,-0.8 1,-1 1,0 1,0.9 1,0.1 1,-0.6 1,-0.3 1,0.5 1,0.5 1,-0.1 1,-0.4 1,-0.6 1,-0.7 1,-0.3 1,0.1 1,0.5 1,-0.4 1,-0.9 1,0.2 1,1.2 1,-0.1 1,-1.4 1,-1.3 1,-0.2 1,0.2 1,-0.5 1,-1 1,-0.5 1,0.8 1,1.4 1,0.5 1,-0.6 1,-0.6 1,-0.6 1,-1.2 1,-0.6 1,0.4 1,0.1 1,-0.4 1,-0.8 1,-1.9 1,-1.7 1,-0.2 1,0.8 1,0 1,-1.3 1,-1.4 1,-1.2 1,-1.4 1,-1.3 1,-0.2 1,0.8 1,0.9 1,-0.9 1,-3 1,-2.5 1,-1.1 1,-0.3 1,0.2 1,0.3 1,-0.8 1,-2.2 1,-1.8 1,0.4 1,1.4 1,-0.3 1,-2.3 1,-1.1 1,1 1,1.2 1,-0.2 1,-1.1 1,-1.2 1,-1 1,-0.6 1,-0.6 1,-1.9 1,-2.4 1,-1.6 1,-0.4 1,0.4 1,0.2 1,-0.1 1,0.5 1,-0.4 1,-2.5 1,-3.1 1,-2.2 1,-1.4 1,-1.4 1,-0.8 1,0 1,-0.1" fill="none" stroke="#ff0000" stroke-width="15.5" stroke-linejoin="round" stroke-linecap="round"/>
<path d="M523.0 578.2l1,-0.5 1,-0.3 1,0.3 1,-0.5 1,-1.7 1,-1.5 1,-0.8 1,-0.5 1,-0.7 1,-1.8 1,-2.2 1,-0.5 1,0.3 1,-0.9 1,-1.9 1,-1.8 1,-1.6 1,-1.6 1,-1.2 1,-0.9 1,-0.6 1,-0.5 1,-0.5 1,-0.1 1,0.1 1,0.1 1,-0.1 1,-0.5 1,-1.1 1,-1.4 1,-1.5 1,-1.3 1,-1.2 1,-0.3 1,0 1,-0.6 1,-1.1 1,-0.8 1,-0.7 1,-1.2 1,-1.2 1,-1.1 1,-1.7 1,-2.7 1,-3 1,-2 1,-0.7 1,-0.1 1,-0.1 1,-1.6 1,-3 1,-1.3 1,0.5 1,0.1 1,-1 1,-1.4 1,-0.6 1,-0.1 1,-0.4 1,-1.7 1,-1.9 1,-0.8 1,-0.1 1,-0.4 1,-0.4 1,-0.2 1,0.1 1,-0.3 1,-1.7 1,-2.4 1,-1.6 1,-0.6 1,-1 1,-2.3 1,-3.5 1,-4.6 1,-4.4 1,-3.4" fill="none" stroke="#ff0000" stroke-width="16.0" stroke-linejoin="round" stroke-linecap="round"/>
<path d="M601.0 492.0l1,-3.2" fill="none" stroke="#ff0000" stroke-width="15.5" stroke-linejoin="round" stroke-linecap="round"/>
<path d="M602.0 488.8l1,-3.2" fill="none" stroke="#ff0000" stroke-width="14.5" stroke-linejoin="round" stroke-linecap="round"/>
<path d="M603.0 485.6l1,-2.1" fill="none" stroke="#ff0000" stroke-width="14.0" stroke-linejoin="round" stroke-linecap="round"/>
<path d="M604.0 483.5l1,-2.3" fill="none" stroke="#ff0000" stroke-width="13.5" stroke-linejoin="round" stroke-linecap="round"/>
<path d="M605.0 481.2l1,-3.3" fill="none" stroke="#ff0000" stroke-width="12.5" stroke-linejoin="round" stroke-linecap="round"/>
<path d="M606.0 477.9l1,-2.5" fill="none" stroke="#ff0000" stroke-width="12.0" stroke-linejoin="round" stroke-linecap="round"/>
<path d="M607.0 475.4l1,-1.3" fill="none" stroke="#ff0000" stroke-width="11.5" stroke-linejoin="round" stroke-linecap="round"/>
<path d="M608.0 474.1l1,-1.5" fill="none" stroke="#ff0000" stroke-width="10.5" stroke-linejoin="round" stroke-linecap="round"/>
<path d="M609.0 472.6l1,-0.7" fill="none" stroke="#ff0000" stroke-width="10.0" stroke-linejoin="round" stroke-linecap="round"/>
<path d="M610.0 471.9l1,1.4" fill="none" stroke="#ff0000" stroke-width="10.5" stroke-linejoin="round" stroke-linecap="round"/>
<path d="M611.0 473.3l1,2.9" fill="none" stroke="#ff0000" stroke-width="11.0" stroke-linejoin="round" stroke-linecap="round"/>
<path d="M612.0 476.2l1,3.3" fill="none" stroke="#ff0000" stroke-width="11.5" stroke-linejoin="round" stroke-linecap="round"/>
<path d="M613.0 479.5l1,3" fill="none" stroke="#ff0000" stroke-width="12.0" stroke-linejoin="round" stroke-linecap="round"/>
<path d="M614.0 482.5l1,2.5 1,2.6" fill="none" stroke="#ff0000" stroke-width="12.5" stroke-linejoin="round" stroke-linecap="round"/>
<path d="M616.0 487.6l1,2.4" fill="none" stroke="#ff0000" stroke-width="13.0" stroke-linejoin="round" stroke-linecap="round"/>
<path d="M617.0 490.0l1,1.6" fill="none" stroke="#ff0000" stroke-width="13.5" stroke-linejoin="round" stroke-linecap="round"/>
<path d="M618.0 491.6l1,2.3" fill="none" stroke="#ff0000" stroke-width="14.0" stroke-linejoin="round" stroke-linecap="round"/>
<path d="M619.0 493.9l1,2.6" fill="none" stroke="#ff0000" stroke-width="14.5" stroke-linejoin="round" stroke-linecap="round"/>
<path d="M620.0 496.5l1,1.9 1,2 1,3 1,3.9 1,5.1 1,6 1,5.8 1,4.7 1,4 1,3.3 1,2.4 1,2.4 1,2.8 1,2.5 1,1.5 1,2 1,3.2 1,2.8 1,0.4 1,-0.5 1,0.5 1,0.9 1,0.5 1,0.2 1,0.1 1,-0.2 1,-0.1 1,0.1 1,0.7 1,0.6 1,-0.2 1,-0.5 1,-0.5 1,0.1 1,0.9 1,0.7 1,0 1,-0.5 1,-0.4 1,0.7 1,1.1 1,-0.1 1,-0.9 1,-0.1 1,0.8" fill="none" stroke="#ff0000" stroke-width="15.0" stroke-linejoin="round" stroke-linecap="round"/>
<path d="M665.0 560.1l1,0.7 1,0.7 1,1.1 1,1.9 1,2.1 1,0.4 1,-1.5 1,-1.4 1,0.2 1,0.8 1,0.7 1,0.1 1,-0.4 1,0.4 1,0.8 1,0.8 1,0.5 1,-0.3 1,-0.4 1,-0.7 1,-1 1,0.3 1,2 1,2.3 1,0.9 1,-0.9 1,-2.2 1,-1.8 1,0 1,1.1 1,1.5 1,1 1,-0.2 1,-1.8 1,-2.4 1,-2.2 1,-1.3 1,-0.5 1,-0.4 1,-0.9 1,-0.9 1,-0.4 1,0 1,-0.1 1,-0.5 1,-0.6 1,-0.2 1,0.2 1,0.1 1,0 1,-1.6 1,-2.8 1,-1.2 1,0.8 1,0.6 1,-0.6 1,-1.1 1,-0.9 1,-0.8 1,-1.2 1,-1.8 1,-1.8 1,0.5 1,1.8 1,0.6 1,0.1 1,0.7 1,-0.2 1,-1.4 1,-1.7 1,-1.2 1,-1.4 1,-1.2 1,0 1,0.7 1,0.4 1,-0.9 1,-2 1,-1.3 1,-0.1 1,-0.3 1,-0.7 1,-0.4 1,0.1 1,0 1,-0.8 1,-2 1,-2.3" fill="none" stroke="#ff0000" stroke-width="15.5" stroke-linejoin="round" stroke-linecap="round"/>
<path d="M753.0 532.3l1,-0.9 1,0.2 1,-0.2 1,-1.1 1,-1.5 1,-1.6 1,-1.4 1,-0.7 1,0.6 1,1.6 1,1.2 1,-0.5 1,-1.3 1,-0.8 1,-1 1,-1.2 1,-0.4 1,0.6 1,0.2 1,-1.8 1,-1.4 1,0.9 1,1.1 1,0.2 1,-0.1 1,-1.1 1,-1.8 1,-1.7 1,-1.6 1,-1.3 1,-0.7 1,0.5 1,1.2 1,0.7 1,0.3 1,-0.1 1,-0.4 1,-0.3 1,-0.1 1,-0.2 1,-0.2 1,-0.7 1,-1.2 1,-0.5 1,0.9 1,2 1,1.8 1,0.4 1,-0.6 1,-0.6 1,-0.4 1,-0.2 1,-0.5 1,-0.5 1,0 1,0.7 1,0.2 1,-0.8 1,-0.3 1,1 1,1.6 1,0.1 1,-2 1,-1.3 1,0.9 1,0.7 1,-0.5 1,-0.1 1,-0.1 1,0.4 1,1.5 1,1.2 1,-0.4 1,-0.9 1,-0.2 1,0.7 1,1 1,1 1,0.7 1,-0.5 1,-0.2 1,1 1,0.4 1,-0.5 1,-0.7 1,-0.4 1,-0.2 1,0.4" fill="none" stroke="#ff0000" stroke-width="16.0" stroke-linejoin="round" stroke-linecap="round"/>
<path d="M841.0 520.5l1,2.1 1,3 1,1.1 1,-0.6 1,-0.2 1,1 1,0.8 1,0.5 1,0 1,-0.2 1,-0.1 1,0.3 1,0.5 1,0 1,0.3 1,1.6 1,1.9 1,1.4 1,0.5 1,0.2 1,-0.5 1,-1.7 1,-2.1 1,-0.9 1,1.2 1,2.5 1,2 1,1 1,0.2 1,-0.6 1,-1.1 1,-0.3 1,1.4 1,2.4 1,0.9 1,-0.5 1,0.6 1,1.6 1,0.9 1,-0.2 1,-0.2 1,-0.4 1,-1 1,0 1,1.2 1,2.1 1,1.9 1,0.2 1,-1 1,-0.3 1,0.7 1,0.2 1,-0.7 1,-0.7 1,0.5 1,1.9 1,2.3 1,1.4 1,0.3 1,-0.4 1,-0.4 1,0.6 1,1.2 1,0.4 1,0.1 1,1.1 1,1.2 1,0.3 1,-0.2 1,0.3 1,1.4 1,1.1 1,-0.4 1,-0.7 1,-0.2 1,0.4 1,1 1,1.5 1,1.4 1,1.4 1,1.4 1,0.3 1,-1.4 1,-1.1 1,0 1,0.2 1,-0.1 1,0 1,0" fill="none" stroke="#ff0000" stroke-width="16.5" stroke-linejoin="round" stroke-linecap="round"/>
<path d="M930.0 560.2l1,-1 1,-0.7 1,0.9 1,1.7 1,0.5 1,-0.7 1,-0.2 1,0.5 1,0.1 1,0.4 1,0.5 1,0 1,-0.7 1,-0.4 1,0.3 1,0.4 1,0.9 1,1.1 1,-0.7 1,-1.7 1,-0.9 1,-0.4 1,-0.5 1,0.4 1,1.6 1,1 1,-0.3 1,-0.6 1,-0.3 1,-0.5 1,-0.9 1,-0.4 1,0.5 1,0.5 1,-0.6 1,-0.8 1,0.5 1,0.7 1,-0.5 1,-0.5 1,0.3 1,0.4 1,-0.7 1,-1.4 1,-0.5 1,0.9 1,0.9 1,-0.1 1,-0.4 1,0 1,-0.8 1,-1 1,-0.4 1,-0.3 1,-0.3 1,0 1,-0.2 1,-0.5 1,-0.1 1,0.8 1,1.3 1,0.9 1,0.3 1,-0.3 1,-0.2 1,-0.7 1,-1.4 1,-1.5 1,-1.2 1,-0.8 1,0.8 1,1.4 1,1.2 1,0.8 1,-0.1 1,-0.8 1,-0.5 1,-0.4 1,-0.5 1,0.1 1,1.1 1,1 1,-0.3 1,-1.9 1,-1 1,1 1,1.4 1,0.8" fill="none" stroke="#ff0000" stroke-width="17.0" stroke-linejoin="round" stroke-linecap="round"/>
<path d="M1018.0 556.5l1,0.6 1,-0.7 1,-2 1,-1.6 1,0.1 1,1.2 1,0.8 1,-0.8 1,-1.7 1,-1.5 1,-0.9 1,-0.5 1,0.3 1,1 1,1.9 1,1.6 1,0.6 1,-0.4 1,-0.2 1,0.5 1,0.7 1,0.1 1,-0.1 1,0 1,0 1,0.3 1,0.5 1,0.4 1,0 1,0.4 1,1.2 1,1.5 1,0.2 1,-1.1 1,-0.8 1,0.4 1,1.8 1,2.3 1,1.3 1,0.1 1,0.6 1,1.2 1,1.9 1,2 1,1.4 1,0.9 1,0.8 1,1.4 1,1.7 1,0.9 1,-0.1 1,0.2 1,0.8 1,1.5 1,2.7 1,3.3 1,2.1 1,-0.5 1,-1.6 1,-0.4 1,1 1,2.1 1,2 1,0.8 1,-0.5 1,-1.6 1,-1.5 1,0.7 1,2.7 1,2.9 1,1.3 1,0.1 1,0.5 1,1 1,0.6 1,-0.3 1,0.2 1,1.1 1,0.6 1,-0.6 1,-0.9 1,-0.9 1,-0.6 1,0.4 1,1.8 1,2.3 1,2.1 1,1.3" fill="none" stroke="#ff0000" stroke-width="17.5" stroke-linejoin="round" stroke-linecap="round"/>
<path d="M1106.0 603.4l1,0.6 1,0 1,-0.6 1,-0.7 1,-0.3 1,0.3 1,0.7 1,0.5 1,-0.1 1,-0.3 1,0.4 1,1 1,1.1 1,0.7 1,-0.2 1,-0.2 1,0.3 1,0.8 1,0.6 1,0.2 1,0.5 1,0.8 1,0.7 1,0.5 1,0.4 1,0.3 1,0.5 1,0.6 1,0.9 1,0.9 1,0.6 1,0.4 1,0 1,-0.4 1,-0.3 1,-0.8 1,-0.4 1,0.9 1,1.4 1,0.8 1,-0.3 1,-0.6 1,-0.6 1,-0.3 1,0.9 1,1.7 1,1.9 1,0.5 1,-1.4 1,-1.1 1,0.7 1,1.2 1,0.3 1,-0.7 1,-0.6 1,0.5 1,1.3 1,1 1,-0.3 1,-0.7 1,-0.2 1,0.1 1,0.5 1,0.8 1,0.8 1,1.3 1,0.9 1,-0.4 1,-0.9 1,0.3 1,0.9 1,0.4 1,0.4 1,0.6 1,0.4 1,-0.3 1,-0.4 1,0 1,0.6 1,1 1,1.1 1,0.1 1,-0.2 1,0.1 1,0 1,-0.3 1,-0.6 1,-0.6 1,0 1,1 1,0.9 1,0 1,-0.1 1,1 1,1.6 1,0.6 1,-0.7 1,-0.4 1,-0.1 1,-0.1 1,-0.1 1,0.1 1,0.7 1,0.4 1,0.6 1,1.3 1,0.5 1,-1.1 1,-1.7 1,-0.4 1,1 1,1.1 1,-0.2 1,-1.1 1,0.1 1,1.1 1,0.4 1,-0.7 1,-1.1 1,-0.4 1,0 1,0.5 1,0.7 1,0.5 1,0.3 1,1.2 1,2 1,0.4 1,-2 1,-2.7 1,-1.3 1,1.4 1,2.9 1,2.3 1,0.3 1,-0.7 1,0.2 1,0.2 1,-0.2 1,-0.4 1,-1.1 1,-1.4 1,-0.4 1,0.6 1,0.2 1,-1.1 1,-0.7 1,0.3 1,0.9 1,1.6 1,1.3 1,0.7 1,-0.5 1,-1.3 1,0.2 1,1.2 1,0 1,-0.2 1,0.6 1,1 1,0.1 1,-1 1,-0.8 1,0.2 1,1.1 1,0.9 1,0.4 1,-0.3 1,-0.3 1,0.7 1,1.2 1,-0.3 1,-1.6 1,-1.7 1,-0.3 1,0.6 1,0.3 1,-0.6 1,-0.5 1,0.8 1,1.3 1,0.1 1,-1.1 1,-0.8 1,0.7 1,2.6 1,2.3 1,-0.7 1,-2.1 1,-1.7 1,-1 1,0.3 1,1.5 1,1.6 1,0.5 1,-0.2 1,0.3 1,0 1,-0.9 1,-0.3 1,0.6 1,1.5 1,1.1 1,-0.3 1,-0.7 1,-0.2 1,0.7 1,0.5 1,-0.2 1,-0.2 1,0.1 1,-0.5 1,-0.9 1,0 1,0.9 1,1.4 1,1 1,0.2 1,-0.7 1,-1.4 1,-0.9 1,0.1 1,0.8 1,0.3 1,-0.4 1,-0.3 1,0.5 1,0.9 1,0.8 1,0.7 1,0.1 1,-1.2 1,-1.4 1,-0.1 1,1.3 1,2 1,1.1 1,-0.7 1,-1.8 1,-2 1,-0.8 1,0.8 1,0.9 1,0.6 1,1.3 1,1.7 1,1.4 1,0.6 1,-0.6 1,-1 1,-0.4 1,0.1 1,0.4 1,0.9 1,0.3 1,-0.2 1,1.4 1,2 1,0.4 1,-0.4 1,-0.3 1,-0.7 1,-1.1 1,-1 1,-0.7 1,-0.5 1,0 1,0.5 1,0.4 1,0.3 1,0.6 1,0.1 1,0 1,0 1,0.3 1,1.4 1,1.9 1,1 1,-0.2 1,-0.8 1,-1.1 1,-0.8 1,-0.3 1,0.1 1,-0.4 1,-1 1,-0.5 1,0.6 1,0.8 1,0.3 1,-0.2 1,-0.7 1,-1 1,-0.3 1,0.5 1,0.9 1,0.9 1,-0.2 1,-1.2 1,-0.5 1,1 1,1.5 1,1.9 1,1.9 1,0.3 1,-0.9 1,-0.8 1,-0.7 1,-0.8 1,-1.1 1,-0.3 1,1.3 1,1.8 1,0.4 1,-0.7 1,-0.3 1,0 1,-0.1 1,-0.1 1,-0.2 1,-0.5 1,-0.4 1,-0.1 1,-0.3 1,-0.4 1,0.4 1,0.5 1,-1.3 1,-2.6 1,-1.6 1,0.7 1,2.5 1,1.6 1,-0.4 1,-0.5 1,0.7 1,1.7 1,1.4 1,1 1,1 1,0.2 1,-1.5 1,-2.5 1,-1.9 1,-0.4 1,1.4 1,1.9 1,0.8 1,0.2 1,0.7 1,0.5 1,-0.2 1,-0.4 1,-0.8 1,-1.4 1,-0.7 1,0.5 1,0.3 1,0.3 1,0.7 1,0.8 1,0.1 1,-0.4 1,-0.1 1,0.3 1,0.3 1,0.2 1,0.1 1,-0.6 1,-1.2 1,-0.5 1,1 1,0.8 1,-0.5 1,-0.6 1,0.2 1,0.5 1,0.1 1,-0.3 1,0.3 1,1.1 1,0.4 1,0.1 1,0.7 1,0.5 1,-0.3 1,-0.6 1,-0.3 1,-1.1 1,-0.9 1,0.2 1,-0.1 1,-0.6 1,-0.4 1,0.2 1,1 1,1 1,0.8 1,0.5 1,-0.8 1,-1.3 1,-0.2 1,0.9 1,0.5 1,-0.5 1,-0.1 1,0.8 1,0.7 1,0.5 1,-0.1 1,-1.4 1,-1.4 1,-0.4 1,1 1,1.5 1,0.3 1,-0.3 1,0.5 1,0.8 1,0.7 1,0.1 1,-1.3 1,-1.5 1,-0.7 1,0.6 1,1.5 1,0.6 1,-0.2 1,0.2 1,0.7 1,-0.5 1,-2.2 1,-2.4 1,-0.9 1,0.5 1,0.9 1,1.1 1,0.8 1,0 1,0.3 1,0.8 1,0.4 1,-0.1 1,-0.6 1,-0.7 1,0.8 1,1.1 1,-0.7 1,-1.5 1,-0.7 1,-0.3 1,-0.1 1,0.7 1,0.9 1,0.3 1,-0.8 1,-1.2 1,0.2 1,1.5 1,1.3 1,0.4 1,-0.7 1,-1 1,-0.2 1,0.6 1,1.5 1,1.8 1,0.5 1,-0.8 1,-0.9 1,-0.7 1,-1.6 1,-1.4 1,0.4 1,1.4 1,0.6 1,0.4 1,0.8 1,0.3 1,-0.8 1,-0.8 1,0.1 1,1.1 1,1.1 1,-0.3 1,-1.8 1,-1.2 1,0.4 1,1.2 1,0.7 1,0.1 1,-0.1 1,-0.6 1,-1 1,-0.9 1,0.3 1,0.8 1,0.5 1,0 1,0.4 1,0.5 1,-0.2 1,-0.7 1,-1 1,-1.1 1,-0.4 1,0.6 1,1 1,0.6 1,-0.1 1,0.4 1,0.9 1,0.5 1,0.1 1,-0.8 1,-1.3 1,-0.3 1,1.1 1,1.5 1,0.8 1,0.5 1,0.1 1,-0.7 1,-0.6 1,0.1 1,0.7 1,0.9 1,0.4 1,-0.5 1,-1.2 1,-1.1 1,-0.7 1,-0.5 1,0.2 1,1.3 1,1 1,-0.3 1,-0.4 1,0.3 1,0.8 1,0.9 1,0.1 1,-0.7 1,-0.2 1,0.1 1,-0.5 1,-1 1,-0.5 1,0.9 1,1.5 1,0.6 1,-0.4 1,0.1 1,0.6 1,0.3 1,-0.2 1,-0.3 1,-0.8 1,-1.4 1,-1.4 1,-1.3 1,-0.5 1,0.7 1,1.5 1,2 1,1 1,-0.3 1,-0.6 1,-0.2 1,0.3 1,0.3 1,-0.1 1,-0.6 1,-0.4 1,0.7 1,1 1,0.8 1,0.5 1,-0.1 1,-0.8 1,-1.1 1,-0.1 1,1 1,0.9 1,0.8 1,0.5 1,-0.5 1,-0.7 1,0.3 1,0.9 1,-0.2 1,-1.4 1,-1.2 1,0.1 1,0.7 1,0.8 1,0.1 1,-0.2 1,0.3 1,0.3 1,-0.6 1,-1.2 1,-1 1,-0.2 1,0.9 1,1 1,-0.1 1,-0.9 1,-1.1 1,-1.1 1,0.4 1,2.3 1,0.9 1,-0.9 1,-0.4 1,0.3 1,-0.1 1,-0.3 1,0.1 1,0.3 1,0.4 1,0.2 1,-0.2 1,-0.4 1,-0.2 1,0.3 1,0.2 1,0 1,0.4 1,1.1 1,0.7 1,0.2 1,-0.4 1,-1 1,-0.4 1,0.1 1,-0.1 1,0.5 1,0.3 1,-0.5 1,-0.5 1,0.1 1,0.4 1,0.4 1,0.3 1,0.4 1,0.5 1,0.5 1,0.1 1,-0.2 1,-0.1 1,-0.2 1,-0.4 1,-0.7 1,-1 1,-0.1 1,0.7 1,0.1 1,0.3 1,1.2 1,1.4 1,1.3 1,0.1 1,-1 1,-1.2 1,-1.2 1,-0.8 1,0 1,0.2 1,-0.2 1,-0.2 1,0.3 1,1 1,0.3 1,-0.5 1,0.5 1,0.7 1,-0.8 1,-1.3 1,0.2 1,1.5 1,0.5 1,-1.2 1,-1 1,-0.2 1,0.4 1,0.5 1,0.3 1,0.7 1,0.8 1,-0.2 1,-0.3 1,0.1 1,-0.3 1,-0.2 1,-0.2 1,0.1 1,0.7 1,0.7 1,-0.4 1,-1.2 1,-1.3 1,-0.6 1,0.9 1,1.3 1,0.6 1,-0.6 1,-1 1,-0.3 1,0.7 1,1.1 1,0.5 1,-0.7 1,-0.8 1,-0.5 1,-0.6 1,-1.1 1,-1.3 1,0 1,1.4 1,1.8 1,1.1 1,0.6 1,0.1 1,-0.1 1,0.2 1,0 1,-0.4 1,-0.5 1,-1.2 1,-0.5 1,0.7 1,0.5 1,-0.8 1,-0.7 1,1.1 1,2.6 1,2 1,-0.3 1,-1.9 1,-1.6 1,-0.5 1,0.2 1,0.6 1,0.4 1,0 1,-0.2 1,0.1 1,0.7 1,0.9 1,-0.2 1,-1.1 1,-0.4 1,0.7 1,1.3 1,0.9 1,0.1 1,-0.9 1,-0.1 1,1.2 1,0.7 1,-0.5 1,-1.5 1,-1.8" fill="none" stroke="#ff0000" stroke-width="18.0" stroke-linejoin="round" stroke-linecap="round"/>
<path d="M294.0 657.3l0.7,15.9 0.7,-16.5 0.7,9.3 0.7,-13.6 0.7,16.4 0.7,-7.5 0.7,11 0.7,2.2 0.7,-16.3 0.7,9.5 0.7,7.4 0.7,-29.4 0.7,19.5 0.7,4.5 0.7,-18.2 0.7,4.8 0.7,13.5 0.7,-13 0.7,1.6 0.7,20.9 0.7,-23.6 0.7,0.6 0.7,-13 0.7,10.6 0.7,-1.5 0.7,37.4 0.7,-16.6 0.7,-22.6 0.7,28 0.7,-11.2 0.7,-9 0.7,8.1 0.7,-4.4 0.7,-10.7 0.7,-9.5 0.7,6.9 0.7,7.5 0.7,-3.8 0.7,-4 0.7,14.6 0.7,-18.7 0.7,16.7 0.7,-12.8 0.7,4.7 0.7,-11.6 0.7,9.2 0.7,-7.5 0.7,-9.3 0.7,14.6 0.7,-1 0.7,7 0.7,-5.6 0.7,-12.3 0.7,2.7 0.7,-17.4 0.7,11.4 0.7,20.6 0.7,1.2 0.7,-7.5 0.7,-4.9 0.7,1.8 0.7,-1.7 0.7,-20.5 0.7,6.8 0.7,17.5 0.7,-0.8 0.7,-9.2 0.7,-5.9 0.7,-12.8 0.7,8.2 0.7,-5 0.7,-10.7 0.7,16.4 0.7,-7.5 0.7,-0.1 0.7,15 0.7,-12.2 0.7,-13.7 0.7,24.7 0.7,-36.1 0.7,20.7 0.7,-9.1 0.7,-6.1 0.7,4.8 0.7,5.8 0.7,-19.1 0.7,-17.8 0.7,36.8 0.7,-20.7 0.7,11.2 0.7,-21.2 0.7,7.5 0.7,-10.9 0.7,9.7 0.7,-9.5 0.7,-4.4 0.7,19.3 0.7,-24.5 0.7,-6.4 0.7,17.2 0.7,-4.5 0.7,-1.1 0.7,7.4 0.7,2.6 0.7,6.3 0.7,-5.7 0.7,2.2 0.7,3.5 0.7,14.4 0.7,-18.3 0.7,19.4 0.7,0.2 0.7,-6.3 0.7,8.4 0.7,-7.7 0.7,4.8 0.7,-3.8 0.7,15 0.7,9.7 0.7,-16.6 0.7,18.3 0.7,-28.3 0.7,12.5 0.7,0 0.7,25.3 0.7,-19.8 0.7,13.1 0.7,-24.5 0.7,20.1 0.7,4.8 0.7,-4.7 0.7,-23.3 0.7,26.7 0.7,6.5 0.7,5.3 0.7,4.5 0.7,-30 0.7,14 0.7,10.7 0.7,-14.8 0.7,13 0.7,-19.8 0.7,16.6 0.7,6.3 0.7,-12.8 0.7,32.3 0.7,-24 0.7,2 0.7,-9.4 0.7,7.5 0.7,-2.7 0.7,-10.4 0.7,-0.4 0.7,26.4 0.7,-12.9 0.7,-22.6 0.7,4.6 0.7,16.5 0.7,2.2 0.7,5.9 0.7,-16.9 0.7,16.1 0.7,-8.4 0.7,-2.2 0.7,2.9 0.7,9.7 0.7,-4.2 0.7,2.6 0.7,-14.6 0.7,3.2 0.7,-8.3 0.7,-9.4 0.7,15.6 0.7,-1.1 0.7,10.2 0.7,-2.9 0.7,2.6 0.7,-6.1 0.7,8.1 0.7,-8.9 0.7,7.3 0.7,-4.4 0.7,1.9 0.7,-7.4 0.7,-10.7 0.7,-2 0.7,30.4 0.7,-14.2 0.7,0.3 0.7,-5.6 0.7,-2.8 0.7,29.9 0.7,-36.1 0.7,9.4 0.7,-0.1 0.7,-9.8 0.7,-1.4 0.7,5 0.7,3 0.7,-1.4 0.7,11.6 0.7,-18.1 0.7,14 0.7,9.4 0.7,-5.3 0.7,-18.5 0.7,-16.6 0.7,34 0.7,-3.4 0.7,-9.9 0.7,16.5 0.7,-15.3 0.7,4.4 0.7,-10.6 0.7,12 0.7,-6.9 0.7,-0.9 0.7,14 0.7,-8 0.7,-15.6 0.7,19.5 0.7,1 0.7,-15.2 0.7,3.8 0.7,3.8 0.7,6.7 0.7,-6.4 0.7,4.6 0.7,-10.5 0.7,23.1 0.7,-25.3 0.7,1.4 0.7,22.5 0.7,3.6 0.7,-21.3 0.7,-2.1 0.7,-8.1 0.7,19.8 0.7,-8.9 0.7,-9.3 0.7,11.1 0.7,8.6 0.7,-6.3 0.7,13.6 0.7,-9.6 0.7,-6.6 0.7,-4.5 0.7,5 0.7,5.7 0.7,-3.6 0.7,1.3 0.7,-23.6 0.7,20 0.7,3.5 0.7,-12.9 0.7,-10.7 0.7,26.7 0.7,-10.8 0.7,-9.7 0.7,5.5 0.7,-4.8 0.7,-26.9 0.7,26.4 0.7,-11.6 0.7,14.1 0.7,-3.3 0.7,10.6 0.7,-11.7 0.7,3.9 0.7,-22.6 0.7,14.9 0.7,-25.2 0.7,36.6 0.7,-7.8 0.7,-7.2 0.7,6.7 0.7,-6.1 0.7,-3.2 0.7,8.3 0.7,8.3 0.7,-13.8 0.7,-10.9 0.7,21.8 0.7,6.4 0.7,-24 0.7,17.6 0.7,-13.3 0.7,8.4 0.7,-8.1 0.7,-13.7 0.7,10.1 0.7,22.2 0.7,-20.6 0.7,5.7 0.7,-8.6 0.7,1.4 0.7,3.5 0.7,0.9 0.7,15.2 0.7,-20.7 0.7,-2 0.7,-4.9 0.7,-6.3 0.7,-3.2 0.7,19.9 0.7,-23.2 0.7,28.8 0.7,-5.4 0.7,-10.9 0.7,-8.3 0.7,10.1 0.7,-0.5 0.7,9.4 0.7,-17.4 0.7,2.7 0.7,2.3 0.7,-2.7 0.7,-3.8 0.7,-10.6 0.7,0 0.7,-7.5 0.7,18.7 0.7,10.3 0.7,11 0.7,-6.1 0.7,0 0.7,0 0.7,-18.7 0.7,-4.4 0.7,24.8 0.7,-31.2 0.7,5.1 0.7,0.7 0.7,14.7 0.7,-30.1 0.7,22.6 0.7,-11.5 0.7,-8 0.7,12.5 0.7,-1.3 0.7,-12.6 0.7,-7.1 0.7,-3.1 0.7,37.2 0.7,-15.1 0.7,-2.6 0.7,1.6 0.7,-9.4 0.7,8 0.7,-10.4 0.7,-7.2 0.7,5 0.7,7.5 0.7,-1.7 0.7,8 0.7,-25.3 0.7,24.8 0.7,-7.3 0.7,-12.9 0.7,10.4 0.7,-6.5 0.7,-7 0.7,19.8 0.7,-23 0.7,5 0.7,2.8 0.7,-5.2 0.7,0.1 0.7,0.9 0.7,-1.5 0.7,9.6 0.7,-19.7 0.7,27.5 0.7,-4 0.7,4.5 0.7,-21.8 0.7,-12.5 0.7,14.8 0.7,3.6 0.7,3.8 0.7,-19.3 0.7,14.6 0.7,1.4 0.7,-16.1 0.7,29.3 0.7,-27.3 0.7,11.5 0.7,6.4 0.7,-29.6 0.7,18.1 0.7,13.7 0.7,-18.2 0.7,11 0.7,-7.7 0.7,-1.5 0.7,3.4 0.7,-9.4 0.7,-0.8 0.7,9.6 0.7,4.4 0.7,-10.5 0.7,-16.1 0.7,9.9 0.7,9.9 0.7,-3.8 0.7,-5.9 0.7,-8.5 0.7,-1.6 0.7,8.9 0.7,8.4 0.7,-12.7 0.7,11.1 0.7,-14.6 0.7,13.3 0.7,-20 0.7,10.5 0.7,-24.5 0.7,28.4 0.7,-0.9 0.7,-13.9 0.7,1.6 0.7,2.5 0.7,-9.7 0.7,4.7 0.7,-0.1 0.7,13.8 0.7,4.2 0.7,-18 0.7,-0.3 0.7,2.7 0.7,4.1 0.7,-12.2 0.7,8.2 0.7,-7.4 0.7,-4.7 0.7,-6.2 0.7,16.4 0.7,-20.5 0.7,4.3 0.7,-11.4 0.7,1.6 0.7,3.1 0.7,-5.6 0.7,4 0.7,-5.2 0.7,-10.7 0.7,-6.7 0.7,16.3 0.7,-9.2 0.7,8.9 0.7,-6.4 0.7,-3.1 0.7,8.3 0.7,-2.9 0.7,3.4 0.7,-4.1 0.7,2.1 0.7,14.8 0.7,-9.3 0.7,18.7 0.7,-15.7 0.7,8.1 0.7,-13.6 0.7,-1.1 0.7,36.5 0.7,-3.9 0.7,-0.7 0.7,-23.8 0.7,19.1 0.7,3.6 0.7,-0.9 0.7,4.4 0.7,-8.1 0.7,10.2 0.7,-5.1 0.7,10.9 0.7,10.3 0.7,-7 0.7,7.5 0.7,1 0.7,5.9 0.7,9.8 0.7,-4.6 0.7,2.8 0.7,-15 0.7,11 0.7,12.1 0.7,-13.7 0.7,5.2 0.7,-3.4 0.7,22 0.7,-14.8 0.7,-1.3 0.7,13 0.7,5 0.7,-5 0.7,4.7 0.7,-6.8 0.7,-3 0.7,-2.7 0.7,-0.5 0.7,-0.7 0.7,8.7 0.7,-4.3 0.7,1.9 0.7,4.7 0.7,-5.8 0.7,-11.8 0.7,5.3 0.7,-2.9 0.7,-7 0.7,18.2 0.7,-11.7 0.7,-12.8 0.7,14 0.7,17.6 0.7,-10.5 0.7,11.8 0.7,-9.7 0.7,-3 0.7,9.1 0.7,0.4 0.7,-4.2 0.7,-10.2 0.7,5.4 0.7,-6.2 0.7,8.5 0.7,3.5 0.7,12.7 0.7,-0.4 0.7,-6.3 0.7,2.8 0.7,-6.3 0.7,23.1 0.7,-10.9 0.7,10.3 0.7,-20.1 0.7,0.6 0.7,6 0.7,-7.5 0.7,1.3 0.7,-11.4 0.7,5.7 0.7,5 0.7,6.3 0.7,-9 0.7,-13.7 0.7,20.7 0.7,16.4 0.7,-31.9 0.7,3.1 0.7,6.2 0.7,0.8 0.7,-12.8 0.7,31.3 0.7,-6.4 0.7,-14.4 0.7,-10.5 0.7,19.9 0.7,14.8 0.7,-24.6 0.7,17.6 0.7,-18.7 0.7,10.5 0.7,-15.6 0.7,31.1 0.7,-13 0.7,-24.4 0.7,1.9 0.7,20.6 0.7,-15.3 0.7,7.4 0.7,8 0.7,12.1 0.7,-15.1 0.7,-20 0.7,14.5 0.7,-10.8 0.7,4.2 0.7,9.7 0.7,-4.8 0.7,-8.4 0.7,8.9 0.7,-7.5 0.7,11.7 0.7,-7.3 0.7,5.3 0.7,-6.3 0.7,8.7 0.7,-8.3 0.7,0.7 0.7,-5.4 0.7,6 0.7,-17.6 0.7,39.6 0.7,-30.6 0.7,6.7 0.7,-5.6 0.7,-0.5 0.7,7.6 0.7,-8.6 0.7,0.4 0.7,-9 0.7,-11.3 0.7,12.4 0.7,26.4 0.7,-28.6 0.7,1.9 0.7,11 0.7,10.7 0.7,-28.5 0.7,0.9 0.7,14.7 0.7,1.5 0.7,-16.2 0.7,-3.9 0.7,7.2 0.7,14.9 0.7,-7.5 0.7,6.7 0.7,-8.1 0.7,0.3 0.7,5.4 0.7,-7 0.7,2.8 0.7,-10.7 0.7,2.3 0.7,9.3 0.7,-6.8 0.7,-5 0.7,12.2 0.7,-15.3 0.7,8.6 0.7,-7.2 0.7,14.5 0.7,14 0.7,-30.3 0.7,-6.9 0.7,6.5 0.7,-1.8 0.7,-3.4 0.7,0.3 0.7,17.9 0.7,-0.3 0.7,5.2 0.7,-7 0.7,-11.5 0.7,13.7 0.7,-6.2 0.7,-7.6 0.7,-7.8 0.7,21.2 0.7,-2.4 0.7,-29.3 0.7,16.5 0.7,2.7 0.7,1.1 0.7,5.3 0.7,-7.4 0.7,2.6 0.7,-17.5 0.7,10.3 0.7,-13.8 0.7,31.7 0.7,-3.9 0.7,-6.6 0.7,3.2 0.7,7.6 0.7,-10 0.7,-23.2 0.7,12 0.7,-19.8 0.7,13.5 0.7,-4.3 0.7,10.7 0.7,3.1 0.7,-12.3 0.7,5.4 0.7,4.6 0.7,-4.3 0.7,-0.7 0.7,-20.4 0.7,17.2 0.7,10.7 0.7,-5.2 0.7,-16.1 0.7,10.4 0.7,4.5 0.7,-11.5 0.7,14.5 0.7,-13.5 0.7,4.1 0.7,1.8 0.7,20.9 0.7,-23 0.7,-2.3 0.7,11.4 0.7,-10.7 0.7,5.8 0.7,-22.1 0.7,8.2 0.7,11.7 0.7,-11.5 0.7,23.7 0.7,-14.4 0.7,0.3 0.7,-10.2 0.7,-2.9 0.7,9.4 0.7,-8.7 0.7,18 0.7,3.4 0.7,-13.7 0.7,-8.8 0.7,10.8 0.7,-6.1 0.7,11 0.7,0 0.7,-5.6 0.7,4.4 0.7,8.6 0.7,5.9 0.7,-20.1 0.7,11.1 0.7,-8.8 0.7,-7.4 0.7,20.9 0.7,-8.1 0.7,-2.3 0.7,1.8 0.7,-4.6 0.7,-8 0.7,25.5 0.7,-7.8 0.7,-5.6 0.7,6.5 0.7,3 0.7,-13.2 0.7,7.2 0.7,-8.1 0.7,8.9 0.7,-8 0.7,34.1 0.7,-34.7 0.7,8 0.7,-0.3 0.7,-7.1 0.7,11.6 0.7,-9 0.7,-2.8 0.7,3.8 0.7,-6.6 0.7,17.7 0.7,-5 0.7,3.3 0.7,-20.8 0.7,14.7 0.7,-9.2 0.7,7.8 0.7,10.9 0.7,-22 0.7,9.2 0.7,11.8 0.7,-0.8 0.7,7.6 0.7,-33.2 0.7,19.8 0.7,-6.5 0.7,-4 0.7,9.1 0.7,-27.5 0.7,6.7 0.7,12.1 0.7,6 0.7,19.5 0.7,-23 0.7,-17.8 0.7,7.1 0.7,15 0.7,-12.8 0.7,17.9 0.7,-14 0.7,6.5 0.7,-13.2 0.7,22.2 0.7,-15.3 0.7,-10.2 0.7,50.1 0.7,-20.2 0.7,-1.1 0.7,0.4 0.7,-12.2 0.7,19.3 0.7,-18.7 0.7,27 0.7,-14.9 0.7,-18.3 0.7,24.8 0.7,10.2 0.7,-19.7 0.7,12.2 0.7,-11.1 0.7,-3.4 0.7,-17.3 0.7,34.7 0.7,-14.8 0.7,7.8 0.7,-13.3 0.7,2.3 0.7,18.6 0.7,-13.2 0.7,0.2 0.7,-7.4 0.7,13.5 0.7,5.5 0.7,-10.9 0.7,2.7 0.7,-9 0.7,23.8 0.7,-17.9 0.7,4.4 0.7,0.8 0.7,-1 0.7,-11.7 0.7,5.8 0.7,5.4 0.7,19.5 0.7,-13.8 0.7,-3.8 0.7,9.7 0.7,4.6 0.7,-18.4 0.7,20 0.7,-5 0.7,-3.4 0.7,-25.2 0.7,23.4 0.7,11 0.7,-14.8 0.7,23.6 0.7,-20 0.7,-9.6 0.7,14.8 0.7,-2.5 0.7,5.1 0.7,-9.3 0.7,14 0.7,-16.6 0.7,6.5 0.7,-12.3 0.7,4.3 0.7,9.3 0.7,-7.5 0.7,2.1 0.7,2.4 0.7,4.5 0.7,4.9 0.7,12.6 0.7,-21.5 0.7,4.8 0.7,-6.4 0.7,-9.1 0.7,11.6 0.7,-3.7 0.7,-8.9 0.7,31.8 0.7,-31.3 0.7,20.3 0.7,2.2 0.7,-6.8 0.7,26 0.7,-23 0.7,-6.7 0.7,23.3 0.7,-22.9 0.7,-5.4 0.7,4.2 0.7,3.7 0.7,6.7 0.7,-9.8 0.7,-3.8 0.7,17.4 0.7,27.4 0.7,-36.3 0.7,5.6 0.7,-2.8 0.7,15.8 0.7,-16.7 0.7,-2.4 0.7,0 0.7,19.6 0.7,-1.5 0.7,-27.6 0.7,0.6 0.7,8.6 0.7,-2 0.7,17.7 0.7,-1.4 0.7,16.2 0.7,-10.5 0.7,-6 0.7,9.8 0.7,-18.9 0.7,-4.5 0.7,13.1 0.7,8.3 0.7,-23.3 0.7,23 0.7,-0.3 0.7,-12.4 0.7,6.2 0.7,-4 0.7,3.3 0.7,6.7 0.7,-14.7 0.7,16.9 0.7,-1.5 0.7,0.4 0.7,-26.3 0.7,1.1 0.7,23.4 0.7,-11.7 0.7,-0.9 0.7,-0.6 0.7,-5.2 0.7,9.6 0.7,-3.9 0.7,0.7 0.7,10.4 0.7,-15.2 0.7,21.2 0.7,-30.6 0.7,43.3 0.7,-35.3 0.7,17.8 0.7,3.1 0.7,-8.4 0.7,6.9 0.7,-7.7 0.7,-15.1 0.7,19.2 0.7,7.3 0.7,-15.5 0.7,-10.6 0.7,9.9 0.7,8.4 0.7,-0.3 0.7,7.3 0.7,-5.1 0.7,-0.6 0.7,-23.1 0.7,38.7 0.7,-20.1 0.7,7.4 0.7,-11.2 0.7,1.7 0.7,1.8 0.7,13.8 0.7,-0.6 0.7,-8.3 0.7,12.4 0.7,-21.9 0.7,8.3 0.7,3.2 0.7,3.7 0.7,-11.6 0.7,8.5 0.7,6.8 0.7,-34.9 0.7,38.8 0.7,-17.1 0.7,-5.9 0.7,-14.8 0.7,29.8 0.7,-33.5 0.7,21.8 0.7,-2.4 0.7,18.2 0.7,-19.9 0.7,12.8 0.7,0.8 0.7,8.1 0.7,-21.3 0.7,9.2 0.7,-21.1 0.7,3.7 0.7,7.6 0.7,2.2 0.7,-11.1 0.7,7.3 0.7,10.2 0.7,-10.8 0.7,2.7 0.7,-16.7 0.7,30.7 0.7,3.6 0.7,-14.6 0.7,-3.1 0.7,16.3 0.7,-11 0.7,-10.7 0.7,-6.3 0.7,6.9 0.7,25.6 0.7,-25.8 0.7,32 0.7,-26.8 0.7,-2 0.7,14.1 0.7,-14.6 0.7,5.7 0.7,-13.2 0.7,-2 0.7,4.6 0.7,8.8 0.7,-8.3 0.7,-12.1 0.7,22.4 0.7,-6 0.7,-1.1 0.7,-3.2 0.7,-15.2 0.7,35.3 0.7,-19.1 0.7,9.2 0.7,8 0.7,-2.5 0.7,-8.6 0.7,-1.7 0.7,2.7 0.7,5.6 0.7,-3.1 0.7,-9.4 0.7,8.2 0.7,-0.6 0.7,2.9 0.7,6 0.7,0.2 0.7,-10.8 0.7,6.4 0.7,-7.8 0.7,-5.7 0.7,-3.5 0.7,7.3 0.7,6.4 0.7,6.8 0.7,-12.5 0.7,-4 0.7,0.1 0.7,16.6 0.7,-10.9 0.7,-5.6 0.7,11.4 0.7,-19 0.7,28.4 0.7,-16.6 0.7,-0.8 0.7,-9.3 0.7,19.8 0.7,6.6 0.7,-27.6 0.7,13.6 0.7,5 0.7,15.1 0.7,-24.4 0.7,-4.7 0.7,8.9 0.7,18.9 0.7,-17.7 0.7,2 0.7,14.1 0.7,-24.7 0.7,-11.2 0.7,28.6 0.7,-1 0.7,-19.7 0.7,17.8 0.7,-4.2 0.7,1.9 0.7,-9.3 0.7,3.5 0.7,-3.7 0.7,8.8 0.7,-2.4 0.7,17.9 0.7,-9.5 0.7,-20 0.7,8.6 0.7,19.8 0.7,-10.1 0.7,8.2 0.7,-9.6 0.7,7.8 0.7,-14.2 0.7,16.9 0.7,-19 0.7,25.6 0.7,-24.9 0.7,-4.5 0.7,25.4 0.7,-5.5 0.7,3.7 0.7,3.8 0.7,-3.2 0.7,-6.9 0.7,11.1 0.7,2.3 0.7,2.2 0.7,14.7 0.7,-24.3 0.7,8.1 0.7,5.1 0.7,-8.7 0.7,-6.5 0.7,6.3 0.7,15.6 0.7,-11.8 0.7,8.6 0.7,-12 0.7,11.4 0.7,-9.9 0.7,-1 0.7,9.2 0.7,0 0.7,13.6 0.7,-18.4 0.7,10.4 0.7,10.7 0.7,-1.9 0.7,-15.6 0.7,-2.3 0.7,2.2 0.7,7.9 0.7,-0.6 0.7,2 0.7,2.7 0.7,-14.9 0.7,-0.1 0.7,-0.4 0.7,-0.6 0.7,11.8 0.7,4.2 0.7,20.9 0.7,-18.2 0.7,-4.5 0.7,13.3 0.7,-19.6 0.7,10.2 0.7,6.1 0.7,14.6 0.7,-19.3 0.7,-6.7 0.7,-7.9 0.7,10.3 0.7,-3.8 0.7,12.1 0.7,-7.3 0.7,6.7 0.7,-19.7 0.7,24.1 0.7,-16.6 0.7,-6.3 0.7,-8.7 0.7,17.9 0.7,16.5 0.7,-14.5 0.7,-6.2 0.7,11.9 0.7,-1.4 0.7,-13.3 0.7,5.6 0.7,-9.3 0.7,11 0.7,-16.1 0.7,17.4 0.7,-1.1 0.7,1.6 0.7,0 0.7,18.6 0.7,-13.6 0.7,5.7 0.7,5 0.7,1.6 0.7,-1.8 0.7,-11.1 0.7,-4.8 0.7,3.2 0.7,3 0.7,4.7 0.7,-0.7 0.7,11.2 0.7,-10.9 0.7,17.7 0.7,-6.8 0.7,-13.7 0.7,12.6 0.7,-21.4 0.7,26.6 0.7,-8.7 0.7,0.1 0.7,-19 0.7,25.5 0.7,-11.9 0.7,1.3 0.7,11.9 0.7,-12 0.7,-5.8 0.7,4.3 0.7,-5.4 0.7,3.5 0.7,7.6 0.7,9.3 0.7,-21.3 0.7,22.8 0.7,-8.5 0.7,15.7 0.7,-24 0.7,23.3 0.7,-10.4 0.7,1 0.7,-13.7 0.7,12 0.7,1.3 0.7,-13.6 0.7,-2.8 0.7,3.7 0.7,20.8 0.7,-11.8 0.7,7.4 0.7,-5.8 0.7,-1.3 0.7,1.1 0.7,-5.6 0.7,15.2 0.7,-9.4 0.7,0.7 0.7,-14.6 0.7,15.8 0.7,-8.9 0.7,1.8 0.7,14.4 0.7,-19.4 0.7,8.4 0.7,7.8 0.7,5.1 0.7,-15.2 0.7,7.9 0.7,-0.1 0.7,-12.8 0.7,-9.1 0.7,2.1 0.7,23.5 0.7,-4.4 0.7,-13 0.7,6.6 0.7,2.4 0.7,0.6 0.7,3.2 0.7,20.8 0.7,-27.3 0.7,8.8 0.7,-8.2 0.7,1.5 0.7,-2.2 0.7,6.2 0.7,-2.8 0.7,8.5 0.7,-1.1 0.7,-10 0.7,26 0.7,-28.3 0.7,14.2 0.7,16.8 0.7,-26.4 0.7,18.9 0.7,1 0.7,-9.8 0.7,-20 0.7,30.2 0.7,-12.1 0.7,-5.8 0.7,16.9 0.7,-18.2 0.7,16.5 0.7,-14.7 0.7,24.3 0.7,-28.9 0.7,6.4 0.7,-4.6 0.7,2 0.7,8.4 0.7,-3.2 0.7,3.4 0.7,10.2 0.7,-12.7 0.7,-15.9 0.7,14.6 0.7,3.5 0.7,8.7 0.7,0.3 0.7,-0.6 0.7,-10.7 0.7,8.1 0.7,-19 0.7,25.2 0.7,-7.7 0.7,0.8 0.7,-8.1 0.7,4.2 0.7,-6.6 0.7,11.4 0.7,-17.3 0.7,5 0.7,12.4 0.7,13.7 0.7,-18.9 0.7,-0.5 0.7,2.8 0.7,-1.4 0.7,-1.3 0.7,-9 0.7,0 0.7,5 0.7,2.6 0.7,-8.1 0.7,0.3 0.7,8.1 0.7,9.5 0.7,-8.5 0.7,8.1 0.7,2.8 0.7,-1.8 0.7,-10.9 0.7,0.2 0.7,-27.6 0.7,25.2 0.7,10.7 0.7,-14.3 0.7,22.5 0.7,0.8 0.7,-16.4 0.7,11.9 0.7,-21.4 0.7,3.4 0.7,6.3 0.7,3.6 0.7,-1.7 0.7,-6.2 0.7,26.1 0.7,-15.3 0.7,0 0.7,3.7 0.7,-4.6 0.7,-3.7 0.7,-2.9 0.7,-9.9 0.7,28.8 0.7,-22.1 0.7,-6.8 0.7,7.9 0.7,-7.3 0.7,33.1 0.7,-14.9 0.7,9.7 0.7,0.4 0.7,-8.1 0.7,0.1 0.7,-11.8 0.7,5.9 0.7,-4.8 0.7,6 0.7,-6.7 0.7,18.1 0.7,-4.6 0.7,-7.9 0.7,-14.4 0.7,21.7 0.7,1.9 0.7,-8.7 0.7,-10.9 0.7,15.6 0.7,5.7 0.7,-27.2 0.7,22.9 0.7,-21.9 0.7,17.5 0.7,15.4 0.7,-15.2 0.7,3.6 0.7,-7.3 0.7,3 0.7,12.5 0.7,-0.1 0.7,-15.1 0.7,-0.5 0.7,3.8 0.7,20 0.7,-18.1 0.7,8.4 0.7,-13.5 0.7,6.5 0.7,9.2 0.7,-12.8 0.7,-6.4 0.7,1 0.7,0.3 0.7,0.7 0.7,-8.5 0.7,25.2 0.7,-7.4 0.7,5.5 0.7,-12 0.7,6.5 0.7,-1.6 0.7,20 0.7,-13.9 0.7,6 0.7,-19.2 0.7,-5 0.7,3.8 0.7,1.6 0.7,1 0.7,-6.3 0.7,26.6 0.7,-12.6 0.7,-20.9 0.7,8.6 0.7,-2.2 0.7,14.6 0.7,7.6 0.7,-4.1 0.7,0.2 0.7,-8.1 0.7,13.1 0.7,2.1 0.7,-9.6 0.7,3.8 0.7,6 0.7,-15.8 0.7,-7.1 0.7,13.6 0.7,-3.5 0.7,-2.8 0.7,2.9 0.7,-1 0.7,-7.7 0.7,15.1 0.7,5 0.7,-12.5 0.7,14.9 0.7,-23.2 0.7,-1.8 0.7,27.7 0.7,-8.1 0.7,-13 0.7,11.8 0.7,2.8 0.7,1.4 0.7,-10.8 0.7,0.6 0.7,-14.5 0.7,15.4 0.7,2.4 0.7,10.4 0.7,-24.4 0.7,3.9 0.7,12.5 0.7,3.6 0.7,-31.2 0.7,13.3 0.7,28.7 0.7,-12.7 0.7,-18 0.7,11.6 0.7,8.3 0.7,-2.6 0.7,-6.9 0.7,-5.1 0.7,14.8 0.7,-7.5 0.7,7.5 0.7,-3.7 0.7,-7.8 0.7,17.5 0.7,-17.6 0.7,8.5 0.7,-9.6 0.7,3.8 0.7,-0.1 0.7,-3.7 0.7,8.3 0.7,9.8 0.7,5.1 0.7,-3.8 0.7,-14.6 0.7,14.9 0.7,-9.3 0.7,12.6 0.7,-27.7 0.7,25 0.7,-18.9 0.7,16.1 0.7,-14.7 0.7,12.6 0.7,-26 0.7,0.8 0.7,8.4 0.7,6.6 0.7,2.5 0.7,-6.8 0.7,-4.1 0.7,4.3 0.7,4.8 0.7,4 0.7,-9.4 0.7,3.7 0.7,6.7 0.7,-5.7 0.7,11.2 0.7,-12.8 0.7,10.7 0.7,-13.8 0.7,10.6 0.7,-1.6 0.7,3.4 0.7,-12.5 0.7,7.4 0.7,-6.5 0.7,6.3 0.7,7.2 0.7,21.5 0.7,-40 0.7,19.6 0.7,-5.4 0.7,9.3 0.7,9.7 0.7,-10.3 0.7,-6.2 0.7,18.6 0.7,-9.2 0.7,-27.8 0.7,18.2 0.7,-1.9 0.7,-20.6 0.7,12.3 0.7,3.7 0.7,-2.4 0.7,7.9 0.7,-17.3 0.7,23 0.7,0.4 0.7,-3.8 0.7,-6.1 0.7,3.1 0.7,-4.1 0.7,14.6 0.7,-5.7 0.7,13.5 0.7,-21.2 0.7,16.5 0.7,-18.3 0.7,3.8 0.7,-7.8 0.7,14.2 0.7,-5.2 0.7,6.3 0.7,7.9 0.7,-13.9 0.7,3.9 0.7,4.8 0.7,-8.7 0.7,-4.3 0.7,8.2 0.7,1.3 0.7,2.6 0.7,0.5 0.7,-13.6 0.7,25.2 0.7,-7.9 0.7,-15.3 0.7,7.5 0.7,-8.8 0.7,7.1 0.7,14.2 0.7,-14.1 0.7,-10.2 0.7,11.8 0.7,-1.1 0.7,8.2 0.7,-22.5 0.7,4.2 0.7,7.6 0.7,-13.3 0.7,10.9 0.7,-15.1 0.7,10.8 0.7,-5.8 0.7,7.5 0.7,13.1 0.7,-1.7 0.7,2.9 0.7,-2.8 0.7,-23.8 0.7,21.1 0.7,-19.3 0.7,12.1 0.7,1 0.7,-1.3 0.7,-5.8 0.7,3.5 0.7,22.9 0.7,-20.8 0.7,15.9 0.7,-3.7 0.7,1.2 0.7,-8.4 0.7,18.1 0.7,-27.1 0.7,13.6 0.7,-4 0.7,-2.1 0.7,5 0.7,-9.6 0.7,14.6 0.7,-0.7 0.7,-6.2 0.7,5.8 0.7,-16 0.7,-6.9 0.7,11.1 0.7,3.1 0.7,24.7 0.7,-24.5 0.7,11.4 0.7,-11.3 0.7,21.1 0.7,-18 0.7,4.9 0.7,-7.6 0.7,-6 0.7,-1.2 0.7,2 0.7,20 0.7,-10.3 0.7,-13.8 0.7,11.4 0.7,-5.2 0.7,4.8 0.7,0 0.7,6.3 0.7,2.4 0.7,-23 0.7,16.9 0.7,10.3 0.7,-21.5 0.7,7 0.7,3.8 0.7,8.4 0.7,-4.5 0.7,-7.3 0.7,6.5 0.7,4.9 0.7,-5.8 0.7,13.2 0.7,-25.1 0.7,-1 0.7,2.4 0.7,5.9 0.7,-0.6 0.7,7.5 0.7,-2.4 0.7,12.3 0.7,-8.1 0.7,6.1 0.7,-10.1 0.7,-7 0.7,10 0.7,-5.3 0.7,4.9 0.7,-3.4 0.7,-7.8 0.7,21 0.7,-5.1 0.7,-24.2 0.7,8.5 0.7,5.8 0.7,5.9 0.7,-6.7 0.7,-11.6 0.7,19.8 0.7,-9.3 0.7,-0.3 0.7,4.9 0.7,6.4 0.7,-1.5 0.7,0.5 0.7,-12.5 0.7,13.8 0.7,-7.3 0.7,-13.1 0.7,7.7 0.7,0.6 0.7,7.3 0.7,2 0.7,-16.2 0.7,16.6 0.7,-7.1 0.7,-8.9 0.7,17.1 0.7,-14.3 0.7,-3.9 0.7,17.6 0.7,1.3 0.7,-14 0.7,15.5 0.7,-0.5 0.7,-13.6 0.7,22.6 0.7,-18.4 0.7,2.6 0.7,-23.5 0.7,27.2 0.7,-11.3 0.7,9.6 0.7,-4 0.7,10.4 0.7,2.7 0.7,3.9 0.7,-43.5 0.7,31.9 0.7,-2.2 0.7,-30.2 0.7,20.6 0.7,5.8 0.7,13.6 0.7,-20.3 0.7,9.4 0.7,-2.4 0.7,3.9 0.7,-6.9 0.7,11.6 0.7,0.8 0.7,-21 0.7,22.3 0.7,-25.9 0.7,13.4 0.7,12.6 0.7,-9.2 0.7,4.3 0.7,2 0.7,-1.7 0.7,-10.2 0.7,-3.7 0.7,14.7 0.7,0.7 0.7,-3.6 0.7,-4.9 0.7,9.4 0.7,-7.9 0.7,-12 0.7,14.8 0.7,2 0.7,2.5 0.7,-15 0.7,1.3 0.7,9.8 0.7,-7 0.7,3.4 0.7,9.1 0.7,-4.9 0.7,-2 0.7,1.1 0.7,12.8 0.7,-5.8 0.7,13.3 0.7,-22.6 0.7,-0.9 0.7,12.5 0.7,-27.8 0.7,12 0.7,6.4 0.7,1.2 0.7,-16 0.7,14.9 0.7,-5 0.7,2.5 0.7,1.9 0.7,-3.3 0.7,21.8 0.7,-15.7 0.7,-6 0.7,2.4 0.7,8.7 0.7,-2.3 0.7,4.4 0.7,-12.6 0.7,2.5 0.7,16.8 0.7,-18.3 0.7,15.4 0.7,-7.5 0.7,-11.4 0.7,-8.6 0.7,18.2 0.7,-12 0.7,0 0.7,-9.1 0.7,26.1 0.7,-24.4 0.7,14.1 0.7,3.3 0.7,-1.4 0.7,-1.3 0.7,3.8 0.7,-7.1 0.7,-20.5 0.7,29.6 0.7,-13.4 0.7,7.1 0.7,14 0.7,-26.7 0.7,-13.4 0.7,39.2 0.7,-20.4 0.7,-7.5 0.7,11 0.7,9.2 0.7,-16.3 0.7,15.8 0.7,14 0.7,-6.5 0.7,-12.7 0.7,3.2 0.7,-11.4 0.7,9.7 0.7,-4.2 0.7,-5.9 0.7,-3.1 0.7,29.3 0.7,-16.5 0.7,-9.9 0.7,5.4 0.7,31.4 0.7,-13.1 0.7,-20 0.7,7.3 0.7,6.2 0.7,-11 0.7,-7.4 0.7,1.8 0.7,8.8 0.7,-7 0.7,-4.7 0.7,9.5 0.7,10.5 0.7,-2.2 0.7,-8.2 0.7,19.1 0.7,-24 0.7,6.3 0.7,-11.5 0.7,19.2 0.7,-18.8 0.7,-3.2 0.7,7.7 0.7,23.4 0.7,-9.6 0.7,-5.4 0.7,6.8 0.7,-22 0.7,6.9 0.7,-4.4 0.7,4.4 0.7,4.1 0.7,8.1 0.7,4.3 0.7,-0.2 0.7,15.3 0.7,-28.4 0.7,4.3 0.7,19.5 0.7,-26.7 0.7,4.9 0.7,6.2 0.7,-11.5 0.7,12.1 0.7,6.8 0.7,-20.9 0.7,-10.4 0.7,21.2 0.7,-10 0.7,10.9 0.7,-5.6 0.7,-5.9 0.7,20.1 0.7,-2.8 0.7,-10.4 0.7,-7.3 0.7,-11.7 0.7,2.8 0.7,12.3 0.7,8 0.7,-6.9 0.7,0.8 0.7,-9 0.7,-0.4 0.7,14.8 0.7,5.5 0.7,-23.3 0.7,23.8 0.7,-14.1 0.7,12.8 0.7,-2.6 0.7,4.6 0.7,3.9 0.7,-17.7 0.7,-1.6 0.7,4.7 0.7,-2.9 0.7,12.8 0.7,-6.9 0.7,1 0.7,3.7 0.7,-7.9 0.7,14 0.7,-26.2 0.7,34.1 0.7,-13.2 0.7,-0.7 0.7,-9.9 0.7,14.3 0.7,-10.9 0.7,-14.3 0.7,5.1 0.7,21.2 0.7,-16.9 0.7,19.6 0.7,0.6 0.7,-14 0.7,6.6 0.7,-12.2 0.7,3.8 0.7,-2.6 0.7,11.6 0.7,-16.8 0.7,10.4 0.7,1.6 0.7,15.9 0.7,-35.3 0.7,3.1 0.7,8.1 0.7,5.9 0.7,3.3 0.7,0.5 0.7,16.4 0.7,-12.2 0.7,-0.6 0.7,-9.6 0.7,11.4 0.7,-0.8 0.7,-0.1 0.7,-7 0.7,6.6 0.7,8.1 0.7,-20.7 0.7,-12.2 0.7,26.7 0.7,-0.8 0.7,-8.6 0.7,-1.8 0.7,28.6 0.7,-38 0.7,2.5 0.7,6.7 0.7,8.8 0.7,-9.9 0.7,2 0.7,6.2 0.7,-6.5 0.7,5 0.7,-1.5 0.7,-9.1 0.7,10.2 0.7,-11 0.7,18.7 0.7,-16.6 0.7,-8.1 0.7,0.2 0.7,12.3 0.7,-7.1 0.7,24.5 0.7,-14.4 0.7,5.8 0.7,-20.3 0.7,4.6 0.7,9.6 0.7,-10.6 0.7,22.4 0.7,-13.8 0.7,5 0.7,1.4 0.7,-4 0.7,8.3 0.7,-12.9 0.7,9.3 0.7,7.4 0.7,-8.7 0.7,-0.8 0.7,-4 0.7,3.5 0.7,5.5 0.7,-8.2 0.7,-12.7 0.7,16.4 0.7,-2.7 0.7,5.5 0.7,-3.8 0.7,13.7 0.7,-24.7 0.7,2.1 0.7,14.5 0.7,-14.9 0.7,12 0.7,-3 0.7,-17.3 0.7,23.4 0.7,6.2 0.7,-10.3 0.7,-14.2 0.7,19.4 0.7,-16.2 0.7,8.1 0.7,4.8 0.7,-10.6 0.7,-8 0.7,13.7 0.7,12.4 0.7,-18.7 0.7,0.7 0.7,13.4 0.7,-7.3 0.7,-3.3 0.7,-1.1 0.7,6.7 0.7,9.8 0.7,-12.8 0.7,-10.7 0.7,9 0.7,-2.2 0.7,6.1 0.7,9.6 0.7,-1.8 0.7,-2.7 0.7,-4.7 0.7,6.1 0.7,-4.1 0.7,-7.1 0.7,1.2 0.7,-4.4 0.7,7 0.7,-0.2 0.7,16.8 0.7,-11.3 0.7,-8.1 0.7,10.1 0.7,-10.9 0.7,13 0.7,-2.1 0.7,2.7 0.7,-18.9 0.7,8.8 0.7,-0.3 0.7,3.6 0.7,3.6 0.7,-14.7 0.7,-13.5 0.7,24.7 0.7,5.8 0.7,-18.2 0.7,-3.8 0.7,23.6 0.7,-12.6 0.7,12.1 0.7,-17.9 0.7,6.7 0.7,3.7 0.7,1.9 0.7,-4.8 0.7,0.6 0.7,9.2 0.7,-12.5 0.7,-1 0.7,1 0.7,-0.7 0.7,5.6 0.7,-2.9 0.7,7.1 0.7,7.1 0.7,-9.7 0.7,-5.6 0.7,13.9 0.7,-15.7 0.7,4.8 0.7,-0.8 0.7,-4.1 0.7,1.6 0.7,4.1 0.7,2.6 0.7,-6.7 0.7,5.6 0.7,0.2 0.7,0.2 0.7,17.6 0.7,-14.4 0.7,-7 0.7,0.2 0.7,1.1 0.7,3.7 0.7,-6.2 0.7,15.5 0.7,-22.5 0.7,15 0.7,-1.1 0.7,-14.2 0.7,15.3 0.7,-0.6 0.7,-10.3 0.7,25.4 0.7,-13.8 0.7,-8.9 0.7,-1.2 0.7,-2.3 0.7,8.6 0.7,-1.7 0.7,-12.6 0.7,3.2 0.7,2.8 0.7,2.7 0.7,0.4 0.7,-2.6 0.7,11.2 0.7,2.6 0.7,-7.5 0.7,-19.4 0.7,17.5 0.7,6.1 0.7,-5.4 0.7,3 0.7,-1.4 0.7,-13.7 0.7,-8.8 0.7,26.9 0.7,-9.7 0.7,8 0.7,-6.1 0.7,1.1 0.7,13.2 0.7,-21.9 0.7,21.9 0.7,-21 0.7,9.9 0.7,3.5 0.7,1.5 0.7,-4.2 0.7,-13.1 0.7,13.9 0.7,5.5 0.7,16 0.7,-5.3 0.7,-13.4 0.7,-13.5 0.7,4.3 0.7,5.1 0.7,8.3 0.7,-3.9 0.7,2.8 0.7,-2.2 0.7,-13 0.7,12.6 0.7,-11.7 0.7,6.6 0.7,-2.6 0.7,4.7 0.7,-12.1 0.7,14.6 0.7,-34 0.7,26 0.7,-1.3 0.7,18.3 0.7,-8.8 0.7,-8.8 0.7,-17 0.7,21.5 0.7,-16 0.7,34.9 0.7,-42.8 0.7,14 0.7,-11.2 0.7,29.8 0.7,-27.9 0.7,32.8 0.7,-18.3 0.7,13.9 0.7,-7.5 0.7,8.4 0.7,-9.9 0.7,-25.6 0.7,19.3 0.7,-7.1 0.7,21.4 0.7,10 0.7,-18 0.7,3.9 0.7,9 0.7,-17.8 0.7,21.6 0.7,-14.6 0.7,-3.7 0.7,-10.8 0.7,7.2 0.7,5.4 0.7,-1.6 0.7,-2.5 0.7,3.7 0.7,-9.2 0.7,9.7 0.7,-13.2 0.7,5.8 0.7,1.1 0.7,-0.5 0.7,11 0.7,-3.5 0.7,-10.4 0.7,6.4 0.7,10.3 0.7,3.9 0.7,-23.3 0.7,8.9 0.7,4.7 0.7,2 0.7,9.1 0.7,-6.3 0.7,-18 0.7,25.7 0.7,-23.1 0.7,10.3 0.7,4 0.7,5.5 0.7,-2.2 0.7,-0.2 0.7,3.5 0.7,-12.3 0.7,7.8 0.7,20.8 0.7,-33.7 0.7,-5.4 0.7,3.4 0.7,20.7 0.7,-11.4 0.7,-3.7 0.7,5.2 0.7,2 0.7,4.9 0.7,-25.1" fill="none" stroke="#ff0000" stroke-width="2.5" stroke-linejoin="round" stroke-linecap="round"/>
<path d="M608.0,470.0 L609.5,447.0 L611.0,470.0" fill="none" stroke="#ff0000" stroke-width="3.0" stroke-linejoin="round" stroke-linecap="round"/>
<path d="M282.0 409.0l1,-0.2 1,-0.9 1,-0.8 1,-0.2 1,-0.5 1,-1.4 1,-1.5 1,-1.3 1,-0.6 1,0.1 1,0.6 1,0.7 1,0.5 1,-0.4 1,-1.6 1,-1.4" fill="none" stroke="#0000ff" stroke-width="15.0" stroke-linejoin="round" stroke-linecap="round"/>
<path d="M298.0 400.1l1,0.1 1,0.7 1,-0.5 1,-1.1 1,-0.6 1,-0.1 1,0.5 1,0.4 1,-0.2 1,-0.2 1,-0.2 1,-0.7 1,-0.7 1,-0.4 1,-0.8 1,-0.5 1,0.2 1,0 1,-0.6 1,-0.3 1,0 1,0.2 1,0.4 1,-1.1 1,-1.6 1,-0.5 1,0.1 1,-0.1 1,-0.2 1,-0.1 1,0 1,-0.5 1,-1.4 1,-1.2 1,-0.8 1,-1 1,-0.9 1,-0.2 1,0.8 1,0.5 1,-0.9 1,-1.9 1,-1.2 1,-0.7 1,-0.9 1,0.1 1,1 1,0.4 1,-1.4 1,-2.8 1,-2.6 1,-1.9 1,-2.1 1,-2.9 1,-2.7" fill="none" stroke="#0000ff" stroke-width="15.5" stroke-linejoin="round" stroke-linecap="round"/>
<path d="M353.0 367.0l1,-1.8 1,-1.4 1,-1.3 1,-0.7 1,0.2 1,0.8 1,0.8 1,-0.1 1,-0.6 1,-0.6 1,-0.2 1,-0.2 1,-0.6 1,-1.2 1,-1.5 1,-1.6 1,-1.8 1,-1 1,0.2 1,0.9 1,1.1 1,-0.1 1,-1.7 1,-1.6 1,-0.7 1,-1.1 1,-1.9 1,-2.1 1,-2.2 1,-3 1,-3.4 1,-2.8 1,-2.6 1,-2.6 1,-2 1,-1.5 1,-1.3 1,-1.8 1,-2.6 1,-2.8 1,-3 1,-2.7 1,-1.6 1,-1.1 1,-1.3 1,-1.3 1,-1.1 1,-1 1,-1 1,-1.2 1,-1.5 1,-0.7 1,1.1 1,0.8 1,-0.5 1,-0.7 1,0 1,0.7 1,1 1,0.3 1,-0.2 1,-0.2 1,0.3 1,1.3 1,1.7 1,1.2 1,0.3 1,-0.4 1,-0.5 1,0 1,0.6 1,0.5 1,0.2 1,-0.1 1,0.2 1,1.4 1,1.4 1,0.1 1,0.3 1,1.2 1,0.6 1,-0.5 1,-0.4 1,0.1 1,0.8 1,1.6 1,1.1 1,0.3 1,0.2 1,0.3 1,-0.1 1,-0.5 1,-0.3 1,0.8 1,1.2 1,0.4 1,-0.1 1,-0.3 1,-0.3 1,0.3 1,0.4 1,0.1 1,0.1 1,0.6 1,0.5 1,-0.5 1,-1.7 1,-1.7 1,-0.5 1,0.7 1,0.3 1,-0.6 1,-0.3 1,-0.1 1,-0.4 1,-0.9 1,-1 1,-0.8 1,-0.7 1,0.1 1,0.7 1,0.6 1,0 1,-1.8 1,-2.9 1,-1.4 1,0 1,0.2 1,-0.1 1,-0.9 1,-1.9 1,-0.8 1,0.8 1,0.5 1,-0.4 1,-1.1 1,-1.4 1,-1.1 1,-0.4 1,-0.5 1,-0.1 1,0.7 1,0.2 1,-1.1 1,-2.1 1,-2.2 1,-2 1,-1.6 1,-1.5 1,-1.4 1,-1.1 1,-0.9 1,-1.7 1,-2.2 1,-1.6 1,-1.5 1,-1.9 1,-1.6 1,-0.4 1,0 1,-0.7 1,-1 1,-0.9 1,-1.4 1,-3 1,-4 1,-3.7 1,-3.5 1,-2.1 1,0 1,-0.3 1,-2.5 1,-3.3 1,-2.1 1,-1.2 1,-2 1,-2.7 1,-2.5 1,-2 1,-1.9 1,-2.6 1,-3.2 1,-3.1 1,-2.3 1,-2.2 1,-2.6 1,-3 1,-2.8 1,-2.2 1,-1.6 1,-0.9 1,-2 1,-3.2 1,-3.5 1,-4 1,-3.7 1,-2.2 1,-1.8 1,-2.8 1,-3 1,-2.3 1,-1.5 1,-1.5 1,-1.8 1,-1.7 1,-1.7 1,-2.4 1,-2.3 1,-0.6" fill="none" stroke="#0000ff" stroke-width="16.0" stroke-linejoin="round" stroke-linecap="round"/>
<path d="M562.0 166.7l1,0.8 1,0.2 1,-1 1,-1.7" fill="none" stroke="#0000ff" stroke-width="15.5" stroke-linejoin="round" stroke-linecap="round"/>
<path d="M566.0 165.0l1,-1.6 1,-1.2 1,-0.7 1,0" fill="none" stroke="#0000ff" stroke-width="15.0" stroke-linejoin="round" stroke-linecap="round"/>
<path d="M570.0 161.5l1,0.7 1,0.5 1,-0.6 1,-1.5" fill="none" stroke="#0000ff" stroke-width="14.5" stroke-linejoin="round" stroke-linecap="round"/>
<path d="M574.0 160.6l1,-1.1 1,-0.2 1,-0.1" fill="none" stroke="#0000ff" stroke-width="14.0" stroke-linejoin="round" stroke-linecap="round"/>
<path d="M577.0 159.2l1,-1.5 1,-2.8 1,-3 1,-2.1" fill="none" stroke="#0000ff" stroke-width="13.5" stroke-linejoin="round" stroke-linecap="round"/>
<path d="M581.0 149.8l1,-1 1,-1.2 1,-2.2 1,-2.5" fill="none" stroke="#0000ff" stroke-width="13.0" stroke-linejoin="round" stroke-linecap="round"/>
<path d="M585.0 142.9l1,-2.8 1,-3.6 1,-4.1 1,-3.5" fill="none" stroke="#0000ff" stroke-width="12.5" stroke-linejoin="round" stroke-linecap="round"/>
<path d="M589.0 128.9l1,-3 1,-3" fill="none" stroke="#0000ff" stroke-width="12.0" stroke-linejoin="round" stroke-linecap="round"/>
<path d="M591.0 122.9l1,-3.2 1,-3" fill="none" stroke="#0000ff" stroke-width="11.5" stroke-linejoin="round" stroke-linecap="round"/>
<path d="M593.0 116.7l1,-3.6" fill="none" stroke="#0000ff" stroke-width="11.0" stroke-linejoin="round" stroke-linecap="round"/>
<path d="M594.0 113.1l1,-4.9" fill="none" stroke="#0000ff" stroke-width="10.5" stroke-linejoin="round" stroke-linecap="round"/>
<path d="M595.0 108.2l1,-4.9 1,-4.3" fill="none" stroke="#0000ff" stroke-width="10.0" stroke-linejoin="round" stroke-linecap="round"/>
<path d="M597.0 99.0l1,-4.3" fill="none" stroke="#0000ff" stroke-width="9.5" stroke-linejoin="round" stroke-linecap="round"/>
<path d="M598.0 94.7l1,-3.8 1,-2.9" fill="none" stroke="#0000ff" stroke-width="9.0" stroke-linejoin="round" stroke-linecap="round"/>
<path d="M600.0 88.0l1,-3" fill="none" stroke="#0000ff" stroke-width="8.5" stroke-linejoin="round" stroke-linecap="round"/>
<path d="M601.0 85.0l1,-3.3" fill="none" stroke="#0000ff" stroke-width="8.0" stroke-linejoin="round" stroke-linecap="round"/>
<path d="M602.0 81.7l1,-1.1 1,2.9" fill="none" stroke="#0000ff" stroke-width="7.5" stroke-linejoin="round" stroke-linecap="round"/>
<path d="M604.0 83.5l1,6" fill="none" stroke="#0000ff" stroke-width="7.0" stroke-linejoin="round" stroke-linecap="round"/>
<path d="M605.0 89.5l1,7.4" fill="none" stroke="#0000ff" stroke-width="7.5" stroke-linejoin="round" stroke-linecap="round"/>
<path d="M606.0 96.9l1,8.5" fill="none" stroke="#0000ff" stroke-width="8.0" stroke-linejoin="round" stroke-linecap="round"/>
<path d="M607.0 105.4l1,9.1" fill="none" stroke="#0000ff" stroke-width="8.5" stroke-linejoin="round" stroke-linecap="round"/>
<path d="M608.0 114.5l1,8.7" fill="none" stroke="#0000ff" stroke-width="9.0" stroke-linejoin="round" stroke-linecap="round"/>
<path d="M609.0 123.2l1,8.6 1,8.2" fill="none" stroke="#0000ff" stroke-width="9.5" stroke-linejoin="round" stroke-linecap="round"/>
<path d="M611.0 140.0l1,7.2" fill="none" stroke="#0000ff" stroke-width="10.0" stroke-linejoin="round" stroke-linecap="round"/>
<path d="M612.0 147.2l1,6.9" fill="none" stroke="#0000ff" stroke-width="10.5" stroke-linejoin="round" stroke-linecap="round"/>
<path d="M613.0 154.1l1,5.5" fill="none" stroke="#0000ff" stroke-width="11.0" stroke-linejoin="round" stroke-linecap="round"/>
<path d="M614.0 159.6l1,3.2" fill="none" stroke="#0000ff" stroke-width="11.5" stroke-linejoin="round" stroke-linecap="round"/>
<path d="M615.0 162.8l1,2.1 1,3.1 1,4.6 1,4.5 1,2.6" fill="none" stroke="#0000ff" stroke-width="12.0" stroke-linejoin="round" stroke-linecap="round"/>
<path d="M620.0 179.7l1,1.2 1,1.5 1,1.8 1,0.8 1,-0.4 1,-1.2 1,-1.6 1,-1.8" fill="none" stroke="#0000ff" stroke-width="12.5" stroke-linejoin="round" stroke-linecap="round"/>
<path d="M628.0 180.0l1,-1.6 1,-1.3 1,-1.1 1,-0.7 1,-1.3 1,-3.2 1,-4.4 1,-4.1 1,-3.4" fill="none" stroke="#0000ff" stroke-width="13.0" stroke-linejoin="round" stroke-linecap="round"/>
<path d="M637.0 158.9l1,-3.1 1,-1.8 1,-0.9 1,-2 1,-3.6 1,-3.5 1,-2 1,-0.6" fill="none" stroke="#0000ff" stroke-width="13.5" stroke-linejoin="round" stroke-linecap="round"/>
<path d="M645.0 141.4l1,-0.2 1,-1.3 1,-3.4 1,-4.1 1,-2.8 1,-1.5 1,-1.1 1,-0.7 1,0.3" fill="none" stroke="#0000ff" stroke-width="14.0" stroke-linejoin="round" stroke-linecap="round"/>
<path d="M654.0 126.6l1,1.2 1,1.9 1,1.5 1,0.3 1,0.2 1,0.7 1,1 1,0.8" fill="none" stroke="#0000ff" stroke-width="14.5" stroke-linejoin="round" stroke-linecap="round"/>
<path d="M662.0 134.2l1,0.7 1,0.9 1,2.1 1,2.9 1,2.4 1,1.9 1,1.1 1,0.9 1,2.1" fill="none" stroke="#0000ff" stroke-width="15.0" stroke-linejoin="round" stroke-linecap="round"/>
<path d="M671.0 149.2l1,3.4 1,3.1 1,2.8 1,2.4 1,1.5 1,1.3 1,2.5 1,3.3" fill="none" stroke="#0000ff" stroke-width="15.5" stroke-linejoin="round" stroke-linecap="round"/>
<path d="M679.0 169.5l1,2.5 1,2.6 1,3.9 1,3.8 1,2.4 1,1.6 1,2 1,3.6 1,4.2" fill="none" stroke="#0000ff" stroke-width="16.0" stroke-linejoin="round" stroke-linecap="round"/>
<path d="M688.0 196.1l1,3.1 1,1.9 1,1.2 1,1.2 1,2 1,3.1 1,3.4 1,2.9" fill="none" stroke="#0000ff" stroke-width="16.5" stroke-linejoin="round" stroke-linecap="round"/>
<path d="M696.0 214.9l1,2.8 1,2.1 1,1.2 1,1.5 1,1.6 1,1.1 1,0.6 1,0.4 1,0.4 1,0.5 1,1 1,1.8 1,1.1 1,0.2 1,0.4 1,0.8 1,1.2 1,1.7 1,1.4 1,0.9 1,0.3 1,0.2 1,0.2 1,0.6 1,0.9 1,0.8 1,0.3 1,-0.3 1,-0.2 1,0.8 1,1.2 1,0.4 1,-0.4 1,-0.5 1,0.1 1,0.4 1,-0.1 1,0.4 1,1.5 1,0.8 1,-0.7 1,-0.4 1,0.3 1,0.9 1,0.7 1,0.3 1,0.3 1,0.5 1,0.2 1,-0.4 1,-0.9 1,-0.5 1,1.1 1,1.8 1,0.7 1,-0.1 1,0 1,0.4 1,0.7 1,-0.3 1,-1.8 1,-1.6 1,0 1,1.4 1,1.8 1,0.3 1,-1 1,-0.4 1,0.9 1,0.2 1,-0.4 1,0.3 1,1 1,0.5 1,-0.4 1,-0.7 1,0.1 1,1.4 1,2 1,0.3 1,-1.3 1,-1.4 1,-0.1 1,1.2 1,1.6 1,0.8 1,0.1 1,0.2 1,1.2 1,2 1,1.9 1,0.5 1,-1.1 1,-1 1,-0.1 1,0.2 1,0.4 1,0.6 1,1 1,1.1 1,0.9 1,0.2 1,-0.2 1,-0.3 1,0.3" fill="none" stroke="#0000ff" stroke-width="17.0" stroke-linejoin="round" stroke-linecap="round"/>
<path d="M801.0 262.2l1,0.9 1,1 1,0.8 1,0.1 1,-0.1 1,0.1 1,0.3 1,0.4 1,0.3 1,0.6 1,1.5 1,1.4 1,0.4 1,0.1 1,0 1,0.2 1,0.6 1,0.6 1,0.3 1,0.5 1,0.8 1,0.7 1,0.2 1,0.1 1,0 1,0.2 1,0.9 1,1.1 1,0.5 1,-0.1 1,-0.2 1,0.6 1,1 1,0.3 1,-0.5 1,0 1,1.4 1,1.6 1,0.1 1,-1 1,-0.7 1,0.1 1,-0.5 1,-0.7 1,0.1 1,0.2 1,0.7 1,1.7 1,1.7 1,1 1,1.2 1,1.4 1,0 1,-1.3 1,-1.4 1,-0.3 1,1.3 1,1.9 1,1.6 1,1 1,0.5 1,0.3 1,1 1,1.7 1,1.4 1,0.8 1,0.1 1,-0.2 1,-0.2 1,-0.2 1,0.8 1,1.7 1,1.3 1,0 1,-0.5 1,0.1 1,0 1,-0.5 1,0.3 1,1.7 1,1.8 1,0.5 1,-0.3 1,-0.3 1,-0.7 1,-0.6 1,1.1 1,2.2 1,1.8 1,1 1,-0.2 1,-0.7 1,-0.5 1,-0.3 1,-0.2 1,0.7 1,1.4 1,0.6 1,-0.8 1,-0.5 1,0.6 1,0.8 1,0.2 1,-0.5 1,-0.9 1,-0.2 1,0.8 1,0.9 1,-0.4 1,-1.3 1,-0.3 1,0.4 1,0.1 1,0.6 1,1.4 1,0.9 1,-0.2 1,-0.1 1,0.1 1,0 1,-0.6 1,-1 1,-0.5 1,0.3 1,0.6 1,0.4 1,-0.2 1,-0.5 1,0.1 1,0.5 1,0.1 1,-0.1 1,0.8 1,1.9 1,1.5 1,-0.5 1,-1.5 1,-0.8 1,-0.5 1,-1.2 1,-1 1,-0.1 1,-0.4 1,-1.3 1,-1.1 1,0.4 1,1 1,0.6 1,0.3 1,0.5 1,0.1 1,-0.3 1,-0.7 1,-0.9 1,-0.3 1,0.5 1,0.6 1,-0.2 1,-0.8 1,-0.2 1,0.2 1,-0.5 1,-1 1,0.1 1,2.1 1,1.9 1,0.1 1,-0.7 1,0.1 1,-0.1 1,-1.1 1,-0.5 1,0.3 1,0 1,-0.3 1,0.3 1,1 1,0.1 1,-1.4 1,-2.1 1,-1.4 1,0.2 1,0.6 1,0.3 1,-0.6 1,-1.3 1,-1 1,0 1,0 1,-0.3 1,-0.5 1,-0.6 1,0.3 1,1.5 1,1.7 1,0.8 1,-0.6 1,-2.4 1,-2.6" fill="none" stroke="#0000ff" stroke-width="17.5" stroke-linejoin="round" stroke-linecap="round"/>
<path d="M1000.0 296.0l1,-1 1,0.1 1,0.5 1,-0.1 1,-0.5 1,0 1,0.3 1,0.5 1,0.2 1,-0.2 1,-0.6 1,-0.9 1,-1 1,0 1,1.7 1,2.1 1,0.7 1,-1.2 1,-2 1,-1.3 1,-0.4 1,-0.4 1,-0.4 1,0.2 1,0.6 1,0.5 1,0.5 1,1 1,2.1 1,2.1 1,0.5 1,0.2 1,0.7 1,0.3 1,0.2 1,1.1 1,1.7 1,1.3 1,1 1,0.6 1,-0.1 1,0.2 1,0.7 1,0.1 1,-0.5 1,0.2 1,1.7 1,2.1 1,1.3 1,0 1,-0.4 1,0.2 1,0.4 1,0.3 1,0.1 1,-0.6 1,-0.4 1,0.6 1,1.1 1,1.7 1,2.2 1,1.8 1,0.5 1,-1.1 1,-1.2 1,-0.1 1,0.7 1,1.1 1,1 1,0.3 1,0.7 1,1.8 1,1.9 1,1.3 1,1.2 1,1.1 1,1.3 1,1.2 1,0.7 1,0.2 1,-0.3 1,-0.1 1,0.9 1,1.3 1,1.1 1,1.4 1,1.4 1,0.1 1,-0.9 1,0 1,1.3 1,1.1 1,0.7 1,0.5 1,0.6 1,0.5 1,0.5 1,1.3 1,1.9 1,0.3 1,-1.5 1,-1.2 1,0.2 1,0.5 1,0 1,0.1 1,0.2 1,-0.1 1,-0.3 1,-0.3 1,-0.2 1,0.8 1,1.6 1,1.2 1,-0.1 1,-0.1 1,1.3 1,1.7 1,0.7 1,-0.4 1,-0.2 1,0.1 1,-0.3 1,0 1,1.3 1,1.8 1,0.9 1,0 1,-0.3 1,-0.2 1,0.2 1,1.2 1,1.3 1,-0.4 1,-1.1 1,-0.2 1,0.7 1,0 1,-1.3 1,-0.9 1,0.7 1,1.5 1,1.4 1,0.9 1,0.1 1,-0.5 1,0.1 1,1.4 1,1.3 1,-0.2 1,-0.6 1,0 1,-0.2 1,-0.6 1,-0.1 1,0.7 1,0.3 1,-0.2 1,-0.1 1,0 1,0 1,-0.3 1,0 1,0.8 1,0.5 1,-0.1 1,0.2 1,0.2 1,-0.1 1,0.2 1,1.3 1,2.4 1,1.9 1,-0.1 1,-1.4 1,-0.9 1,-0.1 1,0.2 1,0 1,-0.3 1,0.4 1,0.7 1,0.3 1,-0.6 1,-0.5 1,0.4 1,0.6 1,0 1,-0.8 1,-1.1 1,0 1,1.5 1,1.3 1,0.3 1,0 1,-0.2 1,-0.7 1,-0.3 1,0.6 1,0.5 1,0 1,0 1,-0.3 1,0.2 1,0.6 1,-0.3 1,-0.4 1,0.9 1,1.5 1,0.6 1,-0.3 1,-0.1 1,-0.1 1,-0.3 1,-0.1 1,-0.2 1,-0.2 1,0.1 1,0.4 1,0.2 1,0.1 1,0.7 1,1.2 1,0.8 1,0.7 1,0.6 1,0.3 1,-0.4 1,-0.9 1,-0.4 1,0.8 1,0.8 1,-1 1,-2.1 1,-0.2 1,1.5 1,1.3 1,0.1 1,-0.2 1,0 1,0.1 1,-0.3 1,-0.9 1,-0.8 1,0.1 1,0.8 1,0.6 1,-0.2 1,-0.4 1,-0.3 1,-0.6 1,-0.5 1,0.4 1,1.6 1,1.6 1,0.8 1,0.1 1,-0.1 1,-0.2 1,0 1,0.5 1,0 1,-0.7 1,-0.5 1,-0.1 1,0.1 1,0.3 1,0.6 1,0.1 1,-0.2 1,0 1,0.5 1,0.7 1,1 1,1.2 1,0.8 1,0 1,-1 1,-1.4 1,-0.3 1,0.4 1,0.2 1,-0.4 1,-1 1,-0.9 1,-0.2 1,0.4 1,0.9 1,0.7 1,0.3 1,0.4 1,-0.3 1,-1.1 1,-1 1,0 1,0.8 1,1.9 1,1.7 1,0.3 1,-0.3 1,-0.2" fill="none" stroke="#0000ff" stroke-width="18.0" stroke-linejoin="round" stroke-linecap="round"/>
<path d="M1301.0 376.9l1,0.4 1,0.7 1,1 1,1.3 1,0.7 1,-0.7 1,-1.1 1,-0.4 1,0.5 1,0.8 1,0.7 1,0.3 1,-0.6 1,-1 1,0.1 1,0.7 1,-0.2 1,-0.6 1,-0.3 1,0.8 1,2.2 1,1.7 1,-0.8 1,-2.1 1,-0.9 1,0.7 1,0.6 1,-0.2 1,0.4 1,1 1,0 1,-1.3 1,-1.7 1,-0.8 1,0 1,0.8 1,1.5 1,1.6 1,1.6 1,1 1,-0.5 1,-0.9 1,0 1,-0.1 1,-1.3 1,-0.9 1,-0.2 1,0.4 1,-0.1 1,-0.9 1,0 1,1.1 1,1.2 1,0.8 1,0.3 1,0 1,-0.6 1,-1 1,-0.1 1,0.7 1,0.6 1,0 1,-0.3 1,0.5 1,1 1,0.6 1,0.9 1,1.4 1,-0.2 1,-1.1 1,0.5 1,1.2 1,-0.4 1,-1.4 1,-1.3 1,-0.6 1,0.1 1,0.5 1,0.3 1,-0.4 1,-0.7 1,-0.3 1,0.2 1,0.6 1,1.2 1,1.2 1,0.4 1,-0.1 1,-0.4 1,-0.4 1,-0.3 1,0.1 1,0.2 1,0.2 1,0.4 1,-0.4 1,-1 1,-0.4 1,0.3 1,0.5 1,0.6 1,-0.2 1,-1.4 1,-1.5 1,-0.2 1,1 1,2.1 1,1.5 1,-0.3 1,-0.8 1,0.6 1,1.4 1,0.6 1,0.4 1,1.3 1,1 1,-0.6 1,-1.4 1,-0.9 1,-0.8 1,-1 1,-0.6 1,0.1 1,0.4 1,1.1 1,1.4 1,0.6 1,-1 1,-0.7 1,0.4 1,0.7 1,-0.1 1,-1.3 1,-1.5 1,-0.5 1,0.9 1,1.3 1,0.1 1,-0.3 1,0.2 1,0.8 1,0.1 1,-0.6 1,-1.1 1,-0.5 1,0.7 1,0.8 1,-0.3 1,0.2 1,0.6 1,0.1 1,-0.1 1,0.4 1,0.1 1,-0.7 1,-0.7 1,0.1 1,0.6 1,0.9 1,1.2 1,1 1,0.2 1,0.1 1,0.8 1,0.9 1,0.3 1,-0.6 1,-1.2 1,-0.7 1,-0.6 1,-0.5 1,-0.2 1,-0.3 1,-0.7 1,-0.5 1,0.8 1,1.8 1,1.5 1,0.3 1,-0.9 1,-0.9 1,-0.2 1,0.6 1,0.9 1,1 1,0.1 1,-1.6 1,-2.1 1,-1 1,0.3 1,1.4 1,1.5 1,0.1 1,-0.2 1,0.9 1,0.5 1,-0.8 1,-0.8 1,0.4 1,1.1 1,1.3 1,1.1 1,0.5 1,0.1 1,-0.7 1,-1.8 1,-1.5 1,0 1,0.6 1,0.5 1,0.1 1,-0.3 1,0.4 1,1.1 1,0.6 1,0.2 1,0.1 1,-0.6 1,-1.9 1,-1.9 1,-0.3 1,0.8 1,1 1,1.3 1,0.5 1,-0.4 1,0.1 1,0.5 1,-0.6 1,-0.7 1,0.4 1,0.5 1,0.1 1,-0.1 1,-0.4 1,-0.1 1,0.7 1,0.5 1,0 1,0.5 1,1.2 1,0.8 1,-0.3 1,-0.7 1,-0.5 1,0 1,0.7 1,0.7 1,-0.1 1,-1.2 1,-1.2 1,0.1 1,1 1,1.2 1,0.6 1,0.2 1,0.1 1,-0.6 1,-2 1,-2.1 1,-0.7 1,1.1 1,1.7 1,1 1,0.9 1,1 1,0.3 1,-0.8 1,-1.3 1,-0.8 1,-0.1 1,-0.1 1,0.1 1,0.5 1,-0.1 1,-0.9 1,-0.4 1,0.4 1,0.9 1,0.7 1,-0.1 1,-0.6 1,-0.4 1,0.3 1,0.3 1,-0.3 1,-1.3 1,-1.3 1,0.9 1,2.2 1,1.4 1,-0.3 1,-1 1,0.1 1,1.5 1,0.6 1,-1.3 1,-1.5 1,0.1 1,2.2 1,2 1,0 1,-1 1,-1.4 1,-0.9 1,-0.4 1,-0.5 1,0.3 1,1 1,0.7 1,-0.2 1,-1 1,-1.3 1,-0.6 1,0 1,-0.3 1,-0.7 1,-0.2 1,-0.2 1,-0.5 1,0.1 1,1.2 1,2.1 1,1.7 1,0.1 1,-1.3 1,-0.4 1,0.7 1,0.4 1,0.4 1,0.1 1,-1.2 1,-1.4 1,-0.1 1,0.9 1,0.1 1,-0.7 1,0.4 1,1.1 1,0.7 1,0 1,-0.1 1,-0.7 1,-0.9 1,0.1 1,0.2 1,-0.8 1,-0.4 1,1.3 1,1.8 1,0.4 1,-0.3 1,0.3 1,0.3 1,0.6 1,0.6 1,-0.5 1,-1.3 1,-1.1 1,-0.5 1,-0.5 1,1 1,2.5 1,1.4 1,-0.4 1,-0.5 1,0.6 1,0.8 1,-0.9 1,-2.1 1,-2 1,-1.4 1,-0.9 1,0.3 1,1.2 1,0.9 1,1.1 1,1.7 1,1.6 1,0.1 1,-0.8 1,-1 1,-0.9 1,-0.3 1,-0.2 1,-0.7 1,-0.5 1,0.4 1,1.4 1,0.9 1,-0.6 1,-1.1 1,-1 1,-0.3 1,1.6 1,2.6 1,1.2 1,-1.1 1,-1.4" fill="none" stroke="#0000ff" stroke-width="17.5" stroke-linejoin="round" stroke-linecap="round"/>
<path d="M1700.0 400.7l1,-0.3 1,0.3 1,0.3 1,0.1 1,-0.2 1,-0.6 1,-1.1 1,-1.2 1,-0.8 1,-0.1 1,0.4 1,0.5 1,0.7 1,0.6 1,-0.3 1,-0.9 1,-0.2 1,1.2 1,2.1 1,1.3 1,-0.2 1,-0.9 1,-0.6 1,-0.6 1,-0.5 1,-0.8 1,0.4 1,2.2 1,0.5 1,-1.3 1,-0.9 1,-0.4 1,-0.7 1,-0.5 1,0.5 1,1.4 1,1.2 1,0.8 1,0.4 1,-0.3 1,-1.5 1,-2 1,-1.1 1,0.6 1,1.2 1,0.5 1,-0.1 1,-0.5 1,-0.7 1,-0.1 1,0.3 1,0.9 1,0.8 1,-0.1 1,-0.9 1,-0.4 1,0.7 1,1.5 1,1.8 1,0.9 1,-1.1 1,-2 1,-1.6 1,-1.2 1,-0.5 1,0.2 1,0.7 1,0.9 1,0.5 1,-0.2 1,-0.4 1,0.7 1,1.6 1,1.4 1,0.6 1,-0.2 1,-0.6 1,-0.4 1,0.4 1,0.2 1,-0.6 1,0.2 1,0.6 1,-0.2 1,-0.4 1,-0.6 1,-1.1 1,-1 1,-0.8 1,-0.4 1,0.4 1,0.8 1,0.5 1,0.2 1,0.6 1,1.5 1,0.6 1,-0.9 1,-1.1 1,-0.3 1,0 1,-0.4 1,0.1 1,1.4 1,0.7 1,-0.8 1,-0.4 1,0.2 1,0.1 1,-0.3 1,-0.4 1,0.4 1,0.5 1,-0.6 1,-0.6 1,0 1,0.6 1,0.4 1,-0.4 1,-0.5 1,-0.3 1,-0.3 1,-1 1,-1.1 1,0.2 1,1 1,1.2 1,0.6 1,-0.6 1,0.3 1,1.4 1,1 1,0 1,-1 1,-0.9 1,0.6 1,1.1 1,0.1 1,-0.8 1,-0.7 1,-0.2 1,0.7 1,0.6 1,-0.9 1,-1.2 1,0.4 1,1 1,0.3 1,-0.8 1,-1 1,-0.9 1,-0.6" fill="none" stroke="#0000ff" stroke-width="17.0" stroke-linejoin="round" stroke-linecap="round"/>
<path d="M275.0 414.6l0.7,-11.8 0.7,8.4 0.7,-2.4 0.7,-16.9 0.7,16.4 0.7,-1.3 0.7,-1.6 0.7,-11.4 0.7,11.7 0.7,2.7 0.7,1.1 0.7,-11.7 0.7,16.1 0.7,-17.3 0.7,8.9 0.7,14 0.7,-18.8 0.7,1.5 0.7,14.4 0.7,-13.7 0.7,0.6 0.7,4.6 0.7,7.4 0.7,-30.4 0.7,12.5 0.7,-1.9 0.7,-1 0.7,1.8 0.7,-0.1 0.7,10.3 0.7,-11.3 0.7,9 0.7,2.3 0.7,-10.7 0.7,7.7 0.7,13.6 0.7,-12.4 0.7,-9.2 0.7,5 0.7,-8.1 0.7,10.7 0.7,5.1 0.7,-15.7 0.7,5.3 0.7,11.9 0.7,-15.1 0.7,6 0.7,-11.4 0.7,1.6 0.7,2.5 0.7,24 0.7,-23.5 0.7,-1.4 0.7,-0.6 0.7,3.3 0.7,7.1 0.7,-4.5 0.7,16.6 0.7,-16.9 0.7,10.8 0.7,-10.8 0.7,2.7 0.7,-18.7 0.7,11.5 0.7,0.3 0.7,-1.9 0.7,-17.4 0.7,27 0.7,-11.7 0.7,-0.7 0.7,1.3 0.7,0 0.7,5.4 0.7,-15.4 0.7,2.8 0.7,10.7 0.7,-1.5 0.7,-5 0.7,-2.1 0.7,-2.6 0.7,6.7 0.7,10.8 0.7,-20.4 0.7,22.9 0.7,-6.5 0.7,-12 0.7,10.8 0.7,-20.6 0.7,-2.7 0.7,3.6 0.7,7.6 0.7,0.4 0.7,-2.1 0.7,5.2 0.7,-20.5 0.7,10.7 0.7,-4.9 0.7,6.4 0.7,1.9 0.7,-7.1 0.7,-2.5 0.7,2.5 0.7,8 0.7,4.2 0.7,-1.7 0.7,-15.7 0.7,0.1 0.7,-2.9 0.7,10.5 0.7,-35.4 0.7,39.2 0.7,-4.7 0.7,-15.9 0.7,9.3 0.7,5.6 0.7,-6.5 0.7,6.1 0.7,-8.5 0.7,9.6 0.7,0 0.7,-12.3 0.7,13.6 0.7,-11.6 0.7,-0.9 0.7,-9.3 0.7,19.9 0.7,-5 0.7,-19 0.7,17.4 0.7,-2.9 0.7,-0.9 0.7,-22.6 0.7,18.6 0.7,6.3 0.7,-13.1 0.7,7.2 0.7,-22.7 0.7,41 0.7,-26.6 0.7,13.3 0.7,-24.9 0.7,22.3 0.7,-8.9 0.7,8.9 0.7,-16.2 0.7,2.2 0.7,25 0.7,-41.4 0.7,12.8 0.7,2.5 0.7,-8.2 0.7,18.2 0.7,3.1 0.7,-36.2 0.7,1.6 0.7,24.3 0.7,-2.4 0.7,-18.7 0.7,15.6 0.7,-19.9 0.7,4.7 0.7,-12.5 0.7,-1.8 0.7,20.2 0.7,-6.4 0.7,15.4 0.7,-30.8 0.7,1.9 0.7,11.7 0.7,7.7 0.7,-13.1 0.7,-16.6 0.7,13.1 0.7,7.8 0.7,-17.9 0.7,-3.7 0.7,15 0.7,-8.9 0.7,-12.3 0.7,5.4 0.7,-4.5 0.7,8.5 0.7,-2.7 0.7,8.5 0.7,6.6 0.7,-32.1 0.7,17.5 0.7,-11.7 0.7,12.5 0.7,5.4 0.7,-13.9 0.7,-3.2 0.7,17.3 0.7,-17.6 0.7,-9.5 0.7,29 0.7,-15.4 0.7,4.1 0.7,-9.5 0.7,1 0.7,1.9 0.7,7.5 0.7,6.9 0.7,-23.7 0.7,27.7 0.7,-17.1 0.7,1.3 0.7,16 0.7,-6.5 0.7,-12.8 0.7,45.8 0.7,-39.2 0.7,10.3 0.7,-0.1 0.7,11.1 0.7,-16.5 0.7,13.5 0.7,-15.4 0.7,17 0.7,-16.6 0.7,3.9 0.7,11.6 0.7,-4.8 0.7,-1.5 0.7,19.5 0.7,-16.5 0.7,-10.3 0.7,14.3 0.7,-16.9 0.7,21.2 0.7,1 0.7,-15.7 0.7,-0.1 0.7,7.6 0.7,-1.1 0.7,-8.6 0.7,14.2 0.7,-23.1 0.7,14.7 0.7,-11.8 0.7,13.7 0.7,5.3 0.7,-13.7 0.7,16.4 0.7,-6.9 0.7,-4.2 0.7,-6.4 0.7,1.8 0.7,13.9 0.7,-11.9 0.7,9.3 0.7,9.1 0.7,13.6 0.7,-9.1 0.7,-16.6 0.7,-7.1 0.7,19 0.7,-6.4 0.7,7.3 0.7,-10.2 0.7,10.5 0.7,-3.4 0.7,-12 0.7,8.2 0.7,-1.3 0.7,-1.9 0.7,-0.4 0.7,6.5 0.7,-13.9 0.7,19.9 0.7,-17 0.7,9.4 0.7,-10 0.7,-1.8 0.7,20.1 0.7,-21.4 0.7,7 0.7,-11.3 0.7,19 0.7,6.2 0.7,-17.8 0.7,6.3 0.7,-17.7 0.7,11.9 0.7,2.6 0.7,10 0.7,-7.2 0.7,-4.1 0.7,-3 0.7,-12.2 0.7,8.8 0.7,-18.3 0.7,-2.9 0.7,26 0.7,-0.7 0.7,-9.1 0.7,4.8 0.7,11.9 0.7,-11.2 0.7,6.4 0.7,3.2 0.7,-17.7 0.7,11.7 0.7,-20 0.7,11.4 0.7,-0.6 0.7,0.4 0.7,9.7 0.7,-9.2 0.7,-2.9 0.7,-1.4 0.7,5.2 0.7,-11.5 0.7,3.2 0.7,3.6 0.7,-5 0.7,3.4 0.7,-5.1 0.7,22.6 0.7,-7.1 0.7,-9.2 0.7,-5.9 0.7,18.7 0.7,-18.3 0.7,-5.1 0.7,2 0.7,-1.4 0.7,8.5 0.7,-14.1 0.7,17.9 0.7,-27.9 0.7,13.3 0.7,-16.1 0.7,24.7 0.7,-20.1 0.7,1.8 0.7,8.1 0.7,2.3 0.7,-22 0.7,6.2 0.7,-10.2 0.7,13.1 0.7,-2.8 0.7,-3 0.7,-3.9 0.7,1.8 0.7,-4.4 0.7,10.2 0.7,-5.6 0.7,-19.8 0.7,14.6 0.7,-4.5 0.7,6.4 0.7,-14.7 0.7,5.5 0.7,-9.8 0.7,13.9 0.7,-7 0.7,-4.1 0.7,3.1 0.7,-7.2 0.7,-13.4 0.7,17.6 0.7,-4.4 0.7,-5.7 0.7,8.6 0.7,0.4 0.7,-22.5 0.7,1.2 0.7,19.2 0.7,-2.8 0.7,-21.1 0.7,-5.7 0.7,3.2 0.7,-0.4 0.7,-11.5 0.7,12.8 0.7,-13.5 0.7,-1.1 0.7,17.3 0.7,-16.1 0.7,3.8 0.7,4.5 0.7,-0.1 0.7,-12.1 0.7,1.7 0.7,-9.6 0.7,21.4 0.7,-11.7 0.7,-17.5 0.7,8.1 0.7,4.6 0.7,-4 0.7,10.3 0.7,-6 0.7,-19.1 0.7,2.2 0.7,-12.6 0.7,12 0.7,-2.7 0.7,21.2 0.7,-25 0.7,-21.1 0.7,11.6 0.7,6.1 0.7,-13.3 0.7,2.7 0.7,3.8 0.7,5.5 0.7,-5.3 0.7,-7.3 0.7,5.1 0.7,-3.5 0.7,-0.3 0.7,-8.7 0.7,4.7 0.7,28.3 0.7,-36.7 0.7,13.6 0.7,6.9 0.7,-10.1 0.7,5.4 0.7,-12.4 0.7,21.7 0.7,-2 0.7,-8 0.7,-18.1 0.7,6.1 0.7,17.8 0.7,6 0.7,-13.6 0.7,7.6 0.7,-17.8 0.7,2.5 0.7,0.5 0.7,2.5 0.7,-18.8 0.7,21 0.7,2.2 0.7,-23.6 0.7,-3.1 0.7,13.9 0.7,-10.6 0.7,-17.2 0.7,26.6 0.7,-8.1 0.7,-8.1 0.7,20.7 0.7,-20.3 0.7,1.9 0.7,-7.6 0.7,-12.4 0.7,-0.1 0.7,6.8 0.7,-10.2 0.7,6.3 0.7,5 0.7,-9 0.7,-3.5 0.7,-17 0.7,18.1 0.7,-6.4 0.7,-12.2 0.7,8.1 0.7,-18.9 0.7,1.6 0.7,-7.2 0.7,5.2 0.7,5.4 0.7,6.9 0.7,-5.6 0.7,8.1 0.7,3.5 0.7,3.3 0.7,2.7 0.7,12.9 0.7,-6.2 0.7,5.8 0.7,16.3 0.7,0.2 0.7,2.2 0.7,13.3 0.7,19.4 0.7,-31.2 0.7,37.3 0.7,-5.3 0.7,-6 0.7,-4.7 0.7,22 0.7,8.4 0.7,-21.8 0.7,7.9 0.7,14.3 0.7,-4.4 0.7,16.8 0.7,-21.7 0.7,10.9 0.7,-15.8 0.7,29.9 0.7,-26.2 0.7,-14.2 0.7,17.7 0.7,-1.2 0.7,17.4 0.7,-21.5 0.7,1.9 0.7,4.3 0.7,7.8 0.7,-16.1 0.7,8.7 0.7,-6 0.7,-8.9 0.7,1.7 0.7,-2.1 0.7,-10.4 0.7,17.4 0.7,-25.3 0.7,21.2 0.7,-3.8 0.7,-11.3 0.7,-8 0.7,3.1 0.7,4.5 0.7,0.7 0.7,-5.7 0.7,4.8 0.7,-15.6 0.7,20.1 0.7,-32.2 0.7,19.6 0.7,8.4 0.7,-22 0.7,12.8 0.7,-5.7 0.7,-33.2 0.7,24.6 0.7,-14.8 0.7,21.9 0.7,12.3 0.7,-27.6 0.7,5.3 0.7,-2.9 0.7,5.7 0.7,2.9 0.7,15.4 0.7,-29.5 0.7,23.8 0.7,-22 0.7,11.8 0.7,9 0.7,-3 0.7,-14 0.7,15.8 0.7,-9.3 0.7,4.8 0.7,23.3 0.7,-32.4 0.7,17.1 0.7,2.4 0.7,0.6 0.7,0.4 0.7,10.7 0.7,-8 0.7,4.8 0.7,-1.1 0.7,12.7 0.7,-31.9 0.7,30.6 0.7,-12.4 0.7,1.5 0.7,-4.6 0.7,-6.6 0.7,15.2 0.7,-1.1 0.7,12.4 0.7,-16.2 0.7,28.1 0.7,-8.8 0.7,-2.9 0.7,-2.4 0.7,1.2 0.7,-1.2 0.7,7.3 0.7,6.9 0.7,0.3 0.7,-9.3 0.7,12.4 0.7,-3.8 0.7,11.5 0.7,17.5 0.7,-9.4 0.7,-6.7 0.7,-10.2 0.7,3.8 0.7,-0.7 0.7,23.8 0.7,-11.9 0.7,9.4 0.7,-4.5 0.7,8.3 0.7,13.7 0.7,-17.2 0.7,4.9 0.7,-2.5 0.7,32.1 0.7,-31 0.7,0.3 0.7,-1.2 0.7,0.6 0.7,17.9 0.7,19.7 0.7,-32 0.7,18.3 0.7,-5.9 0.7,-11.8 0.7,8 0.7,1 0.7,-3.7 0.7,24.5 0.7,-34.6 0.7,21.4 0.7,0.1 0.7,-7.8 0.7,7.2 0.7,7.1 0.7,-6.1 0.7,3 0.7,3 0.7,-24.4 0.7,32.6 0.7,7.9 0.7,-11.4 0.7,0.7 0.7,-21.7 0.7,12.2 0.7,-6 0.7,2.4 0.7,14.5 0.7,-16 0.7,6.5 0.7,-16 0.7,16.3 0.7,2.6 0.7,6.9 0.7,-0.9 0.7,11.3 0.7,-28.1 0.7,1.7 0.7,2.5 0.7,18.7 0.7,8.6 0.7,-16 0.7,-9.3 0.7,2.9 0.7,14 0.7,-17.9 0.7,22 0.7,0 0.7,-12.1 0.7,5.5 0.7,1.2 0.7,7.6 0.7,-23.7 0.7,20.7 0.7,-14.2 0.7,-3.5 0.7,8 0.7,-2.8 0.7,-7 0.7,-5.6 0.7,6.1 0.7,22.1 0.7,4.8 0.7,-12 0.7,5 0.7,-15.6 0.7,4.1 0.7,3.4 0.7,-12.5 0.7,0.9 0.7,10.1 0.7,-19 0.7,8.5 0.7,13.4 0.7,-5.9 0.7,11.9 0.7,-9.4 0.7,-2.6 0.7,4 0.7,-2.6 0.7,-4.5 0.7,2.6 0.7,10.7 0.7,-0.8 0.7,6.1 0.7,-27.4 0.7,12.2 0.7,-0.1 0.7,5.5 0.7,-5.6 0.7,-0.4 0.7,12.1 0.7,9.1 0.7,-12.4 0.7,8.8 0.7,-3 0.7,-14.3 0.7,24.9 0.7,-26.1 0.7,17.3 0.7,-12.3 0.7,-5.2 0.7,4.1 0.7,-3.5 0.7,9 0.7,0 0.7,-1.1 0.7,-5.3 0.7,-28.5 0.7,35 0.7,-18.1 0.7,20.1 0.7,8.5 0.7,-7.6 0.7,-5.8 0.7,2.3 0.7,-12.7 0.7,9.9 0.7,0.1 0.7,-2.9 0.7,31.8 0.7,-22.7 0.7,9.3 0.7,-10.8 0.7,3.3 0.7,-1.9 0.7,6.2 0.7,3.7 0.7,-5.1 0.7,-8.1 0.7,-0.7 0.7,23 0.7,-17.7 0.7,0.2 0.7,16.7 0.7,-3.2 0.7,-4.8 0.7,-8.3 0.7,25.9 0.7,-17.9 0.7,1.8 0.7,-6.3 0.7,-11.2 0.7,1.1 0.7,16.5 0.7,0.2 0.7,-5.5 0.7,-8.3 0.7,-2.2 0.7,10.8 0.7,-10.2 0.7,22.3 0.7,2.7 0.7,15.9 0.7,-17.8 0.7,-13.3 0.7,-2.3 0.7,-23.6 0.7,26.9 0.7,4.3 0.7,11 0.7,-3 0.7,0.1 0.7,-3.2 0.7,4.4 0.7,7.6 0.7,-8.5 0.7,-8.7 0.7,-8.5 0.7,28.2 0.7,-2.7 0.7,-4.9 0.7,-17.9 0.7,13 0.7,-3.6 0.7,3.1 0.7,10.6 0.7,-6 0.7,2.9 0.7,0.6 0.7,-5.5 0.7,-4.7 0.7,1.9 0.7,-2.9 0.7,24.5 0.7,-22.4 0.7,5.5 0.7,-6.2 0.7,-10 0.7,22.5 0.7,-18.1 0.7,16.5 0.7,-2.2 0.7,-19.2 0.7,6.8 0.7,4.3 0.7,-2.7 0.7,-3.2 0.7,18.2 0.7,-8.9 0.7,6 0.7,-7.4 0.7,7.1 0.7,-9.7 0.7,7 0.7,5.9 0.7,-4.8 0.7,-4.5 0.7,-5.7 0.7,12 0.7,1.8 0.7,5.5 0.7,-15.5 0.7,12.5 0.7,18.4 0.7,-25.9 0.7,6.2 0.7,0.7 0.7,-27.3 0.7,25.6 0.7,-7.4 0.7,20.1 0.7,-14.9 0.7,-4.4 0.7,5.8 0.7,4.2 0.7,-6.3 0.7,5.4 0.7,-11.7 0.7,11.2 0.7,9.9 0.7,11.8 0.7,-11.3 0.7,-3.6 0.7,9.2 0.7,-1 0.7,6.6 0.7,-4.9 0.7,-10.7 0.7,4.1 0.7,-0.2 0.7,1.7 0.7,-0.4 0.7,-8.7 0.7,-11.9 0.7,14 0.7,-12.3 0.7,20 0.7,-10.6 0.7,-5.3 0.7,22.4 0.7,1.9 0.7,-7.2 0.7,15 0.7,2 0.7,-28.8 0.7,21.2 0.7,-5.5 0.7,-0.1 0.7,5 0.7,-15.4 0.7,1.3 0.7,-2.1 0.7,0.8 0.7,6.3 0.7,-12.6 0.7,4 0.7,15.4 0.7,-6 0.7,4.4 0.7,-21.3 0.7,10.5 0.7,2.3 0.7,5.7 0.7,-5.7 0.7,14.5 0.7,-9.3 0.7,0.9 0.7,0.1 0.7,6.7 0.7,-11 0.7,15.2 0.7,-6.1 0.7,-2.8 0.7,-0.9 0.7,4.7 0.7,4.8 0.7,-0.5 0.7,-5.3 0.7,4.9 0.7,-7 0.7,10.8 0.7,-11.9 0.7,-19.3 0.7,32.4 0.7,-11.4 0.7,-12 0.7,9.3 0.7,-6.3 0.7,28.4 0.7,-15.1 0.7,-19.4 0.7,34.4 0.7,-23.1 0.7,22 0.7,-28.1 0.7,-11.3 0.7,21.9 0.7,-3.9 0.7,-0.6 0.7,-16.4 0.7,24.3 0.7,11.9 0.7,-34 0.7,29.2 0.7,-16.5 0.7,18 0.7,-8.5 0.7,-5.9 0.7,12.3 0.7,-5.5 0.7,-26.5 0.7,28.2 0.7,-11.5 0.7,-12.2 0.7,36.3 0.7,-12.6 0.7,-12.5 0.7,9 0.7,-18 0.7,1.9 0.7,8.1 0.7,-0.3 0.7,5.6 0.7,9.9 0.7,-15.2 0.7,9.1 0.7,1 0.7,-16.1 0.7,12.4 0.7,-11.2 0.7,19 0.7,-5.9 0.7,-4.2 0.7,-13 0.7,13.8 0.7,-8.5 0.7,14 0.7,-8 0.7,-6.6 0.7,16.4 0.7,-2 0.7,-12.6 0.7,16.7 0.7,-14 0.7,-0.2 0.7,4.1 0.7,-8.4 0.7,2.9 0.7,-9.7 0.7,28.3 0.7,-0.4 0.7,-16.8 0.7,17.8 0.7,-15.9 0.7,4 0.7,4.7 0.7,-5.7 0.7,20.2 0.7,-20.8 0.7,-13.8 0.7,23.8 0.7,-16.5 0.7,1 0.7,-25.7 0.7,38 0.7,-1.8 0.7,-0.3 0.7,1.6 0.7,6.8 0.7,-16.7 0.7,9.3 0.7,-16.1 0.7,3.6 0.7,13.4 0.7,-6.4 0.7,-16.6 0.7,16.1 0.7,-5.3 0.7,-6.2 0.7,11.9 0.7,-8.2 0.7,-11.2 0.7,4.2 0.7,27.5 0.7,-31.6 0.7,16.5 0.7,3.6 0.7,0.2 0.7,-18 0.7,8.5 0.7,4.3 0.7,6.2 0.7,-13.9 0.7,-5.1 0.7,20.6 0.7,0.8 0.7,4 0.7,-20.6 0.7,9.6 0.7,-3 0.7,6.9 0.7,-20.1 0.7,12.9 0.7,-2.7 0.7,-9.3 0.7,12.6 0.7,-1.9 0.7,-4.4 0.7,7.6 0.7,-17.5 0.7,13 0.7,4.5 0.7,-1.5 0.7,7.4 0.7,-22 0.7,-3 0.7,16.6 0.7,2 0.7,15.8 0.7,-14.6 0.7,-14.4 0.7,16 0.7,-16 0.7,-6.3 0.7,39.2 0.7,-22 0.7,3.6 0.7,-18.4 0.7,43.5 0.7,-29.7 0.7,8.8 0.7,-21.8 0.7,-3.8 0.7,26.8 0.7,0.2 0.7,-9.6 0.7,-3.1 0.7,-1 0.7,-8.5 0.7,21.1 0.7,-8.9 0.7,-1.8 0.7,-1.5 0.7,6.2 0.7,-5.4 0.7,2.3 0.7,-18.2 0.7,16.5 0.7,16.5 0.7,-25.5 0.7,4.3 0.7,10.4 0.7,1.2 0.7,-2.7 0.7,-21 0.7,21 0.7,-15.7 0.7,4 0.7,13.8 0.7,-7.6 0.7,11.2 0.7,23.1 0.7,-22.3 0.7,0.1 0.7,-15.1 0.7,3 0.7,-3.5 0.7,5.7 0.7,-4.8 0.7,4.7 0.7,4.9 0.7,-7.1 0.7,-3.5 0.7,1.1 0.7,18 0.7,-3.4 0.7,9.8 0.7,17.2 0.7,-29.6 0.7,10.1 0.7,-20 0.7,36.4 0.7,-10.1 0.7,-13.3 0.7,-8.8 0.7,15.3 0.7,-21.3 0.7,10.9 0.7,15.2 0.7,-6.2 0.7,-5.1 0.7,14.4 0.7,-18.9 0.7,13.2 0.7,-7.2 0.7,-3 0.7,13.1 0.7,-13.7 0.7,28.4 0.7,-23.7 0.7,25.3 0.7,-29.5 0.7,16.9 0.7,-17.1 0.7,-1 0.7,14.9 0.7,5.4 0.7,-18.5 0.7,24.2 0.7,-18.8 0.7,9.4 0.7,2.8 0.7,2.5 0.7,-22.8 0.7,33.6 0.7,-9.8 0.7,-9.1 0.7,-5.2 0.7,-5.9 0.7,3.8 0.7,19.1 0.7,-7.9 0.7,-7.1 0.7,6.5 0.7,20.9 0.7,-17.7 0.7,-1.9 0.7,36.3 0.7,-24.9 0.7,-3.4 0.7,-5.7 0.7,-8.6 0.7,4.4 0.7,7.3 0.7,3.2 0.7,6.2 0.7,2.5 0.7,-2.5 0.7,0.6 0.7,-11.4 0.7,-10.6 0.7,33.2 0.7,-20.5 0.7,3.4 0.7,4 0.7,-9.1 0.7,1.5 0.7,10.1 0.7,2.3 0.7,-7.3 0.7,11.5 0.7,-6.8 0.7,-7.5 0.7,10.5 0.7,18.2 0.7,-11.5 0.7,5 0.7,2.3 0.7,1.4 0.7,-22.4 0.7,27.9 0.7,-1.9 0.7,-19.8 0.7,0.4 0.7,8.4 0.7,-5.2 0.7,-2 0.7,27.1 0.7,-31.9 0.7,-2.9 0.7,18.1 0.7,-0.6 0.7,4 0.7,-20.9 0.7,21.2 0.7,-5.6 0.7,12.7 0.7,-29.1 0.7,14.5 0.7,-4.6 0.7,-12.5 0.7,8.7 0.7,18.2 0.7,-15.3 0.7,-2.3 0.7,15.7 0.7,15.4 0.7,-13.8 0.7,-17 0.7,7.3 0.7,-3.5 0.7,-1.9 0.7,-0.8 0.7,25.9 0.7,-3.1 0.7,-26.2 0.7,-13.9 0.7,11.3 0.7,-12.4 0.7,25.4 0.7,7.5 0.7,-7.3 0.7,-5.2 0.7,8.4 0.7,-10.7 0.7,9.1 0.7,-5.7 0.7,32.5 0.7,-18 0.7,-15.9 0.7,-1.5 0.7,-11 0.7,5 0.7,9.1 0.7,0 0.7,15.9 0.7,-12.6 0.7,-3.3 0.7,-5.2 0.7,1.7 0.7,-1.9 0.7,11.5 0.7,13.3 0.7,-17 0.7,16.5 0.7,-7.6 0.7,-2.4 0.7,-19.3 0.7,7.1 0.7,19.8 0.7,6.6 0.7,-11.5 0.7,5.6 0.7,-11.2 0.7,0.5 0.7,-2.7 0.7,16 0.7,-6 0.7,-5.4 0.7,-0.8 0.7,8.7 0.7,-2.1 0.7,-11.1 0.7,7.9 0.7,3 0.7,-2.3 0.7,14.4 0.7,-4.3 0.7,-10.6 0.7,6.2 0.7,-15.4 0.7,4.3 0.7,-15.6 0.7,33.9 0.7,-30.1 0.7,25.2 0.7,-28.5 0.7,12.7 0.7,7.7 0.7,4.6 0.7,3.5 0.7,11.3 0.7,-25.6 0.7,17.2 0.7,-14.2 0.7,12.8 0.7,11.3 0.7,-33.5 0.7,14.7 0.7,0.4 0.7,2.6 0.7,2.1 0.7,-8.7 0.7,-2.2 0.7,14.5 0.7,-23.5 0.7,10.5 0.7,21.1 0.7,-41.1 0.7,19.6 0.7,13.5 0.7,-22.5 0.7,41.1 0.7,-50 0.7,39 0.7,1.3 0.7,-6.1 0.7,-10.9 0.7,5.7 0.7,-12.1 0.7,16.6 0.7,-18.5 0.7,8.3 0.7,12.3 0.7,-20.2 0.7,7.3 0.7,5.2 0.7,-14.4 0.7,24.3 0.7,-7.9 0.7,-17.8 0.7,14.3 0.7,-7 0.7,1.3 0.7,7.2 0.7,-7.5 0.7,1.2 0.7,-1 0.7,16.4 0.7,-9.8 0.7,8.8 0.7,-13.4 0.7,0.4 0.7,-6.1 0.7,16.8 0.7,3.6 0.7,11.5 0.7,-7.9 0.7,-10 0.7,-4.3 0.7,5.9 0.7,-4 0.7,14.5 0.7,-4.9 0.7,-17.1 0.7,1.6 0.7,19.9 0.7,-10.1 0.7,-5.1 0.7,13.7 0.7,-15 0.7,1.1 0.7,-1.7 0.7,-14.4 0.7,27.3 0.7,-19.9 0.7,6.3 0.7,-1.6 0.7,14.2 0.7,-7.6 0.7,0.9 0.7,-16.2 0.7,15.4 0.7,-13.3 0.7,17.2 0.7,0.6 0.7,-3.6 0.7,19.9 0.7,-14.5 0.7,0.7 0.7,-4.3 0.7,-3.1 0.7,11.2 0.7,1.4 0.7,-23.1 0.7,22.8 0.7,-5.2 0.7,4.4 0.7,-4.7 0.7,-16.4 0.7,0.8 0.7,28.9 0.7,-15 0.7,-16 0.7,17 0.7,-6.7 0.7,-14.2 0.7,-4.2 0.7,6.6 0.7,18.1 0.7,-3 0.7,-1.8 0.7,5.2 0.7,3.1 0.7,-25.9 0.7,17.4 0.7,-5 0.7,-3.8 0.7,6.6 0.7,4.2 0.7,-1.3 0.7,-11.4 0.7,9.4 0.7,24.1 0.7,-29.4 0.7,-18.5 0.7,31.4 0.7,3.1 0.7,-1.2 0.7,-15.1 0.7,20.4 0.7,-17 0.7,-3.3 0.7,5.1 0.7,4.9 0.7,7.9 0.7,-0.8 0.7,-17.3 0.7,20.4 0.7,-8 0.7,7.9 0.7,-22 0.7,-1.5 0.7,22.6 0.7,-20.7 0.7,10.6 0.7,2 0.7,-3.6 0.7,0.5 0.7,17.8 0.7,-37.5 0.7,32.8 0.7,13.7 0.7,-21.7 0.7,-0.3 0.7,7.3 0.7,10.7 0.7,-28.8 0.7,12.3 0.7,-15.5 0.7,20.2 0.7,-3.7 0.7,4.9 0.7,-10.2 0.7,4.6 0.7,-6.8 0.7,0.2 0.7,5.1 0.7,0.1 0.7,-9.7 0.7,26.4 0.7,-16.2 0.7,-11.9 0.7,23.9 0.7,-17.6 0.7,12.2 0.7,-4.9 0.7,2.6 0.7,-0.6 0.7,-7 0.7,22.7 0.7,2.4 0.7,-40.7 0.7,22.1 0.7,3.7 0.7,-14.1 0.7,-2.9 0.7,33.8 0.7,-24.1 0.7,23.6 0.7,-14.7 0.7,-4.2 0.7,3.9 0.7,1.6 0.7,5.3 0.7,-6.9 0.7,-2.7 0.7,0.4 0.7,11.3 0.7,-5 0.7,-17.2 0.7,3.6 0.7,9.3 0.7,-8.9 0.7,2.4 0.7,-5.4 0.7,6.7 0.7,6.7 0.7,5.6 0.7,-9.3 0.7,19.8 0.7,-20.5 0.7,31.3 0.7,-20.8 0.7,-4.8 0.7,4.6 0.7,-36.2 0.7,25.6 0.7,3.2 0.7,16.7 0.7,-31.4 0.7,31.3 0.7,-20.5 0.7,9.4 0.7,-31.1 0.7,25.6 0.7,-4.5 0.7,9.8 0.7,-5.6 0.7,-11.7 0.7,20 0.7,-2.4 0.7,-0.8 0.7,4 0.7,-10.8 0.7,1 0.7,-12.6 0.7,-0.2 0.7,26.1 0.7,-6.1 0.7,-5.7 0.7,-5.1 0.7,14.7 0.7,-10.2 0.7,-3.4 0.7,-3.3 0.7,14 0.7,-5.1 0.7,-7.9 0.7,-6.6 0.7,5.6 0.7,13.8 0.7,0.4 0.7,-9.2 0.7,2.6 0.7,-3.3 0.7,-7.6 0.7,23 0.7,-8.8 0.7,20.1 0.7,-30.7 0.7,5.9 0.7,9.8 0.7,-10.7 0.7,-10.8 0.7,-9.1 0.7,23.3 0.7,12.2 0.7,-13.9 0.7,10.5 0.7,-0.1 0.7,-6.3 0.7,-2.7 0.7,-2.6 0.7,7.7 0.7,3.5 0.7,-8.1 0.7,3.8 0.7,-7.3 0.7,-10.3 0.7,4 0.7,16.8 0.7,-3 0.7,10.9 0.7,-14.5 0.7,7.7 0.7,4.4 0.7,-3 0.7,-15.2 0.7,4.1 0.7,3 0.7,-0.4 0.7,3.8 0.7,5.2 0.7,-26.8 0.7,35.9 0.7,-21.4 0.7,17.2 0.7,-16.6 0.7,12.6 0.7,-6.3 0.7,-3.7 0.7,15.6 0.7,-9.9 0.7,-0.6 0.7,-7.2 0.7,-23.5 0.7,24.9 0.7,-7.2 0.7,17.1 0.7,-9.2 0.7,16.1 0.7,-8.8 0.7,1 0.7,-5.7 0.7,-0.1 0.7,4.2 0.7,2.6 0.7,-15.4 0.7,11.5 0.7,20.2 0.7,-25.7 0.7,-1.5 0.7,-4.1 0.7,-7.1 0.7,25.1 0.7,-10.7 0.7,2.3 0.7,14.7 0.7,6.3 0.7,-32.1 0.7,18.5 0.7,-4.1 0.7,-2 0.7,0.8 0.7,-4.7 0.7,15.3 0.7,-9.2 0.7,-2.5 0.7,8.6 0.7,-3.3 0.7,-4 0.7,-1.3 0.7,13.6 0.7,-11.7 0.7,-5.6 0.7,-7.3 0.7,4.9 0.7,-6.6 0.7,11 0.7,1.5 0.7,-21.8 0.7,19.6 0.7,6 0.7,-4.5 0.7,-10.5 0.7,21 0.7,-18.5 0.7,-5 0.7,1.5 0.7,25.2 0.7,-5.6 0.7,1.7 0.7,-8.9 0.7,-13.2 0.7,5.1 0.7,-2.3 0.7,6.9 0.7,-15 0.7,17.8 0.7,5.1 0.7,-7.4 0.7,5.8 0.7,-13.2 0.7,-4.8 0.7,7.7 0.7,17 0.7,-1.1 0.7,-14 0.7,3.2 0.7,-1.9 0.7,17.4 0.7,-9.7 0.7,-8.7 0.7,11.8 0.7,-14.8 0.7,-1.4 0.7,-4.8 0.7,16.1 0.7,-2.9 0.7,-0.1 0.7,-3.1 0.7,17.4 0.7,-17.5 0.7,-2.7 0.7,18.6 0.7,1.7 0.7,-10.2 0.7,-19.5 0.7,10.8 0.7,11.4 0.7,-5.5 0.7,24.8 0.7,-37.8 0.7,19.4 0.7,-12.3 0.7,18.4 0.7,-13.1 0.7,10.5 0.7,-15.8 0.7,-7.1 0.7,2.9 0.7,4.7 0.7,-3.8 0.7,21 0.7,1.3 0.7,-10 0.7,-12.2 0.7,8.6 0.7,-21.3 0.7,36.2 0.7,4.6 0.7,-13.6 0.7,-8.3 0.7,-15.1 0.7,11.7 0.7,-3.2 0.7,3.2 0.7,8.3 0.7,-8.4 0.7,3.9 0.7,5.3 0.7,-10.6 0.7,0.5 0.7,6.5 0.7,-4.4 0.7,2.6 0.7,9 0.7,11.4 0.7,-33 0.7,16.6 0.7,0.6 0.7,-1.2 0.7,-0.9 0.7,-1.4 0.7,12.7 0.7,-13.8 0.7,3.2 0.7,1.3 0.7,1 0.7,13.7 0.7,-5.3 0.7,-9.4 0.7,1.8 0.7,-2.1 0.7,-8.9 0.7,1.7 0.7,-2.1 0.7,11.7 0.7,-8.4 0.7,-3.3 0.7,12.3 0.7,2.7 0.7,-21.4 0.7,32.4 0.7,-15.5 0.7,-1.3 0.7,11.1 0.7,-9.3 0.7,-6.3 0.7,26.2 0.7,-30.6 0.7,9.2 0.7,8.9 0.7,-17.9 0.7,9.1 0.7,4.6 0.7,18.9 0.7,-30.8 0.7,8 0.7,6.6 0.7,-5.4 0.7,-11.9 0.7,15.1 0.7,10.8 0.7,-10.4 0.7,6.5 0.7,-1.1 0.7,-5.6 0.7,-0.9 0.7,-13.2 0.7,9.1 0.7,3.4 0.7,-19.1 0.7,18 0.7,-8.6 0.7,22.1 0.7,5.8 0.7,-23.7 0.7,7.4 0.7,-5.9 0.7,14 0.7,-7.7 0.7,-3.3 0.7,-2.7 0.7,3.3 0.7,-10.5 0.7,15.7 0.7,-0.6 0.7,-0.7 0.7,12.1 0.7,-6.8 0.7,-10.3 0.7,9.7 0.7,-18.1 0.7,14.3 0.7,-7.7 0.7,3.9 0.7,-1.1 0.7,-6.9 0.7,-12.5 0.7,21.9 0.7,-16.9 0.7,25.2 0.7,-29.6 0.7,9.1 0.7,-20.9 0.7,45.6 0.7,-27.3 0.7,13.1 0.7,-6 0.7,-11.8 0.7,13.7 0.7,9.4 0.7,-7.9 0.7,10.5 0.7,-12.1 0.7,3.5 0.7,-3.7 0.7,6.8 0.7,1.1 0.7,-0.9 0.7,-1.5 0.7,-7.6 0.7,-1.2 0.7,20.7 0.7,-37.6 0.7,15.5 0.7,7.6 0.7,-3.1 0.7,22.3 0.7,-40.3 0.7,25.4 0.7,3.3 0.7,-17 0.7,4.4 0.7,10.1 0.7,11.1 0.7,-23.7 0.7,-6.1 0.7,23.8 0.7,5.1 0.7,-17.3 0.7,-17.4 0.7,34.1 0.7,-15.3 0.7,12.3 0.7,-10.8 0.7,-3.1 0.7,-0.7 0.7,17.9 0.7,-0.3 0.7,-23.5 0.7,1.5 0.7,25.2 0.7,-19.9 0.7,-9.2 0.7,12.7 0.7,-1 0.7,0.1 0.7,-3.6 0.7,1.6 0.7,-1.3 0.7,7.4 0.7,-10.7 0.7,4.9 0.7,1.4 0.7,13.5 0.7,-8.7 0.7,-4.4 0.7,6 0.7,-1.2 0.7,6.3 0.7,-5.3 0.7,11.9 0.7,-4.1 0.7,-12.9 0.7,-3.4 0.7,12 0.7,-3.3 0.7,-5.7 0.7,-12.8 0.7,-3.3 0.7,20.3 0.7,3.9 0.7,0.3 0.7,-19.4 0.7,21.6 0.7,-14.5 0.7,8.6 0.7,0.2 0.7,-11.3 0.7,18 0.7,-29.7 0.7,10.7 0.7,3.7 0.7,8.9 0.7,-3.4 0.7,7.9 0.7,-5.2 0.7,-9.1 0.7,9.1 0.7,-6.8 0.7,9.3 0.7,-2.7 0.7,-12.1 0.7,9.2 0.7,0.5 0.7,-3.3 0.7,11.1 0.7,7.6 0.7,-19.2 0.7,-12.4 0.7,-5 0.7,19.6 0.7,-2.8 0.7,-16 0.7,22.8 0.7,2.8 0.7,-12.3 0.7,3.4 0.7,-5.5 0.7,16 0.7,-21.1 0.7,11.2 0.7,21 0.7,-27.4 0.7,13.7 0.7,-5.7 0.7,-9.5 0.7,10.6 0.7,4.1 0.7,-13.2 0.7,12.6 0.7,8.4 0.7,-1.6 0.7,-24.5 0.7,5.6 0.7,-5.9 0.7,24.9 0.7,-4.2 0.7,0.8 0.7,-14.6 0.7,-2.6 0.7,11.5 0.7,0.2 0.7,-8.8 0.7,9.3 0.7,4.6 0.7,-3.8 0.7,-11.7 0.7,-9.9 0.7,17.1 0.7,4 0.7,-3.9 0.7,-1.6 0.7,-2.4 0.7,13 0.7,-7 0.7,1.6 0.7,-10.1 0.7,3.3 0.7,7.2 0.7,-10.7 0.7,-2.4 0.7,8.6 0.7,14.2 0.7,1.4 0.7,1 0.7,-14.7 0.7,-1.6 0.7,1.9 0.7,8.6 0.7,5.7 0.7,-21.5 0.7,15 0.7,-0.2 0.7,7 0.7,-15.4 0.7,3 0.7,5.1 0.7,-1.9 0.7,0.3 0.7,-3.1 0.7,-8.5 0.7,4.7 0.7,-6.2 0.7,17.9 0.7,-28.6 0.7,17.4 0.7,24 0.7,-25.1 0.7,-7.3 0.7,10.3 0.7,12.1 0.7,-13.3 0.7,7.1 0.7,-4.7 0.7,-4.3 0.7,32.4 0.7,-28.3 0.7,6.1 0.7,-11.2 0.7,8 0.7,0.3 0.7,3.3 0.7,-5.8 0.7,-14.4 0.7,31.7 0.7,-21.3 0.7,0.2 0.7,-11 0.7,8.4 0.7,-1.4 0.7,6.4 0.7,-13.1 0.7,13.9 0.7,0.7 0.7,-11.4 0.7,4.5 0.7,-2.1 0.7,16.3 0.7,-31.6 0.7,20.1 0.7,-22.8 0.7,10 0.7,23.8 0.7,-13.6 0.7,7.1 0.7,-9.1 0.7,25.6 0.7,-9.4 0.7,2 0.7,-22.6 0.7,2.1 0.7,20 0.7,-11.7 0.7,-0.6 0.7,5.5 0.7,-14.6 0.7,18.6 0.7,-6.9 0.7,4.2 0.7,-10.6 0.7,10.9 0.7,-11.2 0.7,15.3 0.7,1.6 0.7,-2 0.7,-3.7 0.7,1.1 0.7,-30.6 0.7,32.5 0.7,-10.2 0.7,3.4 0.7,-3.5 0.7,-10.2 0.7,7.9 0.7,10.9 0.7,7 0.7,-18.7 0.7,-2.6 0.7,21.6 0.7,-21.4 0.7,27.1 0.7,-18.5 0.7,-8.6 0.7,17.1 0.7,6.5 0.7,-28.6 0.7,27.4 0.7,-16.9 0.7,16.2 0.7,-17.1 0.7,-10.9 0.7,19 0.7,3.9 0.7,10.7 0.7,-3.4 0.7,-9.4 0.7,-8.6 0.7,-2.6 0.7,2.1 0.7,-4.9 0.7,5.1 0.7,-20.8 0.7,24.9 0.7,-1.9 0.7,23.8 0.7,-16.6 0.7,-11.3 0.7,9.6 0.7,-16.4 0.7,5.7 0.7,-11.6 0.7,30.2 0.7,-7.7 0.7,-16.2 0.7,10.2 0.7,9.3 0.7,-4.2 0.7,-1 0.7,-11.3 0.7,2 0.7,6.7 0.7,7.5 0.7,-16 0.7,-2.6 0.7,20.7 0.7,-19 0.7,18.3 0.7,-7.6 0.7,5.8 0.7,7.9 0.7,-9.6 0.7,0.8 0.7,-15.5 0.7,2.1 0.7,12.2 0.7,8.1 0.7,-17.1 0.7,24.3 0.7,-18.4 0.7,-0.9 0.7,7.3 0.7,-9 0.7,-0.8 0.7,-9 0.7,18.6 0.7,-18.8 0.7,14.5 0.7,-17.6 0.7,22.9 0.7,-19.4 0.7,17.1 0.7,-22.2 0.7,10.5 0.7,14.8 0.7,-18.1 0.7,8 0.7,-4.9 0.7,-16.7 0.7,23.9 0.7,1.1 0.7,-14 0.7,15.3 0.7,-12.4 0.7,-1.9 0.7,9.2 0.7,-6.3 0.7,27.2 0.7,-35.1 0.7,20.9 0.7,2.3 0.7,-27 0.7,2.3 0.7,20.9 0.7,-9.5 0.7,7.9 0.7,6.9 0.7,-13.8 0.7,-6.2 0.7,-15.2 0.7,26.7 0.7,-10.3 0.7,-0.6 0.7,11.2 0.7,-14.7 0.7,28.3 0.7,-5.8 0.7,-2.1 0.7,-18.5 0.7,7.1 0.7,-1.2 0.7,1.2 0.7,-6.5 0.7,14.2 0.7,13 0.7,-13.6 0.7,-7.9 0.7,16.4 0.7,-10 0.7,-26.6 0.7,19.1 0.7,5.3 0.7,9.3 0.7,-20.8 0.7,9.8 0.7,-3.8 0.7,12.1 0.7,-10.1 0.7,-1.4 0.7,-1.2 0.7,11.8 0.7,-9.9 0.7,-10.4 0.7,20.9 0.7,-12 0.7,9.7 0.7,0.1 0.7,7.6 0.7,-1.5 0.7,-14.6 0.7,3.7 0.7,-10.2 0.7,26.9 0.7,3.2 0.7,-5.7 0.7,-15.5 0.7,-15.7 0.7,32.5 0.7,-13 0.7,0.3 0.7,-0.7 0.7,-7.3 0.7,11.7 0.7,-19.2 0.7,24.3 0.7,-14.7 0.7,0.6 0.7,19.9 0.7,-7.3 0.7,-11.4 0.7,-13.7 0.7,18.3 0.7,3.4 0.7,-21.2 0.7,5.1 0.7,4.1 0.7,-4.2 0.7,13.4 0.7,-6 0.7,13.3 0.7,-15.9 0.7,8.8 0.7,2.9 0.7,-9.6 0.7,3.3 0.7,20.6 0.7,-17.4 0.7,6.1 0.7,-11.9 0.7,4.4 0.7,-15.9 0.7,15.3 0.7,11 0.7,8.2 0.7,-8.1 0.7,-4.6 0.7,-5.7 0.7,-5.9 0.7,4 0.7,7 0.7,-12.6 0.7,15.5 0.7,-17.3 0.7,-7.2 0.7,7 0.7,-5.9 0.7,2.6 0.7,22.7 0.7,-12 0.7,3.8" fill="none" stroke="#0000ff" stroke-width="2.5" stroke-linejoin="round" stroke-linecap="round"/>
<path d="M601.5,90.0 L603.0,70.0 L604.5,90.0" fill="none" stroke="#0000ff" stroke-width="3.0" stroke-linejoin="round" stroke-linecap="round"/>
<path d="M652.0,125.0 L653.5,106.0 L655.0,125.0" fill="none" stroke="#0000ff" stroke-width="3.0" stroke-linejoin="round" stroke-linecap="round"/>
</g>
<g filter="url(#bl2)">
<path d="M184.7 1554.0 V55.5 H1970.5 V1554.0" fill="none" stroke="#1e1e1e" stroke-width="6"/>
<line x1="166" y1="1554.0" x2="1973.0" y2="1554.0" stroke="#1e1e1e" stroke-width="6"/>
<line x1="184.7" y1="1554.0" x2="184.7" y2="1585.0" stroke="#1e1e1e" stroke-width="5"/>
<line x1="283.9" y1="1554.0" x2="283.9" y2="1571.0" stroke="#1e1e1e" stroke-width="5"/>
<line x1="383.1" y1="1554.0" x2="383.1" y2="1585.0" stroke="#1e1e1e" stroke-width="5"/>
<line x1="482.3" y1="1554.0" x2="482.3" y2="1571.0" stroke="#1e1e1e" stroke-width="5"/>
<line x1="581.5" y1="1554.0" x2="581.5" y2="1585.0" stroke="#1e1e1e" stroke-width="5"/>
<line x1="680.8" y1="1554.0" x2="680.8" y2="1571.0" stroke="#1e1e1e" stroke-width="5"/>
<line x1="780.0" y1="1554.0" x2="780.0" y2="1585.0" stroke="#1e1e1e" stroke-width="5"/>
<line x1="879.2" y1="1554.0" x2="879.2" y2="1571.0" stroke="#1e1e1e" stroke-width="5"/>
<line x1="978.4" y1="1554.0" x2="978.4" y2="1585.0" stroke="#1e1e1e" stroke-width="5"/>
<line x1="1077.6" y1="1554.0" x2="1077.6" y2="1571.0" stroke="#1e1e1e" stroke-width="5"/>
<line x1="1176.8" y1="1554.0" x2="1176.8" y2="1585.0" stroke="#1e1e1e" stroke-width="5"/>
<line x1="1276.0" y1="1554.0" x2="1276.0" y2="1571.0" stroke="#1e1e1e" stroke-width="5"/>
<line x1="1375.2" y1="1554.0" x2="1375.2" y2="1585.0" stroke="#1e1e1e" stroke-width="5"/>
<line x1="1474.4" y1="1554.0" x2="1474.4" y2="1571.0" stroke="#1e1e1e" stroke-width="5"/>
<line x1="1573.7" y1="1554.0" x2="1573.7" y2="1585.0" stroke="#1e1e1e" stroke-width="5"/>
<line x1="1672.9" y1="1554.0" x2="1672.9" y2="1571.0" stroke="#1e1e1e" stroke-width="5"/>
<line x1="1772.1" y1="1554.0" x2="1772.1" y2="1585.0" stroke="#1e1e1e" stroke-width="5"/>
<line x1="1871.3" y1="1554.0" x2="1871.3" y2="1571.0" stroke="#1e1e1e" stroke-width="5"/>
<line x1="1970.5" y1="1554.0" x2="1970.5" y2="1585.0" stroke="#1e1e1e" stroke-width="5"/>
<text x="184.7" y="1652" text-anchor="middle" font-family="Liberation Sans, Arial, sans-serif" font-size="64" fill="#111">0</text>
<text x="383.1" y="1652" text-anchor="middle" font-family="Liberation Sans, Arial, sans-serif" font-size="64" fill="#111">10</text>
<text x="581.5" y="1652" text-anchor="middle" font-family="Liberation Sans, Arial, sans-serif" font-size="64" fill="#111">20</text>
<text x="780.0" y="1652" text-anchor="middle" font-family="Liberation Sans, Arial, sans-serif" font-size="64" fill="#111">30</text>
<text x="978.4" y="1652" text-anchor="middle" font-family="Liberation Sans, Arial, sans-serif" font-size="64" fill="#111">40</text>
<text x="1176.8" y="1652" text-anchor="middle" font-family="Liberation Sans, Arial, sans-serif" font-size="64" fill="#111">50</text>
<text x="1375.2" y="1652" text-anchor="middle" font-family="Liberation Sans, Arial, sans-serif" font-size="64" fill="#111">60</text>
<text x="1573.7" y="1652" text-anchor="middle" font-family="Liberation Sans, Arial, sans-serif" font-size="64" fill="#111">70</text>
<text x="1772.1" y="1652" text-anchor="middle" font-family="Liberation Sans, Arial, sans-serif" font-size="64" fill="#111">80</text>
<text x="1970.5" y="1652" text-anchor="middle" font-family="Liberation Sans, Arial, sans-serif" font-size="64" fill="#111">90</text>
<text x="1110.5" y="1751.5" text-anchor="middle" font-family="Liberation Sans, Arial, sans-serif" font-size="76" letter-spacing="0.9" fill="#111">2 theta (degree)</text>
<text transform="translate(94,871.5) rotate(-90)" text-anchor="middle" font-family="Liberation Sans, Arial, sans-serif" font-size="75.5" letter-spacing="0.7" fill="#111">Intensity (a.u.)</text>
<text x="1886" y="338.5" font-family="Liberation Serif, Times New Roman, serif" font-size="69" letter-spacing="1.3" fill="#111" text-anchor="end">rGO/POE</text>
<text x="1886" y="612.8" font-family="Liberation Serif, Times New Roman, serif" font-size="69" letter-spacing="1.3" fill="#111" text-anchor="end">GO/POE</text>
<text x="1886" y="858.5" font-family="Liberation Serif, Times New Roman, serif" font-size="69" letter-spacing="1.3" fill="#111" text-anchor="end">POE</text>
<text x="1886" y="1277.3" font-family="Liberation Serif, Times New Roman, serif" font-size="69" letter-spacing="1.3" fill="#111" text-anchor="end">rGO</text>
<text x="1886" y="1422.8" font-family="Liberation Serif, Times New Roman, serif" font-size="69" letter-spacing="1.3" fill="#111" text-anchor="end">GO</text>
</g>
<rect x="350" y="1645" width="13.8" height="10" fill="#ffffff"/>
<rect x="369" y="1645" width="14" height="10" fill="#ffffff"/>
</svg>
</body></html>
